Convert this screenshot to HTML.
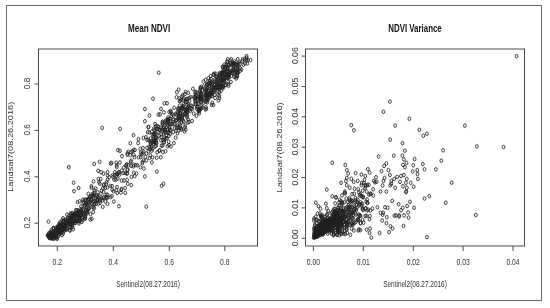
<!DOCTYPE html>
<html><head><meta charset="utf-8"><style>
html,body{margin:0;padding:0;background:#fff;}
svg{display:block;font-family:"Liberation Sans",sans-serif;will-change:transform;}
</style></head><body>
<svg width="550" height="308" viewBox="0 0 550 308">
<rect width="550" height="308" fill="#fff"/>
<rect x="6.5" y="5.5" width="535" height="295" fill="none" stroke="#6a6a6a" stroke-width="1"/>
<line x1="57.3" y1="246" x2="57.3" y2="251" stroke="#4a4a4a" stroke-width="1"/>
<text transform="translate(57.3,265.2) scale(0.69,1)" text-anchor="middle" style="font-size:9.8px;" fill="#333">0.2</text>
<line x1="113.3" y1="246" x2="113.3" y2="251" stroke="#4a4a4a" stroke-width="1"/>
<text transform="translate(113.3,265.2) scale(0.69,1)" text-anchor="middle" style="font-size:9.8px;" fill="#333">0.4</text>
<line x1="169.3" y1="246" x2="169.3" y2="251" stroke="#4a4a4a" stroke-width="1"/>
<text transform="translate(169.3,265.2) scale(0.69,1)" text-anchor="middle" style="font-size:9.8px;" fill="#333">0.6</text>
<line x1="224.8" y1="246" x2="224.8" y2="251" stroke="#4a4a4a" stroke-width="1"/>
<text transform="translate(224.8,265.2) scale(0.69,1)" text-anchor="middle" style="font-size:9.8px;" fill="#333">0.8</text>
<line x1="34.5" y1="223.2" x2="38.5" y2="223.2" stroke="#4a4a4a" stroke-width="1"/>
<text transform="translate(29.9,222.6) rotate(-90) scale(0.88,0.95)" text-anchor="middle" style="font-size:9.4px" fill="#333">0.2</text>
<line x1="34.5" y1="176.8" x2="38.5" y2="176.8" stroke="#4a4a4a" stroke-width="1"/>
<text transform="translate(29.9,176.20000000000002) rotate(-90) scale(0.88,0.95)" text-anchor="middle" style="font-size:9.4px" fill="#333">0.4</text>
<line x1="34.5" y1="130.4" x2="38.5" y2="130.4" stroke="#4a4a4a" stroke-width="1"/>
<text transform="translate(29.9,129.8) rotate(-90) scale(0.88,0.95)" text-anchor="middle" style="font-size:9.4px" fill="#333">0.6</text>
<line x1="34.5" y1="84" x2="38.5" y2="84" stroke="#4a4a4a" stroke-width="1"/>
<text transform="translate(29.9,83.4) rotate(-90) scale(0.88,0.95)" text-anchor="middle" style="font-size:9.4px" fill="#333">0.8</text>
<line x1="313.4" y1="246" x2="313.4" y2="251" stroke="#4a4a4a" stroke-width="1"/>
<text transform="translate(313.4,265.2) scale(0.69,1)" text-anchor="middle" style="font-size:9.8px;" fill="#333">0.00</text>
<line x1="363.3" y1="246" x2="363.3" y2="251" stroke="#4a4a4a" stroke-width="1"/>
<text transform="translate(363.3,265.2) scale(0.69,1)" text-anchor="middle" style="font-size:9.8px;" fill="#333">0.01</text>
<line x1="413.3" y1="246" x2="413.3" y2="251" stroke="#4a4a4a" stroke-width="1"/>
<text transform="translate(413.3,265.2) scale(0.69,1)" text-anchor="middle" style="font-size:9.8px;" fill="#333">0.02</text>
<line x1="463.1" y1="246" x2="463.1" y2="251" stroke="#4a4a4a" stroke-width="1"/>
<text transform="translate(463.1,265.2) scale(0.69,1)" text-anchor="middle" style="font-size:9.8px;" fill="#333">0.03</text>
<line x1="513.0" y1="246" x2="513.0" y2="251" stroke="#4a4a4a" stroke-width="1"/>
<text transform="translate(513.0,265.2) scale(0.69,1)" text-anchor="middle" style="font-size:9.8px;" fill="#333">0.04</text>
<line x1="301.5" y1="238.3" x2="305.5" y2="238.3" stroke="#4a4a4a" stroke-width="1"/>
<text transform="translate(297.6,237.9) rotate(-90) scale(0.92,0.95)" text-anchor="middle" style="font-size:9.4px" fill="#333">0.00</text>
<line x1="301.5" y1="207.9" x2="305.5" y2="207.9" stroke="#4a4a4a" stroke-width="1"/>
<text transform="translate(297.6,207.53) rotate(-90) scale(0.92,0.95)" text-anchor="middle" style="font-size:9.4px" fill="#333">0.01</text>
<line x1="301.5" y1="177.6" x2="305.5" y2="177.6" stroke="#4a4a4a" stroke-width="1"/>
<text transform="translate(297.6,177.16) rotate(-90) scale(0.92,0.95)" text-anchor="middle" style="font-size:9.4px" fill="#333">0.02</text>
<line x1="301.5" y1="147.2" x2="305.5" y2="147.2" stroke="#4a4a4a" stroke-width="1"/>
<text transform="translate(297.6,146.79) rotate(-90) scale(0.92,0.95)" text-anchor="middle" style="font-size:9.4px" fill="#333">0.03</text>
<line x1="301.5" y1="116.8" x2="305.5" y2="116.8" stroke="#4a4a4a" stroke-width="1"/>
<text transform="translate(297.6,116.42) rotate(-90) scale(0.92,0.95)" text-anchor="middle" style="font-size:9.4px" fill="#333">0.04</text>
<line x1="301.5" y1="86.5" x2="305.5" y2="86.5" stroke="#4a4a4a" stroke-width="1"/>
<text transform="translate(297.6,86.05000000000001) rotate(-90) scale(0.92,0.95)" text-anchor="middle" style="font-size:9.4px" fill="#333">0.05</text>
<line x1="301.5" y1="56.1" x2="305.5" y2="56.1" stroke="#4a4a4a" stroke-width="1"/>
<text transform="translate(297.6,55.680000000000014) rotate(-90) scale(0.92,0.95)" text-anchor="middle" style="font-size:9.4px" fill="#333">0.06</text>
<text transform="translate(148,286.6) scale(0.69,1)" text-anchor="middle" style="font-size:9.4px;" fill="#333">Sentinel2(08.27.2016)</text>
<text transform="translate(415,286.6) scale(0.69,1)" text-anchor="middle" style="font-size:9.4px;" fill="#333">Sentinel2(08.27.2016)</text>
<text transform="translate(13.4,146.8) rotate(-90) scale(0.98,0.85)" text-anchor="middle" style="font-size:9.4px" fill="#333">Landsat7(08.26.2016)</text>
<text transform="translate(281.5,147.4) rotate(-90) scale(0.98,0.85)" text-anchor="middle" style="font-size:9.4px" fill="#333">Landsat7(08.26.2016)</text>
<text transform="translate(149.1,32.4) scale(0.765,1)" text-anchor="middle" style="font-size:10.6px;font-weight:bold;" fill="#111">Mean NDVI</text>
<text transform="translate(415,32.4) scale(0.745,1)" text-anchor="middle" style="font-size:10.6px;font-weight:bold;" fill="#111">NDVI Variance</text>
<clipPath id="cl"><rect x="39" y="49" width="218" height="196.5"/></clipPath>
<clipPath id="cr"><rect x="306" y="49" width="218" height="196.5"/></clipPath>
<path clip-path="url(#cl)" d="M48.2,238.1a1.4,1.8 0 1,0 2.8,0a1.4,1.8 0 1,0 -2.8,0M47.6,237.5a1.4,1.8 0 1,0 2.8,0a1.4,1.8 0 1,0 -2.8,0M47.8,237.3a1.4,1.8 0 1,0 2.8,0a1.4,1.8 0 1,0 -2.8,0M46.1,235.2a1.4,1.8 0 1,0 2.8,0a1.4,1.8 0 1,0 -2.8,0M46.8,235.7a1.4,1.8 0 1,0 2.8,0a1.4,1.8 0 1,0 -2.8,0M47.2,236.0a1.4,1.8 0 1,0 2.8,0a1.4,1.8 0 1,0 -2.8,0M46.8,235.2a1.4,1.8 0 1,0 2.8,0a1.4,1.8 0 1,0 -2.8,0M50.0,238.4a1.4,1.8 0 1,0 2.8,0a1.4,1.8 0 1,0 -2.8,0M47.4,235.3a1.4,1.8 0 1,0 2.8,0a1.4,1.8 0 1,0 -2.8,0M48.4,236.4a1.4,1.8 0 1,0 2.8,0a1.4,1.8 0 1,0 -2.8,0M50.4,238.4a1.4,1.8 0 1,0 2.8,0a1.4,1.8 0 1,0 -2.8,0M49.4,236.9a1.4,1.8 0 1,0 2.8,0a1.4,1.8 0 1,0 -2.8,0M50.5,237.9a1.4,1.8 0 1,0 2.8,0a1.4,1.8 0 1,0 -2.8,0M48.4,235.2a1.4,1.8 0 1,0 2.8,0a1.4,1.8 0 1,0 -2.8,0M50.7,237.6a1.4,1.8 0 1,0 2.8,0a1.4,1.8 0 1,0 -2.8,0M49.8,236.5a1.4,1.8 0 1,0 2.8,0a1.4,1.8 0 1,0 -2.8,0M52.3,238.9a1.4,1.8 0 1,0 2.8,0a1.4,1.8 0 1,0 -2.8,0M49.8,236.0a1.4,1.8 0 1,0 2.8,0a1.4,1.8 0 1,0 -2.8,0M50.8,236.8a1.4,1.8 0 1,0 2.8,0a1.4,1.8 0 1,0 -2.8,0M47.6,232.9a1.4,1.8 0 1,0 2.8,0a1.4,1.8 0 1,0 -2.8,0M50.6,236.2a1.4,1.8 0 1,0 2.8,0a1.4,1.8 0 1,0 -2.8,0M48.9,233.9a1.4,1.8 0 1,0 2.8,0a1.4,1.8 0 1,0 -2.8,0M52.0,237.2a1.4,1.8 0 1,0 2.8,0a1.4,1.8 0 1,0 -2.8,0M52.9,238.1a1.4,1.8 0 1,0 2.8,0a1.4,1.8 0 1,0 -2.8,0M48.8,233.3a1.4,1.8 0 1,0 2.8,0a1.4,1.8 0 1,0 -2.8,0M50.5,234.9a1.4,1.8 0 1,0 2.8,0a1.4,1.8 0 1,0 -2.8,0M51.6,236.1a1.4,1.8 0 1,0 2.8,0a1.4,1.8 0 1,0 -2.8,0M49.7,233.6a1.4,1.8 0 1,0 2.8,0a1.4,1.8 0 1,0 -2.8,0M49.1,232.7a1.4,1.8 0 1,0 2.8,0a1.4,1.8 0 1,0 -2.8,0M51.8,235.5a1.4,1.8 0 1,0 2.8,0a1.4,1.8 0 1,0 -2.8,0M50.2,233.5a1.4,1.8 0 1,0 2.8,0a1.4,1.8 0 1,0 -2.8,0M51.5,234.9a1.4,1.8 0 1,0 2.8,0a1.4,1.8 0 1,0 -2.8,0M53.4,236.7a1.4,1.8 0 1,0 2.8,0a1.4,1.8 0 1,0 -2.8,0M54.8,238.2a1.4,1.8 0 1,0 2.8,0a1.4,1.8 0 1,0 -2.8,0M50.3,232.8a1.4,1.8 0 1,0 2.8,0a1.4,1.8 0 1,0 -2.8,0M55.8,238.8a1.4,1.8 0 1,0 2.8,0a1.4,1.8 0 1,0 -2.8,0M49.6,231.7a1.4,1.8 0 1,0 2.8,0a1.4,1.8 0 1,0 -2.8,0M51.9,234.0a1.4,1.8 0 1,0 2.8,0a1.4,1.8 0 1,0 -2.8,0M52.7,234.8a1.4,1.8 0 1,0 2.8,0a1.4,1.8 0 1,0 -2.8,0M54.3,236.2a1.4,1.8 0 1,0 2.8,0a1.4,1.8 0 1,0 -2.8,0M55.2,237.1a1.4,1.8 0 1,0 2.8,0a1.4,1.8 0 1,0 -2.8,0M54.0,235.5a1.4,1.8 0 1,0 2.8,0a1.4,1.8 0 1,0 -2.8,0M53.7,234.9a1.4,1.8 0 1,0 2.8,0a1.4,1.8 0 1,0 -2.8,0M55.3,236.7a1.4,1.8 0 1,0 2.8,0a1.4,1.8 0 1,0 -2.8,0M52.7,233.5a1.4,1.8 0 1,0 2.8,0a1.4,1.8 0 1,0 -2.8,0M54.2,234.9a1.4,1.8 0 1,0 2.8,0a1.4,1.8 0 1,0 -2.8,0M49.9,229.9a1.4,1.8 0 1,0 2.8,0a1.4,1.8 0 1,0 -2.8,0M52.8,232.9a1.4,1.8 0 1,0 2.8,0a1.4,1.8 0 1,0 -2.8,0M54.6,234.8a1.4,1.8 0 1,0 2.8,0a1.4,1.8 0 1,0 -2.8,0M52.3,231.9a1.4,1.8 0 1,0 2.8,0a1.4,1.8 0 1,0 -2.8,0M52.9,232.4a1.4,1.8 0 1,0 2.8,0a1.4,1.8 0 1,0 -2.8,0M54.5,233.9a1.4,1.8 0 1,0 2.8,0a1.4,1.8 0 1,0 -2.8,0M54.1,233.4a1.4,1.8 0 1,0 2.8,0a1.4,1.8 0 1,0 -2.8,0M53.8,232.7a1.4,1.8 0 1,0 2.8,0a1.4,1.8 0 1,0 -2.8,0M53.9,232.7a1.4,1.8 0 1,0 2.8,0a1.4,1.8 0 1,0 -2.8,0M57.1,236.2a1.4,1.8 0 1,0 2.8,0a1.4,1.8 0 1,0 -2.8,0M53.6,232.0a1.4,1.8 0 1,0 2.8,0a1.4,1.8 0 1,0 -2.8,0M52.8,230.9a1.4,1.8 0 1,0 2.8,0a1.4,1.8 0 1,0 -2.8,0M54.8,232.7a1.4,1.8 0 1,0 2.8,0a1.4,1.8 0 1,0 -2.8,0M54.9,232.8a1.4,1.8 0 1,0 2.8,0a1.4,1.8 0 1,0 -2.8,0M54.7,232.2a1.4,1.8 0 1,0 2.8,0a1.4,1.8 0 1,0 -2.8,0M54.0,231.3a1.4,1.8 0 1,0 2.8,0a1.4,1.8 0 1,0 -2.8,0M52.2,229.1a1.4,1.8 0 1,0 2.8,0a1.4,1.8 0 1,0 -2.8,0M56.0,233.0a1.4,1.8 0 1,0 2.8,0a1.4,1.8 0 1,0 -2.8,0M55.3,232.0a1.4,1.8 0 1,0 2.8,0a1.4,1.8 0 1,0 -2.8,0M52.0,228.1a1.4,1.8 0 1,0 2.8,0a1.4,1.8 0 1,0 -2.8,0M55.7,232.2a1.4,1.8 0 1,0 2.8,0a1.4,1.8 0 1,0 -2.8,0M57.9,234.4a1.4,1.8 0 1,0 2.8,0a1.4,1.8 0 1,0 -2.8,0M52.3,228.0a1.4,1.8 0 1,0 2.8,0a1.4,1.8 0 1,0 -2.8,0M56.8,232.8a1.4,1.8 0 1,0 2.8,0a1.4,1.8 0 1,0 -2.8,0M54.3,229.6a1.4,1.8 0 1,0 2.8,0a1.4,1.8 0 1,0 -2.8,0M57.1,232.8a1.4,1.8 0 1,0 2.8,0a1.4,1.8 0 1,0 -2.8,0M56.0,231.0a1.4,1.8 0 1,0 2.8,0a1.4,1.8 0 1,0 -2.8,0M58.4,233.7a1.4,1.8 0 1,0 2.8,0a1.4,1.8 0 1,0 -2.8,0M55.4,230.1a1.4,1.8 0 1,0 2.8,0a1.4,1.8 0 1,0 -2.8,0M56.0,230.6a1.4,1.8 0 1,0 2.8,0a1.4,1.8 0 1,0 -2.8,0M56.8,231.4a1.4,1.8 0 1,0 2.8,0a1.4,1.8 0 1,0 -2.8,0M57.2,231.5a1.4,1.8 0 1,0 2.8,0a1.4,1.8 0 1,0 -2.8,0M60.6,235.0a1.4,1.8 0 1,0 2.8,0a1.4,1.8 0 1,0 -2.8,0M56.5,230.1a1.4,1.8 0 1,0 2.8,0a1.4,1.8 0 1,0 -2.8,0M55.7,229.2a1.4,1.8 0 1,0 2.8,0a1.4,1.8 0 1,0 -2.8,0M57.5,230.9a1.4,1.8 0 1,0 2.8,0a1.4,1.8 0 1,0 -2.8,0M58.0,231.3a1.4,1.8 0 1,0 2.8,0a1.4,1.8 0 1,0 -2.8,0M54.8,227.5a1.4,1.8 0 1,0 2.8,0a1.4,1.8 0 1,0 -2.8,0M57.2,230.0a1.4,1.8 0 1,0 2.8,0a1.4,1.8 0 1,0 -2.8,0M57.4,230.1a1.4,1.8 0 1,0 2.8,0a1.4,1.8 0 1,0 -2.8,0M59.6,232.3a1.4,1.8 0 1,0 2.8,0a1.4,1.8 0 1,0 -2.8,0M59.4,231.9a1.4,1.8 0 1,0 2.8,0a1.4,1.8 0 1,0 -2.8,0M58.3,230.4a1.4,1.8 0 1,0 2.8,0a1.4,1.8 0 1,0 -2.8,0M59.0,231.0a1.4,1.8 0 1,0 2.8,0a1.4,1.8 0 1,0 -2.8,0M56.7,228.1a1.4,1.8 0 1,0 2.8,0a1.4,1.8 0 1,0 -2.8,0M58.5,229.9a1.4,1.8 0 1,0 2.8,0a1.4,1.8 0 1,0 -2.8,0M61.8,233.5a1.4,1.8 0 1,0 2.8,0a1.4,1.8 0 1,0 -2.8,0M56.1,226.7a1.4,1.8 0 1,0 2.8,0a1.4,1.8 0 1,0 -2.8,0M56.3,226.9a1.4,1.8 0 1,0 2.8,0a1.4,1.8 0 1,0 -2.8,0M58.4,229.1a1.4,1.8 0 1,0 2.8,0a1.4,1.8 0 1,0 -2.8,0M57.7,228.0a1.4,1.8 0 1,0 2.8,0a1.4,1.8 0 1,0 -2.8,0M58.6,228.9a1.4,1.8 0 1,0 2.8,0a1.4,1.8 0 1,0 -2.8,0M57.6,227.4a1.4,1.8 0 1,0 2.8,0a1.4,1.8 0 1,0 -2.8,0M60.6,230.5a1.4,1.8 0 1,0 2.8,0a1.4,1.8 0 1,0 -2.8,0M58.0,227.5a1.4,1.8 0 1,0 2.8,0a1.4,1.8 0 1,0 -2.8,0M61.8,231.5a1.4,1.8 0 1,0 2.8,0a1.4,1.8 0 1,0 -2.8,0M59.7,229.0a1.4,1.8 0 1,0 2.8,0a1.4,1.8 0 1,0 -2.8,0M60.8,230.1a1.4,1.8 0 1,0 2.8,0a1.4,1.8 0 1,0 -2.8,0M57.5,226.1a1.4,1.8 0 1,0 2.8,0a1.4,1.8 0 1,0 -2.8,0M58.1,226.5a1.4,1.8 0 1,0 2.8,0a1.4,1.8 0 1,0 -2.8,0M60.8,229.5a1.4,1.8 0 1,0 2.8,0a1.4,1.8 0 1,0 -2.8,0M61.2,229.6a1.4,1.8 0 1,0 2.8,0a1.4,1.8 0 1,0 -2.8,0M60.7,228.8a1.4,1.8 0 1,0 2.8,0a1.4,1.8 0 1,0 -2.8,0M62.7,230.8a1.4,1.8 0 1,0 2.8,0a1.4,1.8 0 1,0 -2.8,0M61.6,229.4a1.4,1.8 0 1,0 2.8,0a1.4,1.8 0 1,0 -2.8,0M59.0,226.2a1.4,1.8 0 1,0 2.8,0a1.4,1.8 0 1,0 -2.8,0M61.7,229.1a1.4,1.8 0 1,0 2.8,0a1.4,1.8 0 1,0 -2.8,0M61.2,228.4a1.4,1.8 0 1,0 2.8,0a1.4,1.8 0 1,0 -2.8,0M61.3,228.3a1.4,1.8 0 1,0 2.8,0a1.4,1.8 0 1,0 -2.8,0M58.2,224.5a1.4,1.8 0 1,0 2.8,0a1.4,1.8 0 1,0 -2.8,0M57.7,223.7a1.4,1.8 0 1,0 2.8,0a1.4,1.8 0 1,0 -2.8,0M59.5,225.6a1.4,1.8 0 1,0 2.8,0a1.4,1.8 0 1,0 -2.8,0M58.8,224.5a1.4,1.8 0 1,0 2.8,0a1.4,1.8 0 1,0 -2.8,0M60.2,225.9a1.4,1.8 0 1,0 2.8,0a1.4,1.8 0 1,0 -2.8,0M62.9,228.7a1.4,1.8 0 1,0 2.8,0a1.4,1.8 0 1,0 -2.8,0M59.6,224.9a1.4,1.8 0 1,0 2.8,0a1.4,1.8 0 1,0 -2.8,0M61.4,226.5a1.4,1.8 0 1,0 2.8,0a1.4,1.8 0 1,0 -2.8,0M64.7,230.0a1.4,1.8 0 1,0 2.8,0a1.4,1.8 0 1,0 -2.8,0M60.5,225.3a1.4,1.8 0 1,0 2.8,0a1.4,1.8 0 1,0 -2.8,0M60.7,225.2a1.4,1.8 0 1,0 2.8,0a1.4,1.8 0 1,0 -2.8,0M62.2,226.7a1.4,1.8 0 1,0 2.8,0a1.4,1.8 0 1,0 -2.8,0M64.1,228.6a1.4,1.8 0 1,0 2.8,0a1.4,1.8 0 1,0 -2.8,0M61.3,225.1a1.4,1.8 0 1,0 2.8,0a1.4,1.8 0 1,0 -2.8,0M58.8,222.3a1.4,1.8 0 1,0 2.8,0a1.4,1.8 0 1,0 -2.8,0M62.0,225.6a1.4,1.8 0 1,0 2.8,0a1.4,1.8 0 1,0 -2.8,0M62.9,226.5a1.4,1.8 0 1,0 2.8,0a1.4,1.8 0 1,0 -2.8,0M65.2,228.7a1.4,1.8 0 1,0 2.8,0a1.4,1.8 0 1,0 -2.8,0M62.7,225.8a1.4,1.8 0 1,0 2.8,0a1.4,1.8 0 1,0 -2.8,0M63.2,226.2a1.4,1.8 0 1,0 2.8,0a1.4,1.8 0 1,0 -2.8,0M65.6,228.5a1.4,1.8 0 1,0 2.8,0a1.4,1.8 0 1,0 -2.8,0M62.4,224.8a1.4,1.8 0 1,0 2.8,0a1.4,1.8 0 1,0 -2.8,0M63.2,225.5a1.4,1.8 0 1,0 2.8,0a1.4,1.8 0 1,0 -2.8,0M63.5,225.5a1.4,1.8 0 1,0 2.8,0a1.4,1.8 0 1,0 -2.8,0M62.8,224.6a1.4,1.8 0 1,0 2.8,0a1.4,1.8 0 1,0 -2.8,0M63.5,225.1a1.4,1.8 0 1,0 2.8,0a1.4,1.8 0 1,0 -2.8,0M68.6,230.6a1.4,1.8 0 1,0 2.8,0a1.4,1.8 0 1,0 -2.8,0M68.2,229.8a1.4,1.8 0 1,0 2.8,0a1.4,1.8 0 1,0 -2.8,0M63.0,223.7a1.4,1.8 0 1,0 2.8,0a1.4,1.8 0 1,0 -2.8,0M63.7,224.3a1.4,1.8 0 1,0 2.8,0a1.4,1.8 0 1,0 -2.8,0M60.5,220.5a1.4,1.8 0 1,0 2.8,0a1.4,1.8 0 1,0 -2.8,0M61.8,221.7a1.4,1.8 0 1,0 2.8,0a1.4,1.8 0 1,0 -2.8,0M62.4,222.0a1.4,1.8 0 1,0 2.8,0a1.4,1.8 0 1,0 -2.8,0M65.1,224.7a1.4,1.8 0 1,0 2.8,0a1.4,1.8 0 1,0 -2.8,0M64.3,223.5a1.4,1.8 0 1,0 2.8,0a1.4,1.8 0 1,0 -2.8,0M62.7,221.4a1.4,1.8 0 1,0 2.8,0a1.4,1.8 0 1,0 -2.8,0M65.1,224.0a1.4,1.8 0 1,0 2.8,0a1.4,1.8 0 1,0 -2.8,0M62.1,220.3a1.4,1.8 0 1,0 2.8,0a1.4,1.8 0 1,0 -2.8,0M66.1,224.4a1.4,1.8 0 1,0 2.8,0a1.4,1.8 0 1,0 -2.8,0M68.7,227.3a1.4,1.8 0 1,0 2.8,0a1.4,1.8 0 1,0 -2.8,0M69.0,227.2a1.4,1.8 0 1,0 2.8,0a1.4,1.8 0 1,0 -2.8,0M65.4,223.1a1.4,1.8 0 1,0 2.8,0a1.4,1.8 0 1,0 -2.8,0M65.0,222.2a1.4,1.8 0 1,0 2.8,0a1.4,1.8 0 1,0 -2.8,0M61.7,218.2a1.4,1.8 0 1,0 2.8,0a1.4,1.8 0 1,0 -2.8,0M71.8,229.3a1.4,1.8 0 1,0 2.8,0a1.4,1.8 0 1,0 -2.8,0M67.1,223.8a1.4,1.8 0 1,0 2.8,0a1.4,1.8 0 1,0 -2.8,0M70.5,227.4a1.4,1.8 0 1,0 2.8,0a1.4,1.8 0 1,0 -2.8,0M64.1,220.0a1.4,1.8 0 1,0 2.8,0a1.4,1.8 0 1,0 -2.8,0M67.1,222.9a1.4,1.8 0 1,0 2.8,0a1.4,1.8 0 1,0 -2.8,0M65.6,221.0a1.4,1.8 0 1,0 2.8,0a1.4,1.8 0 1,0 -2.8,0M68.7,224.2a1.4,1.8 0 1,0 2.8,0a1.4,1.8 0 1,0 -2.8,0M71.1,226.8a1.4,1.8 0 1,0 2.8,0a1.4,1.8 0 1,0 -2.8,0M65.9,220.6a1.4,1.8 0 1,0 2.8,0a1.4,1.8 0 1,0 -2.8,0M68.3,223.0a1.4,1.8 0 1,0 2.8,0a1.4,1.8 0 1,0 -2.8,0M69.4,224.0a1.4,1.8 0 1,0 2.8,0a1.4,1.8 0 1,0 -2.8,0M70.5,225.0a1.4,1.8 0 1,0 2.8,0a1.4,1.8 0 1,0 -2.8,0M68.2,221.9a1.4,1.8 0 1,0 2.8,0a1.4,1.8 0 1,0 -2.8,0M68.3,221.9a1.4,1.8 0 1,0 2.8,0a1.4,1.8 0 1,0 -2.8,0M65.8,218.8a1.4,1.8 0 1,0 2.8,0a1.4,1.8 0 1,0 -2.8,0M68.2,221.3a1.4,1.8 0 1,0 2.8,0a1.4,1.8 0 1,0 -2.8,0M71.2,224.5a1.4,1.8 0 1,0 2.8,0a1.4,1.8 0 1,0 -2.8,0M68.7,221.5a1.4,1.8 0 1,0 2.8,0a1.4,1.8 0 1,0 -2.8,0M67.6,219.7a1.4,1.8 0 1,0 2.8,0a1.4,1.8 0 1,0 -2.8,0M66.3,218.0a1.4,1.8 0 1,0 2.8,0a1.4,1.8 0 1,0 -2.8,0M71.1,223.2a1.4,1.8 0 1,0 2.8,0a1.4,1.8 0 1,0 -2.8,0M70.3,221.9a1.4,1.8 0 1,0 2.8,0a1.4,1.8 0 1,0 -2.8,0M70.5,222.0a1.4,1.8 0 1,0 2.8,0a1.4,1.8 0 1,0 -2.8,0M69.5,220.6a1.4,1.8 0 1,0 2.8,0a1.4,1.8 0 1,0 -2.8,0M70.1,220.9a1.4,1.8 0 1,0 2.8,0a1.4,1.8 0 1,0 -2.8,0M68.1,218.3a1.4,1.8 0 1,0 2.8,0a1.4,1.8 0 1,0 -2.8,0M72.1,222.7a1.4,1.8 0 1,0 2.8,0a1.4,1.8 0 1,0 -2.8,0M71.5,221.8a1.4,1.8 0 1,0 2.8,0a1.4,1.8 0 1,0 -2.8,0M68.9,218.6a1.4,1.8 0 1,0 2.8,0a1.4,1.8 0 1,0 -2.8,0M65.6,214.6a1.4,1.8 0 1,0 2.8,0a1.4,1.8 0 1,0 -2.8,0M69.3,218.6a1.4,1.8 0 1,0 2.8,0a1.4,1.8 0 1,0 -2.8,0M69.7,218.6a1.4,1.8 0 1,0 2.8,0a1.4,1.8 0 1,0 -2.8,0M74.0,223.1a1.4,1.8 0 1,0 2.8,0a1.4,1.8 0 1,0 -2.8,0M67.7,215.8a1.4,1.8 0 1,0 2.8,0a1.4,1.8 0 1,0 -2.8,0M73.8,222.6a1.4,1.8 0 1,0 2.8,0a1.4,1.8 0 1,0 -2.8,0M69.2,217.0a1.4,1.8 0 1,0 2.8,0a1.4,1.8 0 1,0 -2.8,0M73.3,221.2a1.4,1.8 0 1,0 2.8,0a1.4,1.8 0 1,0 -2.8,0M70.3,217.6a1.4,1.8 0 1,0 2.8,0a1.4,1.8 0 1,0 -2.8,0M70.3,217.5a1.4,1.8 0 1,0 2.8,0a1.4,1.8 0 1,0 -2.8,0M72.1,219.2a1.4,1.8 0 1,0 2.8,0a1.4,1.8 0 1,0 -2.8,0M73.9,220.8a1.4,1.8 0 1,0 2.8,0a1.4,1.8 0 1,0 -2.8,0M73.0,219.8a1.4,1.8 0 1,0 2.8,0a1.4,1.8 0 1,0 -2.8,0M70.3,216.4a1.4,1.8 0 1,0 2.8,0a1.4,1.8 0 1,0 -2.8,0M74.6,221.0a1.4,1.8 0 1,0 2.8,0a1.4,1.8 0 1,0 -2.8,0M73.7,219.8a1.4,1.8 0 1,0 2.8,0a1.4,1.8 0 1,0 -2.8,0M71.5,216.9a1.4,1.8 0 1,0 2.8,0a1.4,1.8 0 1,0 -2.8,0M77.6,223.4a1.4,1.8 0 1,0 2.8,0a1.4,1.8 0 1,0 -2.8,0M69.7,214.3a1.4,1.8 0 1,0 2.8,0a1.4,1.8 0 1,0 -2.8,0M69.1,213.5a1.4,1.8 0 1,0 2.8,0a1.4,1.8 0 1,0 -2.8,0M73.4,218.0a1.4,1.8 0 1,0 2.8,0a1.4,1.8 0 1,0 -2.8,0M74.9,219.4a1.4,1.8 0 1,0 2.8,0a1.4,1.8 0 1,0 -2.8,0M71.1,214.9a1.4,1.8 0 1,0 2.8,0a1.4,1.8 0 1,0 -2.8,0M76.9,221.1a1.4,1.8 0 1,0 2.8,0a1.4,1.8 0 1,0 -2.8,0M72.4,215.7a1.4,1.8 0 1,0 2.8,0a1.4,1.8 0 1,0 -2.8,0M72.4,215.4a1.4,1.8 0 1,0 2.8,0a1.4,1.8 0 1,0 -2.8,0M77.9,221.4a1.4,1.8 0 1,0 2.8,0a1.4,1.8 0 1,0 -2.8,0M70.7,213.1a1.4,1.8 0 1,0 2.8,0a1.4,1.8 0 1,0 -2.8,0M78.0,220.9a1.4,1.8 0 1,0 2.8,0a1.4,1.8 0 1,0 -2.8,0M73.4,215.5a1.4,1.8 0 1,0 2.8,0a1.4,1.8 0 1,0 -2.8,0M78.2,220.6a1.4,1.8 0 1,0 2.8,0a1.4,1.8 0 1,0 -2.8,0M73.4,214.9a1.4,1.8 0 1,0 2.8,0a1.4,1.8 0 1,0 -2.8,0M72.6,213.9a1.4,1.8 0 1,0 2.8,0a1.4,1.8 0 1,0 -2.8,0M72.8,213.8a1.4,1.8 0 1,0 2.8,0a1.4,1.8 0 1,0 -2.8,0M77.9,219.3a1.4,1.8 0 1,0 2.8,0a1.4,1.8 0 1,0 -2.8,0M80.5,221.9a1.4,1.8 0 1,0 2.8,0a1.4,1.8 0 1,0 -2.8,0M76.7,217.4a1.4,1.8 0 1,0 2.8,0a1.4,1.8 0 1,0 -2.8,0M74.9,214.9a1.4,1.8 0 1,0 2.8,0a1.4,1.8 0 1,0 -2.8,0M77.9,218.3a1.4,1.8 0 1,0 2.8,0a1.4,1.8 0 1,0 -2.8,0M76.3,216.2a1.4,1.8 0 1,0 2.8,0a1.4,1.8 0 1,0 -2.8,0M79.0,218.8a1.4,1.8 0 1,0 2.8,0a1.4,1.8 0 1,0 -2.8,0M73.7,212.7a1.4,1.8 0 1,0 2.8,0a1.4,1.8 0 1,0 -2.8,0M76.8,215.9a1.4,1.8 0 1,0 2.8,0a1.4,1.8 0 1,0 -2.8,0M80.8,220.2a1.4,1.8 0 1,0 2.8,0a1.4,1.8 0 1,0 -2.8,0M75.8,214.3a1.4,1.8 0 1,0 2.8,0a1.4,1.8 0 1,0 -2.8,0M75.8,214.0a1.4,1.8 0 1,0 2.8,0a1.4,1.8 0 1,0 -2.8,0M78.1,216.1a1.4,1.8 0 1,0 2.8,0a1.4,1.8 0 1,0 -2.8,0M77.8,215.7a1.4,1.8 0 1,0 2.8,0a1.4,1.8 0 1,0 -2.8,0M75.7,213.1a1.4,1.8 0 1,0 2.8,0a1.4,1.8 0 1,0 -2.8,0M78.2,215.6a1.4,1.8 0 1,0 2.8,0a1.4,1.8 0 1,0 -2.8,0M77.7,214.8a1.4,1.8 0 1,0 2.8,0a1.4,1.8 0 1,0 -2.8,0M80.8,218.0a1.4,1.8 0 1,0 2.8,0a1.4,1.8 0 1,0 -2.8,0M77.9,214.5a1.4,1.8 0 1,0 2.8,0a1.4,1.8 0 1,0 -2.8,0M77.1,213.4a1.4,1.8 0 1,0 2.8,0a1.4,1.8 0 1,0 -2.8,0M74.6,210.1a1.4,1.8 0 1,0 2.8,0a1.4,1.8 0 1,0 -2.8,0M79.9,216.0a1.4,1.8 0 1,0 2.8,0a1.4,1.8 0 1,0 -2.8,0M79.6,215.2a1.4,1.8 0 1,0 2.8,0a1.4,1.8 0 1,0 -2.8,0M76.9,211.9a1.4,1.8 0 1,0 2.8,0a1.4,1.8 0 1,0 -2.8,0M83.5,219.1a1.4,1.8 0 1,0 2.8,0a1.4,1.8 0 1,0 -2.8,0M75.7,210.1a1.4,1.8 0 1,0 2.8,0a1.4,1.8 0 1,0 -2.8,0M79.5,214.1a1.4,1.8 0 1,0 2.8,0a1.4,1.8 0 1,0 -2.8,0M76.7,210.6a1.4,1.8 0 1,0 2.8,0a1.4,1.8 0 1,0 -2.8,0M77.5,211.3a1.4,1.8 0 1,0 2.8,0a1.4,1.8 0 1,0 -2.8,0M83.8,218.0a1.4,1.8 0 1,0 2.8,0a1.4,1.8 0 1,0 -2.8,0M79.2,212.7a1.4,1.8 0 1,0 2.8,0a1.4,1.8 0 1,0 -2.8,0M79.0,212.2a1.4,1.8 0 1,0 2.8,0a1.4,1.8 0 1,0 -2.8,0M79.7,212.7a1.4,1.8 0 1,0 2.8,0a1.4,1.8 0 1,0 -2.8,0M83.7,216.7a1.4,1.8 0 1,0 2.8,0a1.4,1.8 0 1,0 -2.8,0M84.0,216.8a1.4,1.8 0 1,0 2.8,0a1.4,1.8 0 1,0 -2.8,0M82.0,214.2a1.4,1.8 0 1,0 2.8,0a1.4,1.8 0 1,0 -2.8,0M81.3,213.2a1.4,1.8 0 1,0 2.8,0a1.4,1.8 0 1,0 -2.8,0M82.1,214.0a1.4,1.8 0 1,0 2.8,0a1.4,1.8 0 1,0 -2.8,0M82.7,214.3a1.4,1.8 0 1,0 2.8,0a1.4,1.8 0 1,0 -2.8,0M80.1,210.9a1.4,1.8 0 1,0 2.8,0a1.4,1.8 0 1,0 -2.8,0M79.9,209.8a1.4,1.8 0 1,0 2.8,0a1.4,1.8 0 1,0 -2.8,0M88.9,219.5a1.4,1.8 0 1,0 2.8,0a1.4,1.8 0 1,0 -2.8,0M84.0,213.8a1.4,1.8 0 1,0 2.8,0a1.4,1.8 0 1,0 -2.8,0M80.0,208.7a1.4,1.8 0 1,0 2.8,0a1.4,1.8 0 1,0 -2.8,0M81.3,209.7a1.4,1.8 0 1,0 2.8,0a1.4,1.8 0 1,0 -2.8,0M84.7,213.3a1.4,1.8 0 1,0 2.8,0a1.4,1.8 0 1,0 -2.8,0M90.4,218.8a1.4,1.8 0 1,0 2.8,0a1.4,1.8 0 1,0 -2.8,0M79.6,206.4a1.4,1.8 0 1,0 2.8,0a1.4,1.8 0 1,0 -2.8,0M76.1,202.1a1.4,1.8 0 1,0 2.8,0a1.4,1.8 0 1,0 -2.8,0M84.4,210.8a1.4,1.8 0 1,0 2.8,0a1.4,1.8 0 1,0 -2.8,0M84.7,210.8a1.4,1.8 0 1,0 2.8,0a1.4,1.8 0 1,0 -2.8,0M86.0,211.7a1.4,1.8 0 1,0 2.8,0a1.4,1.8 0 1,0 -2.8,0M84.7,209.7a1.4,1.8 0 1,0 2.8,0a1.4,1.8 0 1,0 -2.8,0M89.1,214.1a1.4,1.8 0 1,0 2.8,0a1.4,1.8 0 1,0 -2.8,0M78.2,201.3a1.4,1.8 0 1,0 2.8,0a1.4,1.8 0 1,0 -2.8,0M86.4,210.2a1.4,1.8 0 1,0 2.8,0a1.4,1.8 0 1,0 -2.8,0M83.6,206.7a1.4,1.8 0 1,0 2.8,0a1.4,1.8 0 1,0 -2.8,0M83.3,205.6a1.4,1.8 0 1,0 2.8,0a1.4,1.8 0 1,0 -2.8,0M83.4,205.4a1.4,1.8 0 1,0 2.8,0a1.4,1.8 0 1,0 -2.8,0M81.9,203.3a1.4,1.8 0 1,0 2.8,0a1.4,1.8 0 1,0 -2.8,0M87.3,208.8a1.4,1.8 0 1,0 2.8,0a1.4,1.8 0 1,0 -2.8,0M87.7,208.6a1.4,1.8 0 1,0 2.8,0a1.4,1.8 0 1,0 -2.8,0M81.8,201.6a1.4,1.8 0 1,0 2.8,0a1.4,1.8 0 1,0 -2.8,0M87.3,207.5a1.4,1.8 0 1,0 2.8,0a1.4,1.8 0 1,0 -2.8,0M84.9,204.2a1.4,1.8 0 1,0 2.8,0a1.4,1.8 0 1,0 -2.8,0M81.4,199.7a1.4,1.8 0 1,0 2.8,0a1.4,1.8 0 1,0 -2.8,0M84.6,203.1a1.4,1.8 0 1,0 2.8,0a1.4,1.8 0 1,0 -2.8,0M86.4,204.5a1.4,1.8 0 1,0 2.8,0a1.4,1.8 0 1,0 -2.8,0M84.3,201.6a1.4,1.8 0 1,0 2.8,0a1.4,1.8 0 1,0 -2.8,0M83.7,200.3a1.4,1.8 0 1,0 2.8,0a1.4,1.8 0 1,0 -2.8,0M86.8,203.4a1.4,1.8 0 1,0 2.8,0a1.4,1.8 0 1,0 -2.8,0M88.4,204.6a1.4,1.8 0 1,0 2.8,0a1.4,1.8 0 1,0 -2.8,0M91.0,207.0a1.4,1.8 0 1,0 2.8,0a1.4,1.8 0 1,0 -2.8,0M84.2,199.3a1.4,1.8 0 1,0 2.8,0a1.4,1.8 0 1,0 -2.8,0M92.8,208.4a1.4,1.8 0 1,0 2.8,0a1.4,1.8 0 1,0 -2.8,0M92.3,207.2a1.4,1.8 0 1,0 2.8,0a1.4,1.8 0 1,0 -2.8,0M86.4,200.3a1.4,1.8 0 1,0 2.8,0a1.4,1.8 0 1,0 -2.8,0M86.6,199.7a1.4,1.8 0 1,0 2.8,0a1.4,1.8 0 1,0 -2.8,0M90.3,203.7a1.4,1.8 0 1,0 2.8,0a1.4,1.8 0 1,0 -2.8,0M89.1,201.6a1.4,1.8 0 1,0 2.8,0a1.4,1.8 0 1,0 -2.8,0M87.4,199.2a1.4,1.8 0 1,0 2.8,0a1.4,1.8 0 1,0 -2.8,0M87.2,198.6a1.4,1.8 0 1,0 2.8,0a1.4,1.8 0 1,0 -2.8,0M92.6,204.2a1.4,1.8 0 1,0 2.8,0a1.4,1.8 0 1,0 -2.8,0M89.8,200.6a1.4,1.8 0 1,0 2.8,0a1.4,1.8 0 1,0 -2.8,0M89.5,199.7a1.4,1.8 0 1,0 2.8,0a1.4,1.8 0 1,0 -2.8,0M93.4,203.8a1.4,1.8 0 1,0 2.8,0a1.4,1.8 0 1,0 -2.8,0M90.1,199.6a1.4,1.8 0 1,0 2.8,0a1.4,1.8 0 1,0 -2.8,0M88.3,196.9a1.4,1.8 0 1,0 2.8,0a1.4,1.8 0 1,0 -2.8,0M94.8,203.7a1.4,1.8 0 1,0 2.8,0a1.4,1.8 0 1,0 -2.8,0M92.9,201.4a1.4,1.8 0 1,0 2.8,0a1.4,1.8 0 1,0 -2.8,0M86.9,193.9a1.4,1.8 0 1,0 2.8,0a1.4,1.8 0 1,0 -2.8,0M89.4,196.3a1.4,1.8 0 1,0 2.8,0a1.4,1.8 0 1,0 -2.8,0M93.8,200.8a1.4,1.8 0 1,0 2.8,0a1.4,1.8 0 1,0 -2.8,0M94.5,201.3a1.4,1.8 0 1,0 2.8,0a1.4,1.8 0 1,0 -2.8,0M97.1,203.7a1.4,1.8 0 1,0 2.8,0a1.4,1.8 0 1,0 -2.8,0M90.7,195.9a1.4,1.8 0 1,0 2.8,0a1.4,1.8 0 1,0 -2.8,0M92.3,197.3a1.4,1.8 0 1,0 2.8,0a1.4,1.8 0 1,0 -2.8,0M95.7,200.4a1.4,1.8 0 1,0 2.8,0a1.4,1.8 0 1,0 -2.8,0M92.2,196.1a1.4,1.8 0 1,0 2.8,0a1.4,1.8 0 1,0 -2.8,0M98.6,202.8a1.4,1.8 0 1,0 2.8,0a1.4,1.8 0 1,0 -2.8,0M91.0,193.9a1.4,1.8 0 1,0 2.8,0a1.4,1.8 0 1,0 -2.8,0M96.4,199.6a1.4,1.8 0 1,0 2.8,0a1.4,1.8 0 1,0 -2.8,0M92.4,194.6a1.4,1.8 0 1,0 2.8,0a1.4,1.8 0 1,0 -2.8,0M96.4,198.3a1.4,1.8 0 1,0 2.8,0a1.4,1.8 0 1,0 -2.8,0M98.5,200.5a1.4,1.8 0 1,0 2.8,0a1.4,1.8 0 1,0 -2.8,0M95.2,196.3a1.4,1.8 0 1,0 2.8,0a1.4,1.8 0 1,0 -2.8,0M92.7,192.9a1.4,1.8 0 1,0 2.8,0a1.4,1.8 0 1,0 -2.8,0M96.6,196.8a1.4,1.8 0 1,0 2.8,0a1.4,1.8 0 1,0 -2.8,0M95.9,195.4a1.4,1.8 0 1,0 2.8,0a1.4,1.8 0 1,0 -2.8,0M99.5,199.3a1.4,1.8 0 1,0 2.8,0a1.4,1.8 0 1,0 -2.8,0M100.9,200.3a1.4,1.8 0 1,0 2.8,0a1.4,1.8 0 1,0 -2.8,0M90.1,187.8a1.4,1.8 0 1,0 2.8,0a1.4,1.8 0 1,0 -2.8,0M93.1,190.4a1.4,1.8 0 1,0 2.8,0a1.4,1.8 0 1,0 -2.8,0M100.1,197.9a1.4,1.8 0 1,0 2.8,0a1.4,1.8 0 1,0 -2.8,0M90.0,186.2a1.4,1.8 0 1,0 2.8,0a1.4,1.8 0 1,0 -2.8,0M106.1,203.8a1.4,1.8 0 1,0 2.8,0a1.4,1.8 0 1,0 -2.8,0M96.4,192.3a1.4,1.8 0 1,0 2.8,0a1.4,1.8 0 1,0 -2.8,0M102.0,197.9a1.4,1.8 0 1,0 2.8,0a1.4,1.8 0 1,0 -2.8,0M94.1,188.4a1.4,1.8 0 1,0 2.8,0a1.4,1.8 0 1,0 -2.8,0M99.5,193.8a1.4,1.8 0 1,0 2.8,0a1.4,1.8 0 1,0 -2.8,0M102.8,197.1a1.4,1.8 0 1,0 2.8,0a1.4,1.8 0 1,0 -2.8,0M104.5,197.6a1.4,1.8 0 1,0 2.8,0a1.4,1.8 0 1,0 -2.8,0M105.6,198.3a1.4,1.8 0 1,0 2.8,0a1.4,1.8 0 1,0 -2.8,0M105.6,197.4a1.4,1.8 0 1,0 2.8,0a1.4,1.8 0 1,0 -2.8,0M100.2,190.5a1.4,1.8 0 1,0 2.8,0a1.4,1.8 0 1,0 -2.8,0M102.2,192.0a1.4,1.8 0 1,0 2.8,0a1.4,1.8 0 1,0 -2.8,0M105.3,194.6a1.4,1.8 0 1,0 2.8,0a1.4,1.8 0 1,0 -2.8,0M112.5,201.6a1.4,1.8 0 1,0 2.8,0a1.4,1.8 0 1,0 -2.8,0M109.2,197.2a1.4,1.8 0 1,0 2.8,0a1.4,1.8 0 1,0 -2.8,0M101.5,188.2a1.4,1.8 0 1,0 2.8,0a1.4,1.8 0 1,0 -2.8,0M98.5,183.7a1.4,1.8 0 1,0 2.8,0a1.4,1.8 0 1,0 -2.8,0M97.6,182.2a1.4,1.8 0 1,0 2.8,0a1.4,1.8 0 1,0 -2.8,0M103.9,187.9a1.4,1.8 0 1,0 2.8,0a1.4,1.8 0 1,0 -2.8,0M102.3,185.5a1.4,1.8 0 1,0 2.8,0a1.4,1.8 0 1,0 -2.8,0M97.0,179.0a1.4,1.8 0 1,0 2.8,0a1.4,1.8 0 1,0 -2.8,0M102.5,184.5a1.4,1.8 0 1,0 2.8,0a1.4,1.8 0 1,0 -2.8,0M105.9,187.4a1.4,1.8 0 1,0 2.8,0a1.4,1.8 0 1,0 -2.8,0M99.3,179.0a1.4,1.8 0 1,0 2.8,0a1.4,1.8 0 1,0 -2.8,0M104.9,184.2a1.4,1.8 0 1,0 2.8,0a1.4,1.8 0 1,0 -2.8,0M112.1,191.3a1.4,1.8 0 1,0 2.8,0a1.4,1.8 0 1,0 -2.8,0M110.9,189.8a1.4,1.8 0 1,0 2.8,0a1.4,1.8 0 1,0 -2.8,0M105.2,182.1a1.4,1.8 0 1,0 2.8,0a1.4,1.8 0 1,0 -2.8,0M109.0,185.8a1.4,1.8 0 1,0 2.8,0a1.4,1.8 0 1,0 -2.8,0M96.7,170.8a1.4,1.8 0 1,0 2.8,0a1.4,1.8 0 1,0 -2.8,0M110.7,186.1a1.4,1.8 0 1,0 2.8,0a1.4,1.8 0 1,0 -2.8,0M115.1,190.2a1.4,1.8 0 1,0 2.8,0a1.4,1.8 0 1,0 -2.8,0M106.2,179.6a1.4,1.8 0 1,0 2.8,0a1.4,1.8 0 1,0 -2.8,0M102.1,173.6a1.4,1.8 0 1,0 2.8,0a1.4,1.8 0 1,0 -2.8,0M119.5,192.5a1.4,1.8 0 1,0 2.8,0a1.4,1.8 0 1,0 -2.8,0M115.6,187.0a1.4,1.8 0 1,0 2.8,0a1.4,1.8 0 1,0 -2.8,0M107.7,177.2a1.4,1.8 0 1,0 2.8,0a1.4,1.8 0 1,0 -2.8,0M106.2,175.5a1.4,1.8 0 1,0 2.8,0a1.4,1.8 0 1,0 -2.8,0M119.7,189.8a1.4,1.8 0 1,0 2.8,0a1.4,1.8 0 1,0 -2.8,0M120.2,189.0a1.4,1.8 0 1,0 2.8,0a1.4,1.8 0 1,0 -2.8,0M112.7,179.6a1.4,1.8 0 1,0 2.8,0a1.4,1.8 0 1,0 -2.8,0M106.2,172.2a1.4,1.8 0 1,0 2.8,0a1.4,1.8 0 1,0 -2.8,0M111.7,177.1a1.4,1.8 0 1,0 2.8,0a1.4,1.8 0 1,0 -2.8,0M114.5,179.5a1.4,1.8 0 1,0 2.8,0a1.4,1.8 0 1,0 -2.8,0M111.1,175.2a1.4,1.8 0 1,0 2.8,0a1.4,1.8 0 1,0 -2.8,0M123.7,188.1a1.4,1.8 0 1,0 2.8,0a1.4,1.8 0 1,0 -2.8,0M113.1,175.2a1.4,1.8 0 1,0 2.8,0a1.4,1.8 0 1,0 -2.8,0M116.4,178.5a1.4,1.8 0 1,0 2.8,0a1.4,1.8 0 1,0 -2.8,0M114.8,175.8a1.4,1.8 0 1,0 2.8,0a1.4,1.8 0 1,0 -2.8,0M120.2,180.6a1.4,1.8 0 1,0 2.8,0a1.4,1.8 0 1,0 -2.8,0M113.5,172.2a1.4,1.8 0 1,0 2.8,0a1.4,1.8 0 1,0 -2.8,0M115.2,173.9a1.4,1.8 0 1,0 2.8,0a1.4,1.8 0 1,0 -2.8,0M116.1,174.0a1.4,1.8 0 1,0 2.8,0a1.4,1.8 0 1,0 -2.8,0M122.6,180.5a1.4,1.8 0 1,0 2.8,0a1.4,1.8 0 1,0 -2.8,0M118.2,174.5a1.4,1.8 0 1,0 2.8,0a1.4,1.8 0 1,0 -2.8,0M117.4,172.9a1.4,1.8 0 1,0 2.8,0a1.4,1.8 0 1,0 -2.8,0M117.5,172.0a1.4,1.8 0 1,0 2.8,0a1.4,1.8 0 1,0 -2.8,0M110.1,162.9a1.4,1.8 0 1,0 2.8,0a1.4,1.8 0 1,0 -2.8,0M125.7,179.9a1.4,1.8 0 1,0 2.8,0a1.4,1.8 0 1,0 -2.8,0M115.3,167.1a1.4,1.8 0 1,0 2.8,0a1.4,1.8 0 1,0 -2.8,0M121.7,173.0a1.4,1.8 0 1,0 2.8,0a1.4,1.8 0 1,0 -2.8,0M115.4,165.4a1.4,1.8 0 1,0 2.8,0a1.4,1.8 0 1,0 -2.8,0M120.5,170.5a1.4,1.8 0 1,0 2.8,0a1.4,1.8 0 1,0 -2.8,0M123.8,173.0a1.4,1.8 0 1,0 2.8,0a1.4,1.8 0 1,0 -2.8,0M114.9,162.7a1.4,1.8 0 1,0 2.8,0a1.4,1.8 0 1,0 -2.8,0M125.5,173.5a1.4,1.8 0 1,0 2.8,0a1.4,1.8 0 1,0 -2.8,0M125.8,173.4a1.4,1.8 0 1,0 2.8,0a1.4,1.8 0 1,0 -2.8,0M130.1,176.9a1.4,1.8 0 1,0 2.8,0a1.4,1.8 0 1,0 -2.8,0M122.4,167.5a1.4,1.8 0 1,0 2.8,0a1.4,1.8 0 1,0 -2.8,0M118.5,162.5a1.4,1.8 0 1,0 2.8,0a1.4,1.8 0 1,0 -2.8,0M126.1,170.2a1.4,1.8 0 1,0 2.8,0a1.4,1.8 0 1,0 -2.8,0M126.1,169.4a1.4,1.8 0 1,0 2.8,0a1.4,1.8 0 1,0 -2.8,0M133.3,176.1a1.4,1.8 0 1,0 2.8,0a1.4,1.8 0 1,0 -2.8,0M124.6,165.6a1.4,1.8 0 1,0 2.8,0a1.4,1.8 0 1,0 -2.8,0M124.8,165.5a1.4,1.8 0 1,0 2.8,0a1.4,1.8 0 1,0 -2.8,0M132.4,172.7a1.4,1.8 0 1,0 2.8,0a1.4,1.8 0 1,0 -2.8,0M125.4,164.3a1.4,1.8 0 1,0 2.8,0a1.4,1.8 0 1,0 -2.8,0M127.1,165.2a1.4,1.8 0 1,0 2.8,0a1.4,1.8 0 1,0 -2.8,0M135.1,173.6a1.4,1.8 0 1,0 2.8,0a1.4,1.8 0 1,0 -2.8,0M120.6,156.2a1.4,1.8 0 1,0 2.8,0a1.4,1.8 0 1,0 -2.8,0M129.8,165.9a1.4,1.8 0 1,0 2.8,0a1.4,1.8 0 1,0 -2.8,0M116.5,150.1a1.4,1.8 0 1,0 2.8,0a1.4,1.8 0 1,0 -2.8,0M131.9,166.4a1.4,1.8 0 1,0 2.8,0a1.4,1.8 0 1,0 -2.8,0M118.5,150.8a1.4,1.8 0 1,0 2.8,0a1.4,1.8 0 1,0 -2.8,0M129.3,161.8a1.4,1.8 0 1,0 2.8,0a1.4,1.8 0 1,0 -2.8,0M132.4,164.6a1.4,1.8 0 1,0 2.8,0a1.4,1.8 0 1,0 -2.8,0M129.7,160.8a1.4,1.8 0 1,0 2.8,0a1.4,1.8 0 1,0 -2.8,0M134.4,165.1a1.4,1.8 0 1,0 2.8,0a1.4,1.8 0 1,0 -2.8,0M125.9,154.6a1.4,1.8 0 1,0 2.8,0a1.4,1.8 0 1,0 -2.8,0M136.0,165.2a1.4,1.8 0 1,0 2.8,0a1.4,1.8 0 1,0 -2.8,0M126.1,153.4a1.4,1.8 0 1,0 2.8,0a1.4,1.8 0 1,0 -2.8,0M139.0,167.2a1.4,1.8 0 1,0 2.8,0a1.4,1.8 0 1,0 -2.8,0M128.8,155.2a1.4,1.8 0 1,0 2.8,0a1.4,1.8 0 1,0 -2.8,0M126.8,151.8a1.4,1.8 0 1,0 2.8,0a1.4,1.8 0 1,0 -2.8,0M142.4,168.5a1.4,1.8 0 1,0 2.8,0a1.4,1.8 0 1,0 -2.8,0M133.1,157.2a1.4,1.8 0 1,0 2.8,0a1.4,1.8 0 1,0 -2.8,0M129.7,152.2a1.4,1.8 0 1,0 2.8,0a1.4,1.8 0 1,0 -2.8,0M132.4,154.7a1.4,1.8 0 1,0 2.8,0a1.4,1.8 0 1,0 -2.8,0M141.0,163.3a1.4,1.8 0 1,0 2.8,0a1.4,1.8 0 1,0 -2.8,0M130.9,151.2a1.4,1.8 0 1,0 2.8,0a1.4,1.8 0 1,0 -2.8,0M141.0,162.0a1.4,1.8 0 1,0 2.8,0a1.4,1.8 0 1,0 -2.8,0M137.3,157.3a1.4,1.8 0 1,0 2.8,0a1.4,1.8 0 1,0 -2.8,0M132.2,150.1a1.4,1.8 0 1,0 2.8,0a1.4,1.8 0 1,0 -2.8,0M142.1,160.5a1.4,1.8 0 1,0 2.8,0a1.4,1.8 0 1,0 -2.8,0M139.3,157.0a1.4,1.8 0 1,0 2.8,0a1.4,1.8 0 1,0 -2.8,0M133.6,149.9a1.4,1.8 0 1,0 2.8,0a1.4,1.8 0 1,0 -2.8,0M128.9,143.3a1.4,1.8 0 1,0 2.8,0a1.4,1.8 0 1,0 -2.8,0M144.8,160.5a1.4,1.8 0 1,0 2.8,0a1.4,1.8 0 1,0 -2.8,0M139.9,154.3a1.4,1.8 0 1,0 2.8,0a1.4,1.8 0 1,0 -2.8,0M139.3,152.6a1.4,1.8 0 1,0 2.8,0a1.4,1.8 0 1,0 -2.8,0M143.9,156.8a1.4,1.8 0 1,0 2.8,0a1.4,1.8 0 1,0 -2.8,0M141.3,153.3a1.4,1.8 0 1,0 2.8,0a1.4,1.8 0 1,0 -2.8,0M150.5,162.4a1.4,1.8 0 1,0 2.8,0a1.4,1.8 0 1,0 -2.8,0M138.9,148.8a1.4,1.8 0 1,0 2.8,0a1.4,1.8 0 1,0 -2.8,0M142.3,151.9a1.4,1.8 0 1,0 2.8,0a1.4,1.8 0 1,0 -2.8,0M148.1,158.0a1.4,1.8 0 1,0 2.8,0a1.4,1.8 0 1,0 -2.8,0M144.9,153.5a1.4,1.8 0 1,0 2.8,0a1.4,1.8 0 1,0 -2.8,0M136.7,143.1a1.4,1.8 0 1,0 2.8,0a1.4,1.8 0 1,0 -2.8,0M141.5,148.0a1.4,1.8 0 1,0 2.8,0a1.4,1.8 0 1,0 -2.8,0M148.8,155.3a1.4,1.8 0 1,0 2.8,0a1.4,1.8 0 1,0 -2.8,0M151.2,157.4a1.4,1.8 0 1,0 2.8,0a1.4,1.8 0 1,0 -2.8,0M132.1,135.1a1.4,1.8 0 1,0 2.8,0a1.4,1.8 0 1,0 -2.8,0M147.1,151.2a1.4,1.8 0 1,0 2.8,0a1.4,1.8 0 1,0 -2.8,0M137.1,139.1a1.4,1.8 0 1,0 2.8,0a1.4,1.8 0 1,0 -2.8,0M145.7,147.8a1.4,1.8 0 1,0 2.8,0a1.4,1.8 0 1,0 -2.8,0M155.3,157.7a1.4,1.8 0 1,0 2.8,0a1.4,1.8 0 1,0 -2.8,0M148.4,149.3a1.4,1.8 0 1,0 2.8,0a1.4,1.8 0 1,0 -2.8,0M150.4,150.7a1.4,1.8 0 1,0 2.8,0a1.4,1.8 0 1,0 -2.8,0M147.8,147.1a1.4,1.8 0 1,0 2.8,0a1.4,1.8 0 1,0 -2.8,0M149.9,148.4a1.4,1.8 0 1,0 2.8,0a1.4,1.8 0 1,0 -2.8,0M151.3,148.9a1.4,1.8 0 1,0 2.8,0a1.4,1.8 0 1,0 -2.8,0M142.0,137.9a1.4,1.8 0 1,0 2.8,0a1.4,1.8 0 1,0 -2.8,0M149.8,146.4a1.4,1.8 0 1,0 2.8,0a1.4,1.8 0 1,0 -2.8,0M155.7,152.3a1.4,1.8 0 1,0 2.8,0a1.4,1.8 0 1,0 -2.8,0M149.2,144.1a1.4,1.8 0 1,0 2.8,0a1.4,1.8 0 1,0 -2.8,0M145.7,139.8a1.4,1.8 0 1,0 2.8,0a1.4,1.8 0 1,0 -2.8,0M149.4,143.5a1.4,1.8 0 1,0 2.8,0a1.4,1.8 0 1,0 -2.8,0M148.8,142.1a1.4,1.8 0 1,0 2.8,0a1.4,1.8 0 1,0 -2.8,0M144.5,137.2a1.4,1.8 0 1,0 2.8,0a1.4,1.8 0 1,0 -2.8,0M147.2,139.9a1.4,1.8 0 1,0 2.8,0a1.4,1.8 0 1,0 -2.8,0M153.8,146.6a1.4,1.8 0 1,0 2.8,0a1.4,1.8 0 1,0 -2.8,0M157.8,150.8a1.4,1.8 0 1,0 2.8,0a1.4,1.8 0 1,0 -2.8,0M151.9,143.8a1.4,1.8 0 1,0 2.8,0a1.4,1.8 0 1,0 -2.8,0M149.9,141.3a1.4,1.8 0 1,0 2.8,0a1.4,1.8 0 1,0 -2.8,0M158.4,150.3a1.4,1.8 0 1,0 2.8,0a1.4,1.8 0 1,0 -2.8,0M154.7,145.8a1.4,1.8 0 1,0 2.8,0a1.4,1.8 0 1,0 -2.8,0M150.8,140.9a1.4,1.8 0 1,0 2.8,0a1.4,1.8 0 1,0 -2.8,0M152.4,142.2a1.4,1.8 0 1,0 2.8,0a1.4,1.8 0 1,0 -2.8,0M149.2,138.5a1.4,1.8 0 1,0 2.8,0a1.4,1.8 0 1,0 -2.8,0M152.8,142.0a1.4,1.8 0 1,0 2.8,0a1.4,1.8 0 1,0 -2.8,0M152.2,141.0a1.4,1.8 0 1,0 2.8,0a1.4,1.8 0 1,0 -2.8,0M153.2,141.8a1.4,1.8 0 1,0 2.8,0a1.4,1.8 0 1,0 -2.8,0M154.2,142.3a1.4,1.8 0 1,0 2.8,0a1.4,1.8 0 1,0 -2.8,0M155.2,143.1a1.4,1.8 0 1,0 2.8,0a1.4,1.8 0 1,0 -2.8,0M154.9,142.3a1.4,1.8 0 1,0 2.8,0a1.4,1.8 0 1,0 -2.8,0M146.3,132.2a1.4,1.8 0 1,0 2.8,0a1.4,1.8 0 1,0 -2.8,0M153.9,140.6a1.4,1.8 0 1,0 2.8,0a1.4,1.8 0 1,0 -2.8,0M152.5,138.7a1.4,1.8 0 1,0 2.8,0a1.4,1.8 0 1,0 -2.8,0M154.1,140.1a1.4,1.8 0 1,0 2.8,0a1.4,1.8 0 1,0 -2.8,0M148.0,132.5a1.4,1.8 0 1,0 2.8,0a1.4,1.8 0 1,0 -2.8,0M160.1,145.7a1.4,1.8 0 1,0 2.8,0a1.4,1.8 0 1,0 -2.8,0M151.9,136.3a1.4,1.8 0 1,0 2.8,0a1.4,1.8 0 1,0 -2.8,0M153.8,137.8a1.4,1.8 0 1,0 2.8,0a1.4,1.8 0 1,0 -2.8,0M151.1,134.6a1.4,1.8 0 1,0 2.8,0a1.4,1.8 0 1,0 -2.8,0M161.2,145.6a1.4,1.8 0 1,0 2.8,0a1.4,1.8 0 1,0 -2.8,0M155.4,138.5a1.4,1.8 0 1,0 2.8,0a1.4,1.8 0 1,0 -2.8,0M155.0,137.6a1.4,1.8 0 1,0 2.8,0a1.4,1.8 0 1,0 -2.8,0M152.5,134.4a1.4,1.8 0 1,0 2.8,0a1.4,1.8 0 1,0 -2.8,0M152.9,134.4a1.4,1.8 0 1,0 2.8,0a1.4,1.8 0 1,0 -2.8,0M150.5,131.5a1.4,1.8 0 1,0 2.8,0a1.4,1.8 0 1,0 -2.8,0M146.9,127.2a1.4,1.8 0 1,0 2.8,0a1.4,1.8 0 1,0 -2.8,0M147.1,127.0a1.4,1.8 0 1,0 2.8,0a1.4,1.8 0 1,0 -2.8,0M159.6,140.4a1.4,1.8 0 1,0 2.8,0a1.4,1.8 0 1,0 -2.8,0M153.6,133.2a1.4,1.8 0 1,0 2.8,0a1.4,1.8 0 1,0 -2.8,0M154.4,134.0a1.4,1.8 0 1,0 2.8,0a1.4,1.8 0 1,0 -2.8,0M162.5,142.5a1.4,1.8 0 1,0 2.8,0a1.4,1.8 0 1,0 -2.8,0M166.1,146.2a1.4,1.8 0 1,0 2.8,0a1.4,1.8 0 1,0 -2.8,0M162.8,142.1a1.4,1.8 0 1,0 2.8,0a1.4,1.8 0 1,0 -2.8,0M157.8,135.9a1.4,1.8 0 1,0 2.8,0a1.4,1.8 0 1,0 -2.8,0M161.6,140.1a1.4,1.8 0 1,0 2.8,0a1.4,1.8 0 1,0 -2.8,0M152.9,130.0a1.4,1.8 0 1,0 2.8,0a1.4,1.8 0 1,0 -2.8,0M159.7,136.9a1.4,1.8 0 1,0 2.8,0a1.4,1.8 0 1,0 -2.8,0M152.5,128.4a1.4,1.8 0 1,0 2.8,0a1.4,1.8 0 1,0 -2.8,0M167.6,145.0a1.4,1.8 0 1,0 2.8,0a1.4,1.8 0 1,0 -2.8,0M163.0,139.7a1.4,1.8 0 1,0 2.8,0a1.4,1.8 0 1,0 -2.8,0M169.5,146.4a1.4,1.8 0 1,0 2.8,0a1.4,1.8 0 1,0 -2.8,0M156.7,131.9a1.4,1.8 0 1,0 2.8,0a1.4,1.8 0 1,0 -2.8,0M154.6,128.9a1.4,1.8 0 1,0 2.8,0a1.4,1.8 0 1,0 -2.8,0M159.8,134.2a1.4,1.8 0 1,0 2.8,0a1.4,1.8 0 1,0 -2.8,0M163.0,137.5a1.4,1.8 0 1,0 2.8,0a1.4,1.8 0 1,0 -2.8,0M167.3,141.8a1.4,1.8 0 1,0 2.8,0a1.4,1.8 0 1,0 -2.8,0M164.4,138.2a1.4,1.8 0 1,0 2.8,0a1.4,1.8 0 1,0 -2.8,0M156.3,128.9a1.4,1.8 0 1,0 2.8,0a1.4,1.8 0 1,0 -2.8,0M154.4,126.2a1.4,1.8 0 1,0 2.8,0a1.4,1.8 0 1,0 -2.8,0M158.0,130.0a1.4,1.8 0 1,0 2.8,0a1.4,1.8 0 1,0 -2.8,0M165.6,138.2a1.4,1.8 0 1,0 2.8,0a1.4,1.8 0 1,0 -2.8,0M158.7,130.0a1.4,1.8 0 1,0 2.8,0a1.4,1.8 0 1,0 -2.8,0M162.0,133.4a1.4,1.8 0 1,0 2.8,0a1.4,1.8 0 1,0 -2.8,0M156.1,126.3a1.4,1.8 0 1,0 2.8,0a1.4,1.8 0 1,0 -2.8,0M165.1,135.8a1.4,1.8 0 1,0 2.8,0a1.4,1.8 0 1,0 -2.8,0M157.3,126.8a1.4,1.8 0 1,0 2.8,0a1.4,1.8 0 1,0 -2.8,0M160.1,129.6a1.4,1.8 0 1,0 2.8,0a1.4,1.8 0 1,0 -2.8,0M172.5,143.1a1.4,1.8 0 1,0 2.8,0a1.4,1.8 0 1,0 -2.8,0M159.3,127.6a1.4,1.8 0 1,0 2.8,0a1.4,1.8 0 1,0 -2.8,0M163.4,132.2a1.4,1.8 0 1,0 2.8,0a1.4,1.8 0 1,0 -2.8,0M164.1,132.5a1.4,1.8 0 1,0 2.8,0a1.4,1.8 0 1,0 -2.8,0M167.5,135.9a1.4,1.8 0 1,0 2.8,0a1.4,1.8 0 1,0 -2.8,0M163.0,130.3a1.4,1.8 0 1,0 2.8,0a1.4,1.8 0 1,0 -2.8,0M163.1,129.9a1.4,1.8 0 1,0 2.8,0a1.4,1.8 0 1,0 -2.8,0M163.4,130.0a1.4,1.8 0 1,0 2.8,0a1.4,1.8 0 1,0 -2.8,0M162.2,128.3a1.4,1.8 0 1,0 2.8,0a1.4,1.8 0 1,0 -2.8,0M166.0,132.3a1.4,1.8 0 1,0 2.8,0a1.4,1.8 0 1,0 -2.8,0M163.5,129.0a1.4,1.8 0 1,0 2.8,0a1.4,1.8 0 1,0 -2.8,0M167.4,132.9a1.4,1.8 0 1,0 2.8,0a1.4,1.8 0 1,0 -2.8,0M162.3,126.7a1.4,1.8 0 1,0 2.8,0a1.4,1.8 0 1,0 -2.8,0M168.9,133.8a1.4,1.8 0 1,0 2.8,0a1.4,1.8 0 1,0 -2.8,0M166.0,130.0a1.4,1.8 0 1,0 2.8,0a1.4,1.8 0 1,0 -2.8,0M166.0,129.8a1.4,1.8 0 1,0 2.8,0a1.4,1.8 0 1,0 -2.8,0M161.1,123.8a1.4,1.8 0 1,0 2.8,0a1.4,1.8 0 1,0 -2.8,0M161.3,123.6a1.4,1.8 0 1,0 2.8,0a1.4,1.8 0 1,0 -2.8,0M163.2,125.6a1.4,1.8 0 1,0 2.8,0a1.4,1.8 0 1,0 -2.8,0M174.3,137.7a1.4,1.8 0 1,0 2.8,0a1.4,1.8 0 1,0 -2.8,0M161.2,122.4a1.4,1.8 0 1,0 2.8,0a1.4,1.8 0 1,0 -2.8,0M168.7,130.6a1.4,1.8 0 1,0 2.8,0a1.4,1.8 0 1,0 -2.8,0M161.2,121.6a1.4,1.8 0 1,0 2.8,0a1.4,1.8 0 1,0 -2.8,0M168.1,128.8a1.4,1.8 0 1,0 2.8,0a1.4,1.8 0 1,0 -2.8,0M169.3,129.7a1.4,1.8 0 1,0 2.8,0a1.4,1.8 0 1,0 -2.8,0M171.7,132.1a1.4,1.8 0 1,0 2.8,0a1.4,1.8 0 1,0 -2.8,0M166.3,125.6a1.4,1.8 0 1,0 2.8,0a1.4,1.8 0 1,0 -2.8,0M157.0,114.6a1.4,1.8 0 1,0 2.8,0a1.4,1.8 0 1,0 -2.8,0M166.6,125.4a1.4,1.8 0 1,0 2.8,0a1.4,1.8 0 1,0 -2.8,0M168.3,126.9a1.4,1.8 0 1,0 2.8,0a1.4,1.8 0 1,0 -2.8,0M165.1,122.8a1.4,1.8 0 1,0 2.8,0a1.4,1.8 0 1,0 -2.8,0M166.3,123.6a1.4,1.8 0 1,0 2.8,0a1.4,1.8 0 1,0 -2.8,0M164.9,121.7a1.4,1.8 0 1,0 2.8,0a1.4,1.8 0 1,0 -2.8,0M158.6,114.4a1.4,1.8 0 1,0 2.8,0a1.4,1.8 0 1,0 -2.8,0M164.4,120.4a1.4,1.8 0 1,0 2.8,0a1.4,1.8 0 1,0 -2.8,0M176.2,133.3a1.4,1.8 0 1,0 2.8,0a1.4,1.8 0 1,0 -2.8,0M168.6,124.2a1.4,1.8 0 1,0 2.8,0a1.4,1.8 0 1,0 -2.8,0M174.7,130.7a1.4,1.8 0 1,0 2.8,0a1.4,1.8 0 1,0 -2.8,0M166.7,121.3a1.4,1.8 0 1,0 2.8,0a1.4,1.8 0 1,0 -2.8,0M169.2,123.8a1.4,1.8 0 1,0 2.8,0a1.4,1.8 0 1,0 -2.8,0M173.3,128.2a1.4,1.8 0 1,0 2.8,0a1.4,1.8 0 1,0 -2.8,0M166.0,119.7a1.4,1.8 0 1,0 2.8,0a1.4,1.8 0 1,0 -2.8,0M166.6,119.7a1.4,1.8 0 1,0 2.8,0a1.4,1.8 0 1,0 -2.8,0M170.6,124.1a1.4,1.8 0 1,0 2.8,0a1.4,1.8 0 1,0 -2.8,0M167.1,119.7a1.4,1.8 0 1,0 2.8,0a1.4,1.8 0 1,0 -2.8,0M177.0,130.5a1.4,1.8 0 1,0 2.8,0a1.4,1.8 0 1,0 -2.8,0M168.8,120.8a1.4,1.8 0 1,0 2.8,0a1.4,1.8 0 1,0 -2.8,0M175.1,127.7a1.4,1.8 0 1,0 2.8,0a1.4,1.8 0 1,0 -2.8,0M172.4,124.0a1.4,1.8 0 1,0 2.8,0a1.4,1.8 0 1,0 -2.8,0M166.7,117.4a1.4,1.8 0 1,0 2.8,0a1.4,1.8 0 1,0 -2.8,0M162.5,112.4a1.4,1.8 0 1,0 2.8,0a1.4,1.8 0 1,0 -2.8,0M168.6,118.7a1.4,1.8 0 1,0 2.8,0a1.4,1.8 0 1,0 -2.8,0M173.4,123.8a1.4,1.8 0 1,0 2.8,0a1.4,1.8 0 1,0 -2.8,0M176.9,127.2a1.4,1.8 0 1,0 2.8,0a1.4,1.8 0 1,0 -2.8,0M177.6,127.8a1.4,1.8 0 1,0 2.8,0a1.4,1.8 0 1,0 -2.8,0M176.3,125.8a1.4,1.8 0 1,0 2.8,0a1.4,1.8 0 1,0 -2.8,0M180.0,129.7a1.4,1.8 0 1,0 2.8,0a1.4,1.8 0 1,0 -2.8,0M179.0,128.0a1.4,1.8 0 1,0 2.8,0a1.4,1.8 0 1,0 -2.8,0M171.6,119.6a1.4,1.8 0 1,0 2.8,0a1.4,1.8 0 1,0 -2.8,0M180.0,128.6a1.4,1.8 0 1,0 2.8,0a1.4,1.8 0 1,0 -2.8,0M172.3,119.4a1.4,1.8 0 1,0 2.8,0a1.4,1.8 0 1,0 -2.8,0M183.2,131.4a1.4,1.8 0 1,0 2.8,0a1.4,1.8 0 1,0 -2.8,0M169.9,116.0a1.4,1.8 0 1,0 2.8,0a1.4,1.8 0 1,0 -2.8,0M174.4,120.7a1.4,1.8 0 1,0 2.8,0a1.4,1.8 0 1,0 -2.8,0M174.4,120.5a1.4,1.8 0 1,0 2.8,0a1.4,1.8 0 1,0 -2.8,0M179.0,125.1a1.4,1.8 0 1,0 2.8,0a1.4,1.8 0 1,0 -2.8,0M167.8,112.1a1.4,1.8 0 1,0 2.8,0a1.4,1.8 0 1,0 -2.8,0M178.2,123.7a1.4,1.8 0 1,0 2.8,0a1.4,1.8 0 1,0 -2.8,0M175.4,120.2a1.4,1.8 0 1,0 2.8,0a1.4,1.8 0 1,0 -2.8,0M184.3,129.6a1.4,1.8 0 1,0 2.8,0a1.4,1.8 0 1,0 -2.8,0M170.8,114.2a1.4,1.8 0 1,0 2.8,0a1.4,1.8 0 1,0 -2.8,0M172.1,115.1a1.4,1.8 0 1,0 2.8,0a1.4,1.8 0 1,0 -2.8,0M169.4,111.9a1.4,1.8 0 1,0 2.8,0a1.4,1.8 0 1,0 -2.8,0M183.6,127.4a1.4,1.8 0 1,0 2.8,0a1.4,1.8 0 1,0 -2.8,0M169.3,110.8a1.4,1.8 0 1,0 2.8,0a1.4,1.8 0 1,0 -2.8,0M180.0,122.5a1.4,1.8 0 1,0 2.8,0a1.4,1.8 0 1,0 -2.8,0M177.1,119.1a1.4,1.8 0 1,0 2.8,0a1.4,1.8 0 1,0 -2.8,0M178.0,119.7a1.4,1.8 0 1,0 2.8,0a1.4,1.8 0 1,0 -2.8,0M183.8,125.6a1.4,1.8 0 1,0 2.8,0a1.4,1.8 0 1,0 -2.8,0M177.0,117.9a1.4,1.8 0 1,0 2.8,0a1.4,1.8 0 1,0 -2.8,0M177.2,117.3a1.4,1.8 0 1,0 2.8,0a1.4,1.8 0 1,0 -2.8,0M175.0,114.7a1.4,1.8 0 1,0 2.8,0a1.4,1.8 0 1,0 -2.8,0M174.5,113.7a1.4,1.8 0 1,0 2.8,0a1.4,1.8 0 1,0 -2.8,0M178.5,117.8a1.4,1.8 0 1,0 2.8,0a1.4,1.8 0 1,0 -2.8,0M180.4,119.6a1.4,1.8 0 1,0 2.8,0a1.4,1.8 0 1,0 -2.8,0M182.5,121.7a1.4,1.8 0 1,0 2.8,0a1.4,1.8 0 1,0 -2.8,0M181.7,120.5a1.4,1.8 0 1,0 2.8,0a1.4,1.8 0 1,0 -2.8,0M178.0,116.0a1.4,1.8 0 1,0 2.8,0a1.4,1.8 0 1,0 -2.8,0M180.7,118.4a1.4,1.8 0 1,0 2.8,0a1.4,1.8 0 1,0 -2.8,0M176.6,113.5a1.4,1.8 0 1,0 2.8,0a1.4,1.8 0 1,0 -2.8,0M175.9,112.2a1.4,1.8 0 1,0 2.8,0a1.4,1.8 0 1,0 -2.8,0M180.8,117.3a1.4,1.8 0 1,0 2.8,0a1.4,1.8 0 1,0 -2.8,0M179.4,115.7a1.4,1.8 0 1,0 2.8,0a1.4,1.8 0 1,0 -2.8,0M172.7,107.8a1.4,1.8 0 1,0 2.8,0a1.4,1.8 0 1,0 -2.8,0M181.0,116.5a1.4,1.8 0 1,0 2.8,0a1.4,1.8 0 1,0 -2.8,0M186.5,122.5a1.4,1.8 0 1,0 2.8,0a1.4,1.8 0 1,0 -2.8,0M178.8,113.2a1.4,1.8 0 1,0 2.8,0a1.4,1.8 0 1,0 -2.8,0M179.1,113.3a1.4,1.8 0 1,0 2.8,0a1.4,1.8 0 1,0 -2.8,0M178.9,112.7a1.4,1.8 0 1,0 2.8,0a1.4,1.8 0 1,0 -2.8,0M181.6,115.3a1.4,1.8 0 1,0 2.8,0a1.4,1.8 0 1,0 -2.8,0M187.6,121.9a1.4,1.8 0 1,0 2.8,0a1.4,1.8 0 1,0 -2.8,0M176.9,109.4a1.4,1.8 0 1,0 2.8,0a1.4,1.8 0 1,0 -2.8,0M177.9,110.3a1.4,1.8 0 1,0 2.8,0a1.4,1.8 0 1,0 -2.8,0M176.6,108.4a1.4,1.8 0 1,0 2.8,0a1.4,1.8 0 1,0 -2.8,0M186.7,119.3a1.4,1.8 0 1,0 2.8,0a1.4,1.8 0 1,0 -2.8,0M179.8,111.2a1.4,1.8 0 1,0 2.8,0a1.4,1.8 0 1,0 -2.8,0M185.6,117.4a1.4,1.8 0 1,0 2.8,0a1.4,1.8 0 1,0 -2.8,0M178.2,108.6a1.4,1.8 0 1,0 2.8,0a1.4,1.8 0 1,0 -2.8,0M183.2,114.1a1.4,1.8 0 1,0 2.8,0a1.4,1.8 0 1,0 -2.8,0M185.1,115.4a1.4,1.8 0 1,0 2.8,0a1.4,1.8 0 1,0 -2.8,0M183.6,113.6a1.4,1.8 0 1,0 2.8,0a1.4,1.8 0 1,0 -2.8,0M190.6,121.0a1.4,1.8 0 1,0 2.8,0a1.4,1.8 0 1,0 -2.8,0M180.1,109.0a1.4,1.8 0 1,0 2.8,0a1.4,1.8 0 1,0 -2.8,0M185.9,114.8a1.4,1.8 0 1,0 2.8,0a1.4,1.8 0 1,0 -2.8,0M184.1,112.8a1.4,1.8 0 1,0 2.8,0a1.4,1.8 0 1,0 -2.8,0M178.3,105.7a1.4,1.8 0 1,0 2.8,0a1.4,1.8 0 1,0 -2.8,0M180.4,107.6a1.4,1.8 0 1,0 2.8,0a1.4,1.8 0 1,0 -2.8,0M184.2,111.5a1.4,1.8 0 1,0 2.8,0a1.4,1.8 0 1,0 -2.8,0M181.6,108.2a1.4,1.8 0 1,0 2.8,0a1.4,1.8 0 1,0 -2.8,0M185.7,112.4a1.4,1.8 0 1,0 2.8,0a1.4,1.8 0 1,0 -2.8,0M183.2,109.2a1.4,1.8 0 1,0 2.8,0a1.4,1.8 0 1,0 -2.8,0M181.4,106.9a1.4,1.8 0 1,0 2.8,0a1.4,1.8 0 1,0 -2.8,0M184.4,109.9a1.4,1.8 0 1,0 2.8,0a1.4,1.8 0 1,0 -2.8,0M186.0,111.3a1.4,1.8 0 1,0 2.8,0a1.4,1.8 0 1,0 -2.8,0M181.6,106.0a1.4,1.8 0 1,0 2.8,0a1.4,1.8 0 1,0 -2.8,0M185.2,109.9a1.4,1.8 0 1,0 2.8,0a1.4,1.8 0 1,0 -2.8,0M184.8,109.2a1.4,1.8 0 1,0 2.8,0a1.4,1.8 0 1,0 -2.8,0M178.2,101.3a1.4,1.8 0 1,0 2.8,0a1.4,1.8 0 1,0 -2.8,0M175.1,97.3a1.4,1.8 0 1,0 2.8,0a1.4,1.8 0 1,0 -2.8,0M178.7,100.9a1.4,1.8 0 1,0 2.8,0a1.4,1.8 0 1,0 -2.8,0M182.1,104.3a1.4,1.8 0 1,0 2.8,0a1.4,1.8 0 1,0 -2.8,0M186.1,108.4a1.4,1.8 0 1,0 2.8,0a1.4,1.8 0 1,0 -2.8,0M188.8,111.1a1.4,1.8 0 1,0 2.8,0a1.4,1.8 0 1,0 -2.8,0M187.8,109.8a1.4,1.8 0 1,0 2.8,0a1.4,1.8 0 1,0 -2.8,0M177.9,98.3a1.4,1.8 0 1,0 2.8,0a1.4,1.8 0 1,0 -2.8,0M179.5,99.7a1.4,1.8 0 1,0 2.8,0a1.4,1.8 0 1,0 -2.8,0M192.3,113.5a1.4,1.8 0 1,0 2.8,0a1.4,1.8 0 1,0 -2.8,0M187.2,107.4a1.4,1.8 0 1,0 2.8,0a1.4,1.8 0 1,0 -2.8,0M195.0,115.8a1.4,1.8 0 1,0 2.8,0a1.4,1.8 0 1,0 -2.8,0M185.6,105.0a1.4,1.8 0 1,0 2.8,0a1.4,1.8 0 1,0 -2.8,0M187.0,106.0a1.4,1.8 0 1,0 2.8,0a1.4,1.8 0 1,0 -2.8,0M181.9,100.1a1.4,1.8 0 1,0 2.8,0a1.4,1.8 0 1,0 -2.8,0M189.6,108.5a1.4,1.8 0 1,0 2.8,0a1.4,1.8 0 1,0 -2.8,0M184.4,102.1a1.4,1.8 0 1,0 2.8,0a1.4,1.8 0 1,0 -2.8,0M190.8,108.9a1.4,1.8 0 1,0 2.8,0a1.4,1.8 0 1,0 -2.8,0M187.2,104.5a1.4,1.8 0 1,0 2.8,0a1.4,1.8 0 1,0 -2.8,0M180.5,96.5a1.4,1.8 0 1,0 2.8,0a1.4,1.8 0 1,0 -2.8,0M184.1,100.4a1.4,1.8 0 1,0 2.8,0a1.4,1.8 0 1,0 -2.8,0M182.6,98.5a1.4,1.8 0 1,0 2.8,0a1.4,1.8 0 1,0 -2.8,0M185.7,101.3a1.4,1.8 0 1,0 2.8,0a1.4,1.8 0 1,0 -2.8,0M189.7,105.6a1.4,1.8 0 1,0 2.8,0a1.4,1.8 0 1,0 -2.8,0M190.8,106.4a1.4,1.8 0 1,0 2.8,0a1.4,1.8 0 1,0 -2.8,0M181.2,95.0a1.4,1.8 0 1,0 2.8,0a1.4,1.8 0 1,0 -2.8,0M197.8,113.4a1.4,1.8 0 1,0 2.8,0a1.4,1.8 0 1,0 -2.8,0M185.2,99.1a1.4,1.8 0 1,0 2.8,0a1.4,1.8 0 1,0 -2.8,0M197.1,111.8a1.4,1.8 0 1,0 2.8,0a1.4,1.8 0 1,0 -2.8,0M185.9,99.0a1.4,1.8 0 1,0 2.8,0a1.4,1.8 0 1,0 -2.8,0M188.1,101.0a1.4,1.8 0 1,0 2.8,0a1.4,1.8 0 1,0 -2.8,0M195.5,108.9a1.4,1.8 0 1,0 2.8,0a1.4,1.8 0 1,0 -2.8,0M196.9,110.1a1.4,1.8 0 1,0 2.8,0a1.4,1.8 0 1,0 -2.8,0M197.6,110.8a1.4,1.8 0 1,0 2.8,0a1.4,1.8 0 1,0 -2.8,0M197.5,110.2a1.4,1.8 0 1,0 2.8,0a1.4,1.8 0 1,0 -2.8,0M183.5,94.1a1.4,1.8 0 1,0 2.8,0a1.4,1.8 0 1,0 -2.8,0M195.5,107.0a1.4,1.8 0 1,0 2.8,0a1.4,1.8 0 1,0 -2.8,0M198.4,110.1a1.4,1.8 0 1,0 2.8,0a1.4,1.8 0 1,0 -2.8,0M187.9,98.0a1.4,1.8 0 1,0 2.8,0a1.4,1.8 0 1,0 -2.8,0M196.2,106.7a1.4,1.8 0 1,0 2.8,0a1.4,1.8 0 1,0 -2.8,0M193.7,103.8a1.4,1.8 0 1,0 2.8,0a1.4,1.8 0 1,0 -2.8,0M194.4,104.2a1.4,1.8 0 1,0 2.8,0a1.4,1.8 0 1,0 -2.8,0M199.0,109.0a1.4,1.8 0 1,0 2.8,0a1.4,1.8 0 1,0 -2.8,0M184.2,91.9a1.4,1.8 0 1,0 2.8,0a1.4,1.8 0 1,0 -2.8,0M189.2,97.0a1.4,1.8 0 1,0 2.8,0a1.4,1.8 0 1,0 -2.8,0M194.1,102.1a1.4,1.8 0 1,0 2.8,0a1.4,1.8 0 1,0 -2.8,0M199.9,108.2a1.4,1.8 0 1,0 2.8,0a1.4,1.8 0 1,0 -2.8,0M196.4,104.1a1.4,1.8 0 1,0 2.8,0a1.4,1.8 0 1,0 -2.8,0M186.8,92.8a1.4,1.8 0 1,0 2.8,0a1.4,1.8 0 1,0 -2.8,0M193.9,100.6a1.4,1.8 0 1,0 2.8,0a1.4,1.8 0 1,0 -2.8,0M197.2,103.9a1.4,1.8 0 1,0 2.8,0a1.4,1.8 0 1,0 -2.8,0M193.4,99.3a1.4,1.8 0 1,0 2.8,0a1.4,1.8 0 1,0 -2.8,0M199.9,106.1a1.4,1.8 0 1,0 2.8,0a1.4,1.8 0 1,0 -2.8,0M201.1,107.2a1.4,1.8 0 1,0 2.8,0a1.4,1.8 0 1,0 -2.8,0M192.3,96.9a1.4,1.8 0 1,0 2.8,0a1.4,1.8 0 1,0 -2.8,0M204.0,109.6a1.4,1.8 0 1,0 2.8,0a1.4,1.8 0 1,0 -2.8,0M193.6,97.6a1.4,1.8 0 1,0 2.8,0a1.4,1.8 0 1,0 -2.8,0M193.8,97.2a1.4,1.8 0 1,0 2.8,0a1.4,1.8 0 1,0 -2.8,0M196.1,99.6a1.4,1.8 0 1,0 2.8,0a1.4,1.8 0 1,0 -2.8,0M196.2,99.5a1.4,1.8 0 1,0 2.8,0a1.4,1.8 0 1,0 -2.8,0M204.9,108.8a1.4,1.8 0 1,0 2.8,0a1.4,1.8 0 1,0 -2.8,0M195.8,98.3a1.4,1.8 0 1,0 2.8,0a1.4,1.8 0 1,0 -2.8,0M199.7,102.0a1.4,1.8 0 1,0 2.8,0a1.4,1.8 0 1,0 -2.8,0M204.5,107.3a1.4,1.8 0 1,0 2.8,0a1.4,1.8 0 1,0 -2.8,0M199.2,101.0a1.4,1.8 0 1,0 2.8,0a1.4,1.8 0 1,0 -2.8,0M194.3,95.0a1.4,1.8 0 1,0 2.8,0a1.4,1.8 0 1,0 -2.8,0M195.5,96.0a1.4,1.8 0 1,0 2.8,0a1.4,1.8 0 1,0 -2.8,0M196.7,97.2a1.4,1.8 0 1,0 2.8,0a1.4,1.8 0 1,0 -2.8,0M199.2,99.6a1.4,1.8 0 1,0 2.8,0a1.4,1.8 0 1,0 -2.8,0M202.3,102.7a1.4,1.8 0 1,0 2.8,0a1.4,1.8 0 1,0 -2.8,0M198.3,98.1a1.4,1.8 0 1,0 2.8,0a1.4,1.8 0 1,0 -2.8,0M193.8,92.7a1.4,1.8 0 1,0 2.8,0a1.4,1.8 0 1,0 -2.8,0M199.6,98.8a1.4,1.8 0 1,0 2.8,0a1.4,1.8 0 1,0 -2.8,0M200.2,99.1a1.4,1.8 0 1,0 2.8,0a1.4,1.8 0 1,0 -2.8,0M199.4,98.0a1.4,1.8 0 1,0 2.8,0a1.4,1.8 0 1,0 -2.8,0M191.5,88.9a1.4,1.8 0 1,0 2.8,0a1.4,1.8 0 1,0 -2.8,0M194.3,91.8a1.4,1.8 0 1,0 2.8,0a1.4,1.8 0 1,0 -2.8,0M195.3,92.6a1.4,1.8 0 1,0 2.8,0a1.4,1.8 0 1,0 -2.8,0M203.5,101.4a1.4,1.8 0 1,0 2.8,0a1.4,1.8 0 1,0 -2.8,0M199.9,97.2a1.4,1.8 0 1,0 2.8,0a1.4,1.8 0 1,0 -2.8,0M199.2,96.1a1.4,1.8 0 1,0 2.8,0a1.4,1.8 0 1,0 -2.8,0M198.9,95.3a1.4,1.8 0 1,0 2.8,0a1.4,1.8 0 1,0 -2.8,0M203.9,100.9a1.4,1.8 0 1,0 2.8,0a1.4,1.8 0 1,0 -2.8,0M199.2,95.0a1.4,1.8 0 1,0 2.8,0a1.4,1.8 0 1,0 -2.8,0M205.9,102.4a1.4,1.8 0 1,0 2.8,0a1.4,1.8 0 1,0 -2.8,0M205.3,101.5a1.4,1.8 0 1,0 2.8,0a1.4,1.8 0 1,0 -2.8,0M203.1,98.5a1.4,1.8 0 1,0 2.8,0a1.4,1.8 0 1,0 -2.8,0M199.2,94.0a1.4,1.8 0 1,0 2.8,0a1.4,1.8 0 1,0 -2.8,0M202.5,97.3a1.4,1.8 0 1,0 2.8,0a1.4,1.8 0 1,0 -2.8,0M199.2,93.4a1.4,1.8 0 1,0 2.8,0a1.4,1.8 0 1,0 -2.8,0M198.2,91.9a1.4,1.8 0 1,0 2.8,0a1.4,1.8 0 1,0 -2.8,0M199.9,93.6a1.4,1.8 0 1,0 2.8,0a1.4,1.8 0 1,0 -2.8,0M210.2,104.9a1.4,1.8 0 1,0 2.8,0a1.4,1.8 0 1,0 -2.8,0M205.8,99.6a1.4,1.8 0 1,0 2.8,0a1.4,1.8 0 1,0 -2.8,0M205.3,98.7a1.4,1.8 0 1,0 2.8,0a1.4,1.8 0 1,0 -2.8,0M206.6,99.8a1.4,1.8 0 1,0 2.8,0a1.4,1.8 0 1,0 -2.8,0M205.1,98.0a1.4,1.8 0 1,0 2.8,0a1.4,1.8 0 1,0 -2.8,0M202.5,94.6a1.4,1.8 0 1,0 2.8,0a1.4,1.8 0 1,0 -2.8,0M212.1,105.1a1.4,1.8 0 1,0 2.8,0a1.4,1.8 0 1,0 -2.8,0M198.8,90.1a1.4,1.8 0 1,0 2.8,0a1.4,1.8 0 1,0 -2.8,0M203.9,95.3a1.4,1.8 0 1,0 2.8,0a1.4,1.8 0 1,0 -2.8,0M206.2,97.5a1.4,1.8 0 1,0 2.8,0a1.4,1.8 0 1,0 -2.8,0M210.9,102.8a1.4,1.8 0 1,0 2.8,0a1.4,1.8 0 1,0 -2.8,0M204.2,94.7a1.4,1.8 0 1,0 2.8,0a1.4,1.8 0 1,0 -2.8,0M205.3,95.7a1.4,1.8 0 1,0 2.8,0a1.4,1.8 0 1,0 -2.8,0M200.9,90.4a1.4,1.8 0 1,0 2.8,0a1.4,1.8 0 1,0 -2.8,0M199.1,88.2a1.4,1.8 0 1,0 2.8,0a1.4,1.8 0 1,0 -2.8,0M201.2,90.3a1.4,1.8 0 1,0 2.8,0a1.4,1.8 0 1,0 -2.8,0M198.9,87.5a1.4,1.8 0 1,0 2.8,0a1.4,1.8 0 1,0 -2.8,0M204.7,93.6a1.4,1.8 0 1,0 2.8,0a1.4,1.8 0 1,0 -2.8,0M208.3,97.3a1.4,1.8 0 1,0 2.8,0a1.4,1.8 0 1,0 -2.8,0M207.8,96.6a1.4,1.8 0 1,0 2.8,0a1.4,1.8 0 1,0 -2.8,0M205.9,94.0a1.4,1.8 0 1,0 2.8,0a1.4,1.8 0 1,0 -2.8,0M206.0,93.8a1.4,1.8 0 1,0 2.8,0a1.4,1.8 0 1,0 -2.8,0M200.0,86.7a1.4,1.8 0 1,0 2.8,0a1.4,1.8 0 1,0 -2.8,0M207.8,95.2a1.4,1.8 0 1,0 2.8,0a1.4,1.8 0 1,0 -2.8,0M206.4,93.4a1.4,1.8 0 1,0 2.8,0a1.4,1.8 0 1,0 -2.8,0M205.1,91.8a1.4,1.8 0 1,0 2.8,0a1.4,1.8 0 1,0 -2.8,0M209.4,96.0a1.4,1.8 0 1,0 2.8,0a1.4,1.8 0 1,0 -2.8,0M204.8,90.6a1.4,1.8 0 1,0 2.8,0a1.4,1.8 0 1,0 -2.8,0M203.1,88.6a1.4,1.8 0 1,0 2.8,0a1.4,1.8 0 1,0 -2.8,0M204.7,90.2a1.4,1.8 0 1,0 2.8,0a1.4,1.8 0 1,0 -2.8,0M207.6,93.0a1.4,1.8 0 1,0 2.8,0a1.4,1.8 0 1,0 -2.8,0M202.3,86.6a1.4,1.8 0 1,0 2.8,0a1.4,1.8 0 1,0 -2.8,0M210.9,96.0a1.4,1.8 0 1,0 2.8,0a1.4,1.8 0 1,0 -2.8,0M205.0,89.0a1.4,1.8 0 1,0 2.8,0a1.4,1.8 0 1,0 -2.8,0M208.9,93.2a1.4,1.8 0 1,0 2.8,0a1.4,1.8 0 1,0 -2.8,0M206.9,90.7a1.4,1.8 0 1,0 2.8,0a1.4,1.8 0 1,0 -2.8,0M213.7,98.0a1.4,1.8 0 1,0 2.8,0a1.4,1.8 0 1,0 -2.8,0M205.9,88.9a1.4,1.8 0 1,0 2.8,0a1.4,1.8 0 1,0 -2.8,0M210.3,93.7a1.4,1.8 0 1,0 2.8,0a1.4,1.8 0 1,0 -2.8,0M210.0,93.1a1.4,1.8 0 1,0 2.8,0a1.4,1.8 0 1,0 -2.8,0M217.0,100.5a1.4,1.8 0 1,0 2.8,0a1.4,1.8 0 1,0 -2.8,0M210.6,93.2a1.4,1.8 0 1,0 2.8,0a1.4,1.8 0 1,0 -2.8,0M210.2,92.2a1.4,1.8 0 1,0 2.8,0a1.4,1.8 0 1,0 -2.8,0M209.8,91.7a1.4,1.8 0 1,0 2.8,0a1.4,1.8 0 1,0 -2.8,0M206.4,87.6a1.4,1.8 0 1,0 2.8,0a1.4,1.8 0 1,0 -2.8,0M213.3,94.8a1.4,1.8 0 1,0 2.8,0a1.4,1.8 0 1,0 -2.8,0M211.4,92.5a1.4,1.8 0 1,0 2.8,0a1.4,1.8 0 1,0 -2.8,0M209.8,90.4a1.4,1.8 0 1,0 2.8,0a1.4,1.8 0 1,0 -2.8,0M202.0,81.5a1.4,1.8 0 1,0 2.8,0a1.4,1.8 0 1,0 -2.8,0M205.4,84.9a1.4,1.8 0 1,0 2.8,0a1.4,1.8 0 1,0 -2.8,0M210.3,90.1a1.4,1.8 0 1,0 2.8,0a1.4,1.8 0 1,0 -2.8,0M205.2,84.0a1.4,1.8 0 1,0 2.8,0a1.4,1.8 0 1,0 -2.8,0M218.0,98.1a1.4,1.8 0 1,0 2.8,0a1.4,1.8 0 1,0 -2.8,0M206.1,84.6a1.4,1.8 0 1,0 2.8,0a1.4,1.8 0 1,0 -2.8,0M212.7,91.7a1.4,1.8 0 1,0 2.8,0a1.4,1.8 0 1,0 -2.8,0M206.9,84.6a1.4,1.8 0 1,0 2.8,0a1.4,1.8 0 1,0 -2.8,0M208.1,85.9a1.4,1.8 0 1,0 2.8,0a1.4,1.8 0 1,0 -2.8,0M210.0,87.8a1.4,1.8 0 1,0 2.8,0a1.4,1.8 0 1,0 -2.8,0M216.6,94.7a1.4,1.8 0 1,0 2.8,0a1.4,1.8 0 1,0 -2.8,0M217.8,95.8a1.4,1.8 0 1,0 2.8,0a1.4,1.8 0 1,0 -2.8,0M212.8,89.8a1.4,1.8 0 1,0 2.8,0a1.4,1.8 0 1,0 -2.8,0M204.1,79.8a1.4,1.8 0 1,0 2.8,0a1.4,1.8 0 1,0 -2.8,0M210.7,86.8a1.4,1.8 0 1,0 2.8,0a1.4,1.8 0 1,0 -2.8,0M207.5,83.0a1.4,1.8 0 1,0 2.8,0a1.4,1.8 0 1,0 -2.8,0M214.0,90.0a1.4,1.8 0 1,0 2.8,0a1.4,1.8 0 1,0 -2.8,0M212.7,88.2a1.4,1.8 0 1,0 2.8,0a1.4,1.8 0 1,0 -2.8,0M209.0,83.8a1.4,1.8 0 1,0 2.8,0a1.4,1.8 0 1,0 -2.8,0M211.8,86.8a1.4,1.8 0 1,0 2.8,0a1.4,1.8 0 1,0 -2.8,0M212.3,86.9a1.4,1.8 0 1,0 2.8,0a1.4,1.8 0 1,0 -2.8,0M216.5,91.3a1.4,1.8 0 1,0 2.8,0a1.4,1.8 0 1,0 -2.8,0M210.5,84.3a1.4,1.8 0 1,0 2.8,0a1.4,1.8 0 1,0 -2.8,0M217.8,92.4a1.4,1.8 0 1,0 2.8,0a1.4,1.8 0 1,0 -2.8,0M213.5,87.2a1.4,1.8 0 1,0 2.8,0a1.4,1.8 0 1,0 -2.8,0M208.0,80.7a1.4,1.8 0 1,0 2.8,0a1.4,1.8 0 1,0 -2.8,0M209.7,82.2a1.4,1.8 0 1,0 2.8,0a1.4,1.8 0 1,0 -2.8,0M208.8,81.0a1.4,1.8 0 1,0 2.8,0a1.4,1.8 0 1,0 -2.8,0M211.1,83.1a1.4,1.8 0 1,0 2.8,0a1.4,1.8 0 1,0 -2.8,0M207.0,78.3a1.4,1.8 0 1,0 2.8,0a1.4,1.8 0 1,0 -2.8,0M215.5,87.7a1.4,1.8 0 1,0 2.8,0a1.4,1.8 0 1,0 -2.8,0M215.4,87.1a1.4,1.8 0 1,0 2.8,0a1.4,1.8 0 1,0 -2.8,0M216.5,88.0a1.4,1.8 0 1,0 2.8,0a1.4,1.8 0 1,0 -2.8,0M213.6,84.6a1.4,1.8 0 1,0 2.8,0a1.4,1.8 0 1,0 -2.8,0M215.8,86.9a1.4,1.8 0 1,0 2.8,0a1.4,1.8 0 1,0 -2.8,0M219.6,90.8a1.4,1.8 0 1,0 2.8,0a1.4,1.8 0 1,0 -2.8,0M218.2,89.0a1.4,1.8 0 1,0 2.8,0a1.4,1.8 0 1,0 -2.8,0M209.7,79.1a1.4,1.8 0 1,0 2.8,0a1.4,1.8 0 1,0 -2.8,0M218.1,88.0a1.4,1.8 0 1,0 2.8,0a1.4,1.8 0 1,0 -2.8,0M215.8,85.2a1.4,1.8 0 1,0 2.8,0a1.4,1.8 0 1,0 -2.8,0M217.5,86.9a1.4,1.8 0 1,0 2.8,0a1.4,1.8 0 1,0 -2.8,0M215.2,84.0a1.4,1.8 0 1,0 2.8,0a1.4,1.8 0 1,0 -2.8,0M213.1,81.3a1.4,1.8 0 1,0 2.8,0a1.4,1.8 0 1,0 -2.8,0M215.4,83.7a1.4,1.8 0 1,0 2.8,0a1.4,1.8 0 1,0 -2.8,0M218.5,86.7a1.4,1.8 0 1,0 2.8,0a1.4,1.8 0 1,0 -2.8,0M209.2,76.0a1.4,1.8 0 1,0 2.8,0a1.4,1.8 0 1,0 -2.8,0M214.3,81.6a1.4,1.8 0 1,0 2.8,0a1.4,1.8 0 1,0 -2.8,0M215.1,82.1a1.4,1.8 0 1,0 2.8,0a1.4,1.8 0 1,0 -2.8,0M219.2,86.3a1.4,1.8 0 1,0 2.8,0a1.4,1.8 0 1,0 -2.8,0M213.3,79.5a1.4,1.8 0 1,0 2.8,0a1.4,1.8 0 1,0 -2.8,0M219.1,85.8a1.4,1.8 0 1,0 2.8,0a1.4,1.8 0 1,0 -2.8,0M221.6,88.3a1.4,1.8 0 1,0 2.8,0a1.4,1.8 0 1,0 -2.8,0M217.4,83.1a1.4,1.8 0 1,0 2.8,0a1.4,1.8 0 1,0 -2.8,0M220.8,86.6a1.4,1.8 0 1,0 2.8,0a1.4,1.8 0 1,0 -2.8,0M216.7,81.7a1.4,1.8 0 1,0 2.8,0a1.4,1.8 0 1,0 -2.8,0M220.4,85.8a1.4,1.8 0 1,0 2.8,0a1.4,1.8 0 1,0 -2.8,0M221.7,86.7a1.4,1.8 0 1,0 2.8,0a1.4,1.8 0 1,0 -2.8,0M221.8,86.6a1.4,1.8 0 1,0 2.8,0a1.4,1.8 0 1,0 -2.8,0M219.0,83.2a1.4,1.8 0 1,0 2.8,0a1.4,1.8 0 1,0 -2.8,0M218.7,82.6a1.4,1.8 0 1,0 2.8,0a1.4,1.8 0 1,0 -2.8,0M212.0,74.8a1.4,1.8 0 1,0 2.8,0a1.4,1.8 0 1,0 -2.8,0M216.3,79.3a1.4,1.8 0 1,0 2.8,0a1.4,1.8 0 1,0 -2.8,0M212.3,74.4a1.4,1.8 0 1,0 2.8,0a1.4,1.8 0 1,0 -2.8,0M218.7,81.2a1.4,1.8 0 1,0 2.8,0a1.4,1.8 0 1,0 -2.8,0M215.2,77.0a1.4,1.8 0 1,0 2.8,0a1.4,1.8 0 1,0 -2.8,0M214.9,76.5a1.4,1.8 0 1,0 2.8,0a1.4,1.8 0 1,0 -2.8,0M216.3,77.8a1.4,1.8 0 1,0 2.8,0a1.4,1.8 0 1,0 -2.8,0M212.9,73.6a1.4,1.8 0 1,0 2.8,0a1.4,1.8 0 1,0 -2.8,0M221.3,82.8a1.4,1.8 0 1,0 2.8,0a1.4,1.8 0 1,0 -2.8,0M223.8,85.3a1.4,1.8 0 1,0 2.8,0a1.4,1.8 0 1,0 -2.8,0M217.4,77.9a1.4,1.8 0 1,0 2.8,0a1.4,1.8 0 1,0 -2.8,0M220.7,81.1a1.4,1.8 0 1,0 2.8,0a1.4,1.8 0 1,0 -2.8,0M222.7,83.3a1.4,1.8 0 1,0 2.8,0a1.4,1.8 0 1,0 -2.8,0M214.5,73.7a1.4,1.8 0 1,0 2.8,0a1.4,1.8 0 1,0 -2.8,0M224.5,84.8a1.4,1.8 0 1,0 2.8,0a1.4,1.8 0 1,0 -2.8,0M220.7,80.1a1.4,1.8 0 1,0 2.8,0a1.4,1.8 0 1,0 -2.8,0M219.9,78.9a1.4,1.8 0 1,0 2.8,0a1.4,1.8 0 1,0 -2.8,0M221.3,80.2a1.4,1.8 0 1,0 2.8,0a1.4,1.8 0 1,0 -2.8,0M217.8,76.0a1.4,1.8 0 1,0 2.8,0a1.4,1.8 0 1,0 -2.8,0M222.7,81.2a1.4,1.8 0 1,0 2.8,0a1.4,1.8 0 1,0 -2.8,0M227.1,85.8a1.4,1.8 0 1,0 2.8,0a1.4,1.8 0 1,0 -2.8,0M221.5,79.3a1.4,1.8 0 1,0 2.8,0a1.4,1.8 0 1,0 -2.8,0M222.8,80.2a1.4,1.8 0 1,0 2.8,0a1.4,1.8 0 1,0 -2.8,0M218.4,75.0a1.4,1.8 0 1,0 2.8,0a1.4,1.8 0 1,0 -2.8,0M221.1,78.0a1.4,1.8 0 1,0 2.8,0a1.4,1.8 0 1,0 -2.8,0M222.3,78.8a1.4,1.8 0 1,0 2.8,0a1.4,1.8 0 1,0 -2.8,0M227.1,83.9a1.4,1.8 0 1,0 2.8,0a1.4,1.8 0 1,0 -2.8,0M220.7,76.6a1.4,1.8 0 1,0 2.8,0a1.4,1.8 0 1,0 -2.8,0M218.7,73.9a1.4,1.8 0 1,0 2.8,0a1.4,1.8 0 1,0 -2.8,0M221.2,76.5a1.4,1.8 0 1,0 2.8,0a1.4,1.8 0 1,0 -2.8,0M218.3,73.0a1.4,1.8 0 1,0 2.8,0a1.4,1.8 0 1,0 -2.8,0M223.2,78.0a1.4,1.8 0 1,0 2.8,0a1.4,1.8 0 1,0 -2.8,0M226.7,81.7a1.4,1.8 0 1,0 2.8,0a1.4,1.8 0 1,0 -2.8,0M223.3,77.6a1.4,1.8 0 1,0 2.8,0a1.4,1.8 0 1,0 -2.8,0M221.4,75.2a1.4,1.8 0 1,0 2.8,0a1.4,1.8 0 1,0 -2.8,0M220.7,74.1a1.4,1.8 0 1,0 2.8,0a1.4,1.8 0 1,0 -2.8,0M224.2,77.7a1.4,1.8 0 1,0 2.8,0a1.4,1.8 0 1,0 -2.8,0M221.0,73.7a1.4,1.8 0 1,0 2.8,0a1.4,1.8 0 1,0 -2.8,0M220.1,72.7a1.4,1.8 0 1,0 2.8,0a1.4,1.8 0 1,0 -2.8,0M224.8,77.6a1.4,1.8 0 1,0 2.8,0a1.4,1.8 0 1,0 -2.8,0M221.0,72.9a1.4,1.8 0 1,0 2.8,0a1.4,1.8 0 1,0 -2.8,0M222.4,74.3a1.4,1.8 0 1,0 2.8,0a1.4,1.8 0 1,0 -2.8,0M229.5,81.9a1.4,1.8 0 1,0 2.8,0a1.4,1.8 0 1,0 -2.8,0M226.5,78.1a1.4,1.8 0 1,0 2.8,0a1.4,1.8 0 1,0 -2.8,0M222.0,73.0a1.4,1.8 0 1,0 2.8,0a1.4,1.8 0 1,0 -2.8,0M226.5,77.8a1.4,1.8 0 1,0 2.8,0a1.4,1.8 0 1,0 -2.8,0M221.3,71.7a1.4,1.8 0 1,0 2.8,0a1.4,1.8 0 1,0 -2.8,0M225.7,76.3a1.4,1.8 0 1,0 2.8,0a1.4,1.8 0 1,0 -2.8,0M222.9,72.6a1.4,1.8 0 1,0 2.8,0a1.4,1.8 0 1,0 -2.8,0M223.1,72.6a1.4,1.8 0 1,0 2.8,0a1.4,1.8 0 1,0 -2.8,0M223.2,72.4a1.4,1.8 0 1,0 2.8,0a1.4,1.8 0 1,0 -2.8,0M225.6,74.9a1.4,1.8 0 1,0 2.8,0a1.4,1.8 0 1,0 -2.8,0M227.9,77.3a1.4,1.8 0 1,0 2.8,0a1.4,1.8 0 1,0 -2.8,0M226.6,75.4a1.4,1.8 0 1,0 2.8,0a1.4,1.8 0 1,0 -2.8,0M226.3,74.7a1.4,1.8 0 1,0 2.8,0a1.4,1.8 0 1,0 -2.8,0M226.9,75.2a1.4,1.8 0 1,0 2.8,0a1.4,1.8 0 1,0 -2.8,0M227.4,75.4a1.4,1.8 0 1,0 2.8,0a1.4,1.8 0 1,0 -2.8,0M222.4,69.6a1.4,1.8 0 1,0 2.8,0a1.4,1.8 0 1,0 -2.8,0M227.0,74.4a1.4,1.8 0 1,0 2.8,0a1.4,1.8 0 1,0 -2.8,0M221.5,67.7a1.4,1.8 0 1,0 2.8,0a1.4,1.8 0 1,0 -2.8,0M223.9,70.3a1.4,1.8 0 1,0 2.8,0a1.4,1.8 0 1,0 -2.8,0M225.1,71.2a1.4,1.8 0 1,0 2.8,0a1.4,1.8 0 1,0 -2.8,0M221.2,66.7a1.4,1.8 0 1,0 2.8,0a1.4,1.8 0 1,0 -2.8,0M226.2,71.8a1.4,1.8 0 1,0 2.8,0a1.4,1.8 0 1,0 -2.8,0M228.2,73.8a1.4,1.8 0 1,0 2.8,0a1.4,1.8 0 1,0 -2.8,0M230.0,75.6a1.4,1.8 0 1,0 2.8,0a1.4,1.8 0 1,0 -2.8,0M226.4,71.4a1.4,1.8 0 1,0 2.8,0a1.4,1.8 0 1,0 -2.8,0M222.7,66.8a1.4,1.8 0 1,0 2.8,0a1.4,1.8 0 1,0 -2.8,0M226.6,70.9a1.4,1.8 0 1,0 2.8,0a1.4,1.8 0 1,0 -2.8,0M228.8,73.1a1.4,1.8 0 1,0 2.8,0a1.4,1.8 0 1,0 -2.8,0M224.0,67.4a1.4,1.8 0 1,0 2.8,0a1.4,1.8 0 1,0 -2.8,0M225.9,69.2a1.4,1.8 0 1,0 2.8,0a1.4,1.8 0 1,0 -2.8,0M232.8,76.7a1.4,1.8 0 1,0 2.8,0a1.4,1.8 0 1,0 -2.8,0M228.5,71.6a1.4,1.8 0 1,0 2.8,0a1.4,1.8 0 1,0 -2.8,0M234.8,78.5a1.4,1.8 0 1,0 2.8,0a1.4,1.8 0 1,0 -2.8,0M223.0,64.7a1.4,1.8 0 1,0 2.8,0a1.4,1.8 0 1,0 -2.8,0M234.0,76.9a1.4,1.8 0 1,0 2.8,0a1.4,1.8 0 1,0 -2.8,0M231.1,73.3a1.4,1.8 0 1,0 2.8,0a1.4,1.8 0 1,0 -2.8,0M226.2,67.3a1.4,1.8 0 1,0 2.8,0a1.4,1.8 0 1,0 -2.8,0M226.6,67.7a1.4,1.8 0 1,0 2.8,0a1.4,1.8 0 1,0 -2.8,0M230.2,71.4a1.4,1.8 0 1,0 2.8,0a1.4,1.8 0 1,0 -2.8,0M231.1,72.2a1.4,1.8 0 1,0 2.8,0a1.4,1.8 0 1,0 -2.8,0M224.9,64.7a1.4,1.8 0 1,0 2.8,0a1.4,1.8 0 1,0 -2.8,0M232.9,73.5a1.4,1.8 0 1,0 2.8,0a1.4,1.8 0 1,0 -2.8,0M235.9,76.5a1.4,1.8 0 1,0 2.8,0a1.4,1.8 0 1,0 -2.8,0M230.5,70.2a1.4,1.8 0 1,0 2.8,0a1.4,1.8 0 1,0 -2.8,0M235.7,75.7a1.4,1.8 0 1,0 2.8,0a1.4,1.8 0 1,0 -2.8,0M226.7,65.3a1.4,1.8 0 1,0 2.8,0a1.4,1.8 0 1,0 -2.8,0M226.7,65.1a1.4,1.8 0 1,0 2.8,0a1.4,1.8 0 1,0 -2.8,0M235.6,74.8a1.4,1.8 0 1,0 2.8,0a1.4,1.8 0 1,0 -2.8,0M231.8,70.3a1.4,1.8 0 1,0 2.8,0a1.4,1.8 0 1,0 -2.8,0M233.7,72.2a1.4,1.8 0 1,0 2.8,0a1.4,1.8 0 1,0 -2.8,0M227.5,64.7a1.4,1.8 0 1,0 2.8,0a1.4,1.8 0 1,0 -2.8,0M232.6,70.1a1.4,1.8 0 1,0 2.8,0a1.4,1.8 0 1,0 -2.8,0M225.8,62.2a1.4,1.8 0 1,0 2.8,0a1.4,1.8 0 1,0 -2.8,0M233.0,70.1a1.4,1.8 0 1,0 2.8,0a1.4,1.8 0 1,0 -2.8,0M225.7,61.6a1.4,1.8 0 1,0 2.8,0a1.4,1.8 0 1,0 -2.8,0M235.4,72.1a1.4,1.8 0 1,0 2.8,0a1.4,1.8 0 1,0 -2.8,0M236.6,73.1a1.4,1.8 0 1,0 2.8,0a1.4,1.8 0 1,0 -2.8,0M236.3,72.6a1.4,1.8 0 1,0 2.8,0a1.4,1.8 0 1,0 -2.8,0M230.2,65.4a1.4,1.8 0 1,0 2.8,0a1.4,1.8 0 1,0 -2.8,0M235.9,71.6a1.4,1.8 0 1,0 2.8,0a1.4,1.8 0 1,0 -2.8,0M234.3,69.4a1.4,1.8 0 1,0 2.8,0a1.4,1.8 0 1,0 -2.8,0M229.2,63.3a1.4,1.8 0 1,0 2.8,0a1.4,1.8 0 1,0 -2.8,0M231.7,66.0a1.4,1.8 0 1,0 2.8,0a1.4,1.8 0 1,0 -2.8,0M232.0,66.0a1.4,1.8 0 1,0 2.8,0a1.4,1.8 0 1,0 -2.8,0M226.3,59.3a1.4,1.8 0 1,0 2.8,0a1.4,1.8 0 1,0 -2.8,0M232.4,65.7a1.4,1.8 0 1,0 2.8,0a1.4,1.8 0 1,0 -2.8,0M236.5,70.3a1.4,1.8 0 1,0 2.8,0a1.4,1.8 0 1,0 -2.8,0M230.8,63.4a1.4,1.8 0 1,0 2.8,0a1.4,1.8 0 1,0 -2.8,0M231.6,64.0a1.4,1.8 0 1,0 2.8,0a1.4,1.8 0 1,0 -2.8,0M229.0,60.7a1.4,1.8 0 1,0 2.8,0a1.4,1.8 0 1,0 -2.8,0M236.5,68.9a1.4,1.8 0 1,0 2.8,0a1.4,1.8 0 1,0 -2.8,0M232.9,64.5a1.4,1.8 0 1,0 2.8,0a1.4,1.8 0 1,0 -2.8,0M238.7,70.8a1.4,1.8 0 1,0 2.8,0a1.4,1.8 0 1,0 -2.8,0M236.1,67.7a1.4,1.8 0 1,0 2.8,0a1.4,1.8 0 1,0 -2.8,0M232.0,62.8a1.4,1.8 0 1,0 2.8,0a1.4,1.8 0 1,0 -2.8,0M232.5,62.9a1.4,1.8 0 1,0 2.8,0a1.4,1.8 0 1,0 -2.8,0M234.4,64.8a1.4,1.8 0 1,0 2.8,0a1.4,1.8 0 1,0 -2.8,0M229.8,59.2a1.4,1.8 0 1,0 2.8,0a1.4,1.8 0 1,0 -2.8,0M235.8,65.8a1.4,1.8 0 1,0 2.8,0a1.4,1.8 0 1,0 -2.8,0M235.6,65.2a1.4,1.8 0 1,0 2.8,0a1.4,1.8 0 1,0 -2.8,0M238.6,68.2a1.4,1.8 0 1,0 2.8,0a1.4,1.8 0 1,0 -2.8,0M235.1,64.0a1.4,1.8 0 1,0 2.8,0a1.4,1.8 0 1,0 -2.8,0M240.2,69.6a1.4,1.8 0 1,0 2.8,0a1.4,1.8 0 1,0 -2.8,0M233.1,61.3a1.4,1.8 0 1,0 2.8,0a1.4,1.8 0 1,0 -2.8,0M236.9,63.3a1.4,1.8 0 1,0 2.8,0a1.4,1.8 0 1,0 -2.8,0M238.5,63.9a1.4,1.8 0 1,0 2.8,0a1.4,1.8 0 1,0 -2.8,0M238.0,61.9a1.4,1.8 0 1,0 2.8,0a1.4,1.8 0 1,0 -2.8,0M236.3,59.2a1.4,1.8 0 1,0 2.8,0a1.4,1.8 0 1,0 -2.8,0M242.1,64.8a1.4,1.8 0 1,0 2.8,0a1.4,1.8 0 1,0 -2.8,0M240.9,61.2a1.4,1.8 0 1,0 2.8,0a1.4,1.8 0 1,0 -2.8,0M243.7,63.4a1.4,1.8 0 1,0 2.8,0a1.4,1.8 0 1,0 -2.8,0M241.3,59.4a1.4,1.8 0 1,0 2.8,0a1.4,1.8 0 1,0 -2.8,0M245.9,63.4a1.4,1.8 0 1,0 2.8,0a1.4,1.8 0 1,0 -2.8,0M243.3,58.9a1.4,1.8 0 1,0 2.8,0a1.4,1.8 0 1,0 -2.8,0M244.8,59.9a1.4,1.8 0 1,0 2.8,0a1.4,1.8 0 1,0 -2.8,0M246.2,60.3a1.4,1.8 0 1,0 2.8,0a1.4,1.8 0 1,0 -2.8,0M245.2,57.8a1.4,1.8 0 1,0 2.8,0a1.4,1.8 0 1,0 -2.8,0M245.2,56.0a1.4,1.8 0 1,0 2.8,0a1.4,1.8 0 1,0 -2.8,0M249.2,60.1a1.4,1.8 0 1,0 2.8,0a1.4,1.8 0 1,0 -2.8,0M67.4,167.1a1.4,1.8 0 1,0 2.8,0a1.4,1.8 0 1,0 -2.8,0M92.8,163.9a1.4,1.8 0 1,0 2.8,0a1.4,1.8 0 1,0 -2.8,0M72.2,182.7a1.4,1.8 0 1,0 2.8,0a1.4,1.8 0 1,0 -2.8,0M77.2,187.9a1.4,1.8 0 1,0 2.8,0a1.4,1.8 0 1,0 -2.8,0M72.6,191.2a1.4,1.8 0 1,0 2.8,0a1.4,1.8 0 1,0 -2.8,0M92.1,181.4a1.4,1.8 0 1,0 2.8,0a1.4,1.8 0 1,0 -2.8,0M144.9,206.7a1.4,1.8 0 1,0 2.8,0a1.4,1.8 0 1,0 -2.8,0M47.1,221.6a1.4,1.8 0 1,0 2.8,0a1.4,1.8 0 1,0 -2.8,0M98.2,161.8a1.4,1.8 0 1,0 2.8,0a1.4,1.8 0 1,0 -2.8,0M109.3,163.6a1.4,1.8 0 1,0 2.8,0a1.4,1.8 0 1,0 -2.8,0M99.7,172.2a1.4,1.8 0 1,0 2.8,0a1.4,1.8 0 1,0 -2.8,0M151.6,98.6a1.4,1.8 0 1,0 2.8,0a1.4,1.8 0 1,0 -2.8,0M163.0,103.3a1.4,1.8 0 1,0 2.8,0a1.4,1.8 0 1,0 -2.8,0M165.6,103.3a1.4,1.8 0 1,0 2.8,0a1.4,1.8 0 1,0 -2.8,0M175.5,92.2a1.4,1.8 0 1,0 2.8,0a1.4,1.8 0 1,0 -2.8,0M177.3,89.6a1.4,1.8 0 1,0 2.8,0a1.4,1.8 0 1,0 -2.8,0M143.5,109.0a1.4,1.8 0 1,0 2.8,0a1.4,1.8 0 1,0 -2.8,0M148.0,115.5a1.4,1.8 0 1,0 2.8,0a1.4,1.8 0 1,0 -2.8,0M159.6,109.0a1.4,1.8 0 1,0 2.8,0a1.4,1.8 0 1,0 -2.8,0M143.5,121.2a1.4,1.8 0 1,0 2.8,0a1.4,1.8 0 1,0 -2.8,0M153.7,124.1a1.4,1.8 0 1,0 2.8,0a1.4,1.8 0 1,0 -2.8,0M159.4,157.3a1.4,1.8 0 1,0 2.8,0a1.4,1.8 0 1,0 -2.8,0M161.5,152.1a1.4,1.8 0 1,0 2.8,0a1.4,1.8 0 1,0 -2.8,0M164.1,151.3a1.4,1.8 0 1,0 2.8,0a1.4,1.8 0 1,0 -2.8,0M155.5,171.6a1.4,1.8 0 1,0 2.8,0a1.4,1.8 0 1,0 -2.8,0M143.5,176.5a1.4,1.8 0 1,0 2.8,0a1.4,1.8 0 1,0 -2.8,0M162.2,183.8a1.4,1.8 0 1,0 2.8,0a1.4,1.8 0 1,0 -2.8,0M129.8,185.1a1.4,1.8 0 1,0 2.8,0a1.4,1.8 0 1,0 -2.8,0M126.4,183.8a1.4,1.8 0 1,0 2.8,0a1.4,1.8 0 1,0 -2.8,0M123.8,192.9a1.4,1.8 0 1,0 2.8,0a1.4,1.8 0 1,0 -2.8,0M117.5,206.2a1.4,1.8 0 1,0 2.8,0a1.4,1.8 0 1,0 -2.8,0M101.4,206.8a1.4,1.8 0 1,0 2.8,0a1.4,1.8 0 1,0 -2.8,0M115.8,192.9a1.4,1.8 0 1,0 2.8,0a1.4,1.8 0 1,0 -2.8,0M110.4,196.1a1.4,1.8 0 1,0 2.8,0a1.4,1.8 0 1,0 -2.8,0M106.2,195.0a1.4,1.8 0 1,0 2.8,0a1.4,1.8 0 1,0 -2.8,0M104.0,201.5a1.4,1.8 0 1,0 2.8,0a1.4,1.8 0 1,0 -2.8,0M91.8,212.2a1.4,1.8 0 1,0 2.8,0a1.4,1.8 0 1,0 -2.8,0M85.8,213.3a1.4,1.8 0 1,0 2.8,0a1.4,1.8 0 1,0 -2.8,0M118.7,128.9a1.4,1.8 0 1,0 2.8,0a1.4,1.8 0 1,0 -2.8,0M157.3,72.7a1.4,1.8 0 1,0 2.8,0a1.4,1.8 0 1,0 -2.8,0M100.8,127.8a1.4,1.8 0 1,0 2.8,0a1.4,1.8 0 1,0 -2.8,0M160.2,185.8a1.4,1.8 0 1,0 2.8,0a1.4,1.8 0 1,0 -2.8,0" fill="none" stroke="#222" stroke-width="0.85"/>
<path clip-path="url(#cr)" d="M317.5,231.1a1.4,1.8 0 1,0 2.8,0a1.4,1.8 0 1,0 -2.8,0M330.7,225.0a1.4,1.8 0 1,0 2.8,0a1.4,1.8 0 1,0 -2.8,0M318.0,229.1a1.4,1.8 0 1,0 2.8,0a1.4,1.8 0 1,0 -2.8,0M331.5,214.3a1.4,1.8 0 1,0 2.8,0a1.4,1.8 0 1,0 -2.8,0M325.7,226.4a1.4,1.8 0 1,0 2.8,0a1.4,1.8 0 1,0 -2.8,0M341.7,221.9a1.4,1.8 0 1,0 2.8,0a1.4,1.8 0 1,0 -2.8,0M337.6,205.7a1.4,1.8 0 1,0 2.8,0a1.4,1.8 0 1,0 -2.8,0M321.4,221.0a1.4,1.8 0 1,0 2.8,0a1.4,1.8 0 1,0 -2.8,0M315.4,232.3a1.4,1.8 0 1,0 2.8,0a1.4,1.8 0 1,0 -2.8,0M330.7,223.0a1.4,1.8 0 1,0 2.8,0a1.4,1.8 0 1,0 -2.8,0M320.2,222.5a1.4,1.8 0 1,0 2.8,0a1.4,1.8 0 1,0 -2.8,0M334.4,197.2a1.4,1.8 0 1,0 2.8,0a1.4,1.8 0 1,0 -2.8,0M333.7,203.4a1.4,1.8 0 1,0 2.8,0a1.4,1.8 0 1,0 -2.8,0M337.1,210.6a1.4,1.8 0 1,0 2.8,0a1.4,1.8 0 1,0 -2.8,0M318.5,213.4a1.4,1.8 0 1,0 2.8,0a1.4,1.8 0 1,0 -2.8,0M314.4,236.0a1.4,1.8 0 1,0 2.8,0a1.4,1.8 0 1,0 -2.8,0M318.8,231.3a1.4,1.8 0 1,0 2.8,0a1.4,1.8 0 1,0 -2.8,0M330.0,220.8a1.4,1.8 0 1,0 2.8,0a1.4,1.8 0 1,0 -2.8,0M368.2,172.5a1.4,1.8 0 1,0 2.8,0a1.4,1.8 0 1,0 -2.8,0M319.1,232.5a1.4,1.8 0 1,0 2.8,0a1.4,1.8 0 1,0 -2.8,0M316.6,233.8a1.4,1.8 0 1,0 2.8,0a1.4,1.8 0 1,0 -2.8,0M313.4,224.6a1.4,1.8 0 1,0 2.8,0a1.4,1.8 0 1,0 -2.8,0M323.4,225.3a1.4,1.8 0 1,0 2.8,0a1.4,1.8 0 1,0 -2.8,0M327.2,219.3a1.4,1.8 0 1,0 2.8,0a1.4,1.8 0 1,0 -2.8,0M322.4,231.5a1.4,1.8 0 1,0 2.8,0a1.4,1.8 0 1,0 -2.8,0M326.8,225.3a1.4,1.8 0 1,0 2.8,0a1.4,1.8 0 1,0 -2.8,0M312.9,237.2a1.4,1.8 0 1,0 2.8,0a1.4,1.8 0 1,0 -2.8,0M330.8,220.6a1.4,1.8 0 1,0 2.8,0a1.4,1.8 0 1,0 -2.8,0M336.5,230.0a1.4,1.8 0 1,0 2.8,0a1.4,1.8 0 1,0 -2.8,0M334.0,224.6a1.4,1.8 0 1,0 2.8,0a1.4,1.8 0 1,0 -2.8,0M328.9,226.6a1.4,1.8 0 1,0 2.8,0a1.4,1.8 0 1,0 -2.8,0M320.7,231.5a1.4,1.8 0 1,0 2.8,0a1.4,1.8 0 1,0 -2.8,0M327.7,228.5a1.4,1.8 0 1,0 2.8,0a1.4,1.8 0 1,0 -2.8,0M316.4,233.9a1.4,1.8 0 1,0 2.8,0a1.4,1.8 0 1,0 -2.8,0M319.4,228.7a1.4,1.8 0 1,0 2.8,0a1.4,1.8 0 1,0 -2.8,0M319.8,227.9a1.4,1.8 0 1,0 2.8,0a1.4,1.8 0 1,0 -2.8,0M317.2,233.5a1.4,1.8 0 1,0 2.8,0a1.4,1.8 0 1,0 -2.8,0M348.8,220.4a1.4,1.8 0 1,0 2.8,0a1.4,1.8 0 1,0 -2.8,0M348.8,201.7a1.4,1.8 0 1,0 2.8,0a1.4,1.8 0 1,0 -2.8,0M315.2,233.9a1.4,1.8 0 1,0 2.8,0a1.4,1.8 0 1,0 -2.8,0M320.0,230.9a1.4,1.8 0 1,0 2.8,0a1.4,1.8 0 1,0 -2.8,0M312.4,220.4a1.4,1.8 0 1,0 2.8,0a1.4,1.8 0 1,0 -2.8,0M322.5,226.2a1.4,1.8 0 1,0 2.8,0a1.4,1.8 0 1,0 -2.8,0M340.3,211.8a1.4,1.8 0 1,0 2.8,0a1.4,1.8 0 1,0 -2.8,0M318.6,234.6a1.4,1.8 0 1,0 2.8,0a1.4,1.8 0 1,0 -2.8,0M328.7,222.2a1.4,1.8 0 1,0 2.8,0a1.4,1.8 0 1,0 -2.8,0M312.7,236.4a1.4,1.8 0 1,0 2.8,0a1.4,1.8 0 1,0 -2.8,0M333.1,213.6a1.4,1.8 0 1,0 2.8,0a1.4,1.8 0 1,0 -2.8,0M329.9,221.2a1.4,1.8 0 1,0 2.8,0a1.4,1.8 0 1,0 -2.8,0M324.0,230.3a1.4,1.8 0 1,0 2.8,0a1.4,1.8 0 1,0 -2.8,0M326.2,225.6a1.4,1.8 0 1,0 2.8,0a1.4,1.8 0 1,0 -2.8,0M330.9,230.4a1.4,1.8 0 1,0 2.8,0a1.4,1.8 0 1,0 -2.8,0M318.2,231.6a1.4,1.8 0 1,0 2.8,0a1.4,1.8 0 1,0 -2.8,0M314.4,235.3a1.4,1.8 0 1,0 2.8,0a1.4,1.8 0 1,0 -2.8,0M320.2,230.1a1.4,1.8 0 1,0 2.8,0a1.4,1.8 0 1,0 -2.8,0M316.5,233.0a1.4,1.8 0 1,0 2.8,0a1.4,1.8 0 1,0 -2.8,0M337.3,228.1a1.4,1.8 0 1,0 2.8,0a1.4,1.8 0 1,0 -2.8,0M320.8,228.2a1.4,1.8 0 1,0 2.8,0a1.4,1.8 0 1,0 -2.8,0M347.8,213.2a1.4,1.8 0 1,0 2.8,0a1.4,1.8 0 1,0 -2.8,0M324.7,225.3a1.4,1.8 0 1,0 2.8,0a1.4,1.8 0 1,0 -2.8,0M323.4,225.1a1.4,1.8 0 1,0 2.8,0a1.4,1.8 0 1,0 -2.8,0M314.1,228.3a1.4,1.8 0 1,0 2.8,0a1.4,1.8 0 1,0 -2.8,0M318.0,229.0a1.4,1.8 0 1,0 2.8,0a1.4,1.8 0 1,0 -2.8,0M333.0,214.2a1.4,1.8 0 1,0 2.8,0a1.4,1.8 0 1,0 -2.8,0M339.0,224.2a1.4,1.8 0 1,0 2.8,0a1.4,1.8 0 1,0 -2.8,0M313.0,230.3a1.4,1.8 0 1,0 2.8,0a1.4,1.8 0 1,0 -2.8,0M333.8,211.6a1.4,1.8 0 1,0 2.8,0a1.4,1.8 0 1,0 -2.8,0M342.9,210.8a1.4,1.8 0 1,0 2.8,0a1.4,1.8 0 1,0 -2.8,0M340.7,226.5a1.4,1.8 0 1,0 2.8,0a1.4,1.8 0 1,0 -2.8,0M327.5,229.7a1.4,1.8 0 1,0 2.8,0a1.4,1.8 0 1,0 -2.8,0M317.8,231.0a1.4,1.8 0 1,0 2.8,0a1.4,1.8 0 1,0 -2.8,0M320.6,231.0a1.4,1.8 0 1,0 2.8,0a1.4,1.8 0 1,0 -2.8,0M314.3,233.6a1.4,1.8 0 1,0 2.8,0a1.4,1.8 0 1,0 -2.8,0M335.1,215.8a1.4,1.8 0 1,0 2.8,0a1.4,1.8 0 1,0 -2.8,0M324.2,225.1a1.4,1.8 0 1,0 2.8,0a1.4,1.8 0 1,0 -2.8,0M314.6,232.6a1.4,1.8 0 1,0 2.8,0a1.4,1.8 0 1,0 -2.8,0M322.8,232.0a1.4,1.8 0 1,0 2.8,0a1.4,1.8 0 1,0 -2.8,0M316.7,234.5a1.4,1.8 0 1,0 2.8,0a1.4,1.8 0 1,0 -2.8,0M335.2,220.8a1.4,1.8 0 1,0 2.8,0a1.4,1.8 0 1,0 -2.8,0M321.9,229.3a1.4,1.8 0 1,0 2.8,0a1.4,1.8 0 1,0 -2.8,0M324.1,231.0a1.4,1.8 0 1,0 2.8,0a1.4,1.8 0 1,0 -2.8,0M319.4,216.1a1.4,1.8 0 1,0 2.8,0a1.4,1.8 0 1,0 -2.8,0M324.1,222.8a1.4,1.8 0 1,0 2.8,0a1.4,1.8 0 1,0 -2.8,0M324.1,224.2a1.4,1.8 0 1,0 2.8,0a1.4,1.8 0 1,0 -2.8,0M339.0,218.9a1.4,1.8 0 1,0 2.8,0a1.4,1.8 0 1,0 -2.8,0M317.4,220.9a1.4,1.8 0 1,0 2.8,0a1.4,1.8 0 1,0 -2.8,0M316.5,231.2a1.4,1.8 0 1,0 2.8,0a1.4,1.8 0 1,0 -2.8,0M360.5,205.6a1.4,1.8 0 1,0 2.8,0a1.4,1.8 0 1,0 -2.8,0M319.2,231.4a1.4,1.8 0 1,0 2.8,0a1.4,1.8 0 1,0 -2.8,0M314.5,235.0a1.4,1.8 0 1,0 2.8,0a1.4,1.8 0 1,0 -2.8,0M328.2,231.5a1.4,1.8 0 1,0 2.8,0a1.4,1.8 0 1,0 -2.8,0M322.6,229.6a1.4,1.8 0 1,0 2.8,0a1.4,1.8 0 1,0 -2.8,0M326.6,226.1a1.4,1.8 0 1,0 2.8,0a1.4,1.8 0 1,0 -2.8,0M314.9,234.8a1.4,1.8 0 1,0 2.8,0a1.4,1.8 0 1,0 -2.8,0M343.5,216.7a1.4,1.8 0 1,0 2.8,0a1.4,1.8 0 1,0 -2.8,0M332.5,222.0a1.4,1.8 0 1,0 2.8,0a1.4,1.8 0 1,0 -2.8,0M326.2,226.5a1.4,1.8 0 1,0 2.8,0a1.4,1.8 0 1,0 -2.8,0M337.5,218.1a1.4,1.8 0 1,0 2.8,0a1.4,1.8 0 1,0 -2.8,0M331.9,220.4a1.4,1.8 0 1,0 2.8,0a1.4,1.8 0 1,0 -2.8,0M332.5,216.1a1.4,1.8 0 1,0 2.8,0a1.4,1.8 0 1,0 -2.8,0M319.7,229.0a1.4,1.8 0 1,0 2.8,0a1.4,1.8 0 1,0 -2.8,0M332.0,226.3a1.4,1.8 0 1,0 2.8,0a1.4,1.8 0 1,0 -2.8,0M314.0,233.2a1.4,1.8 0 1,0 2.8,0a1.4,1.8 0 1,0 -2.8,0M339.6,222.0a1.4,1.8 0 1,0 2.8,0a1.4,1.8 0 1,0 -2.8,0M325.0,224.6a1.4,1.8 0 1,0 2.8,0a1.4,1.8 0 1,0 -2.8,0M319.7,226.6a1.4,1.8 0 1,0 2.8,0a1.4,1.8 0 1,0 -2.8,0M320.2,233.6a1.4,1.8 0 1,0 2.8,0a1.4,1.8 0 1,0 -2.8,0M344.4,222.7a1.4,1.8 0 1,0 2.8,0a1.4,1.8 0 1,0 -2.8,0M322.0,223.1a1.4,1.8 0 1,0 2.8,0a1.4,1.8 0 1,0 -2.8,0M328.8,226.9a1.4,1.8 0 1,0 2.8,0a1.4,1.8 0 1,0 -2.8,0M325.9,230.5a1.4,1.8 0 1,0 2.8,0a1.4,1.8 0 1,0 -2.8,0M348.1,198.0a1.4,1.8 0 1,0 2.8,0a1.4,1.8 0 1,0 -2.8,0M326.9,211.0a1.4,1.8 0 1,0 2.8,0a1.4,1.8 0 1,0 -2.8,0M334.8,213.0a1.4,1.8 0 1,0 2.8,0a1.4,1.8 0 1,0 -2.8,0M329.3,226.9a1.4,1.8 0 1,0 2.8,0a1.4,1.8 0 1,0 -2.8,0M333.0,220.6a1.4,1.8 0 1,0 2.8,0a1.4,1.8 0 1,0 -2.8,0M316.5,233.8a1.4,1.8 0 1,0 2.8,0a1.4,1.8 0 1,0 -2.8,0M331.9,210.4a1.4,1.8 0 1,0 2.8,0a1.4,1.8 0 1,0 -2.8,0M346.4,224.6a1.4,1.8 0 1,0 2.8,0a1.4,1.8 0 1,0 -2.8,0M326.4,221.9a1.4,1.8 0 1,0 2.8,0a1.4,1.8 0 1,0 -2.8,0M339.6,201.3a1.4,1.8 0 1,0 2.8,0a1.4,1.8 0 1,0 -2.8,0M341.6,226.4a1.4,1.8 0 1,0 2.8,0a1.4,1.8 0 1,0 -2.8,0M314.2,234.4a1.4,1.8 0 1,0 2.8,0a1.4,1.8 0 1,0 -2.8,0M335.8,218.7a1.4,1.8 0 1,0 2.8,0a1.4,1.8 0 1,0 -2.8,0M319.0,229.8a1.4,1.8 0 1,0 2.8,0a1.4,1.8 0 1,0 -2.8,0M316.3,232.6a1.4,1.8 0 1,0 2.8,0a1.4,1.8 0 1,0 -2.8,0M320.7,230.4a1.4,1.8 0 1,0 2.8,0a1.4,1.8 0 1,0 -2.8,0M323.4,232.0a1.4,1.8 0 1,0 2.8,0a1.4,1.8 0 1,0 -2.8,0M321.6,234.5a1.4,1.8 0 1,0 2.8,0a1.4,1.8 0 1,0 -2.8,0M316.0,236.6a1.4,1.8 0 1,0 2.8,0a1.4,1.8 0 1,0 -2.8,0M323.0,228.5a1.4,1.8 0 1,0 2.8,0a1.4,1.8 0 1,0 -2.8,0M321.6,221.5a1.4,1.8 0 1,0 2.8,0a1.4,1.8 0 1,0 -2.8,0M317.1,234.0a1.4,1.8 0 1,0 2.8,0a1.4,1.8 0 1,0 -2.8,0M330.5,230.5a1.4,1.8 0 1,0 2.8,0a1.4,1.8 0 1,0 -2.8,0M338.4,211.1a1.4,1.8 0 1,0 2.8,0a1.4,1.8 0 1,0 -2.8,0M317.8,228.7a1.4,1.8 0 1,0 2.8,0a1.4,1.8 0 1,0 -2.8,0M320.0,217.5a1.4,1.8 0 1,0 2.8,0a1.4,1.8 0 1,0 -2.8,0M313.7,235.6a1.4,1.8 0 1,0 2.8,0a1.4,1.8 0 1,0 -2.8,0M348.2,200.0a1.4,1.8 0 1,0 2.8,0a1.4,1.8 0 1,0 -2.8,0M319.0,230.4a1.4,1.8 0 1,0 2.8,0a1.4,1.8 0 1,0 -2.8,0M318.7,233.5a1.4,1.8 0 1,0 2.8,0a1.4,1.8 0 1,0 -2.8,0M319.7,229.4a1.4,1.8 0 1,0 2.8,0a1.4,1.8 0 1,0 -2.8,0M339.7,208.2a1.4,1.8 0 1,0 2.8,0a1.4,1.8 0 1,0 -2.8,0M321.9,226.4a1.4,1.8 0 1,0 2.8,0a1.4,1.8 0 1,0 -2.8,0M318.2,229.0a1.4,1.8 0 1,0 2.8,0a1.4,1.8 0 1,0 -2.8,0M336.8,220.4a1.4,1.8 0 1,0 2.8,0a1.4,1.8 0 1,0 -2.8,0M323.6,228.0a1.4,1.8 0 1,0 2.8,0a1.4,1.8 0 1,0 -2.8,0M317.5,225.3a1.4,1.8 0 1,0 2.8,0a1.4,1.8 0 1,0 -2.8,0M319.7,233.3a1.4,1.8 0 1,0 2.8,0a1.4,1.8 0 1,0 -2.8,0M327.7,228.2a1.4,1.8 0 1,0 2.8,0a1.4,1.8 0 1,0 -2.8,0M315.7,235.3a1.4,1.8 0 1,0 2.8,0a1.4,1.8 0 1,0 -2.8,0M317.3,232.3a1.4,1.8 0 1,0 2.8,0a1.4,1.8 0 1,0 -2.8,0M322.1,224.0a1.4,1.8 0 1,0 2.8,0a1.4,1.8 0 1,0 -2.8,0M326.2,231.5a1.4,1.8 0 1,0 2.8,0a1.4,1.8 0 1,0 -2.8,0M313.0,228.7a1.4,1.8 0 1,0 2.8,0a1.4,1.8 0 1,0 -2.8,0M314.4,229.9a1.4,1.8 0 1,0 2.8,0a1.4,1.8 0 1,0 -2.8,0M330.1,213.5a1.4,1.8 0 1,0 2.8,0a1.4,1.8 0 1,0 -2.8,0M320.0,232.4a1.4,1.8 0 1,0 2.8,0a1.4,1.8 0 1,0 -2.8,0M326.4,225.2a1.4,1.8 0 1,0 2.8,0a1.4,1.8 0 1,0 -2.8,0M320.0,232.0a1.4,1.8 0 1,0 2.8,0a1.4,1.8 0 1,0 -2.8,0M339.2,212.2a1.4,1.8 0 1,0 2.8,0a1.4,1.8 0 1,0 -2.8,0M317.0,231.1a1.4,1.8 0 1,0 2.8,0a1.4,1.8 0 1,0 -2.8,0M322.4,232.4a1.4,1.8 0 1,0 2.8,0a1.4,1.8 0 1,0 -2.8,0M365.8,184.9a1.4,1.8 0 1,0 2.8,0a1.4,1.8 0 1,0 -2.8,0M326.2,213.8a1.4,1.8 0 1,0 2.8,0a1.4,1.8 0 1,0 -2.8,0M343.7,193.3a1.4,1.8 0 1,0 2.8,0a1.4,1.8 0 1,0 -2.8,0M318.7,234.7a1.4,1.8 0 1,0 2.8,0a1.4,1.8 0 1,0 -2.8,0M337.9,215.5a1.4,1.8 0 1,0 2.8,0a1.4,1.8 0 1,0 -2.8,0M313.4,235.1a1.4,1.8 0 1,0 2.8,0a1.4,1.8 0 1,0 -2.8,0M320.0,229.6a1.4,1.8 0 1,0 2.8,0a1.4,1.8 0 1,0 -2.8,0M314.7,236.1a1.4,1.8 0 1,0 2.8,0a1.4,1.8 0 1,0 -2.8,0M315.7,220.0a1.4,1.8 0 1,0 2.8,0a1.4,1.8 0 1,0 -2.8,0M320.7,230.8a1.4,1.8 0 1,0 2.8,0a1.4,1.8 0 1,0 -2.8,0M325.8,222.3a1.4,1.8 0 1,0 2.8,0a1.4,1.8 0 1,0 -2.8,0M318.6,225.0a1.4,1.8 0 1,0 2.8,0a1.4,1.8 0 1,0 -2.8,0M318.8,231.7a1.4,1.8 0 1,0 2.8,0a1.4,1.8 0 1,0 -2.8,0M315.3,235.0a1.4,1.8 0 1,0 2.8,0a1.4,1.8 0 1,0 -2.8,0M313.6,234.2a1.4,1.8 0 1,0 2.8,0a1.4,1.8 0 1,0 -2.8,0M322.5,231.3a1.4,1.8 0 1,0 2.8,0a1.4,1.8 0 1,0 -2.8,0M314.5,230.4a1.4,1.8 0 1,0 2.8,0a1.4,1.8 0 1,0 -2.8,0M322.1,232.5a1.4,1.8 0 1,0 2.8,0a1.4,1.8 0 1,0 -2.8,0M330.8,212.2a1.4,1.8 0 1,0 2.8,0a1.4,1.8 0 1,0 -2.8,0M317.7,226.8a1.4,1.8 0 1,0 2.8,0a1.4,1.8 0 1,0 -2.8,0M325.1,227.1a1.4,1.8 0 1,0 2.8,0a1.4,1.8 0 1,0 -2.8,0M331.7,215.5a1.4,1.8 0 1,0 2.8,0a1.4,1.8 0 1,0 -2.8,0M333.2,214.3a1.4,1.8 0 1,0 2.8,0a1.4,1.8 0 1,0 -2.8,0M321.9,232.9a1.4,1.8 0 1,0 2.8,0a1.4,1.8 0 1,0 -2.8,0M334.6,219.4a1.4,1.8 0 1,0 2.8,0a1.4,1.8 0 1,0 -2.8,0M320.2,228.1a1.4,1.8 0 1,0 2.8,0a1.4,1.8 0 1,0 -2.8,0M319.3,225.9a1.4,1.8 0 1,0 2.8,0a1.4,1.8 0 1,0 -2.8,0M352.8,205.8a1.4,1.8 0 1,0 2.8,0a1.4,1.8 0 1,0 -2.8,0M328.0,225.8a1.4,1.8 0 1,0 2.8,0a1.4,1.8 0 1,0 -2.8,0M336.7,224.2a1.4,1.8 0 1,0 2.8,0a1.4,1.8 0 1,0 -2.8,0M320.7,216.4a1.4,1.8 0 1,0 2.8,0a1.4,1.8 0 1,0 -2.8,0M331.8,216.9a1.4,1.8 0 1,0 2.8,0a1.4,1.8 0 1,0 -2.8,0M321.0,231.8a1.4,1.8 0 1,0 2.8,0a1.4,1.8 0 1,0 -2.8,0M319.3,233.7a1.4,1.8 0 1,0 2.8,0a1.4,1.8 0 1,0 -2.8,0M317.8,234.9a1.4,1.8 0 1,0 2.8,0a1.4,1.8 0 1,0 -2.8,0M325.8,220.8a1.4,1.8 0 1,0 2.8,0a1.4,1.8 0 1,0 -2.8,0M318.5,234.5a1.4,1.8 0 1,0 2.8,0a1.4,1.8 0 1,0 -2.8,0M324.2,229.0a1.4,1.8 0 1,0 2.8,0a1.4,1.8 0 1,0 -2.8,0M317.4,226.4a1.4,1.8 0 1,0 2.8,0a1.4,1.8 0 1,0 -2.8,0M316.2,230.5a1.4,1.8 0 1,0 2.8,0a1.4,1.8 0 1,0 -2.8,0M316.5,233.5a1.4,1.8 0 1,0 2.8,0a1.4,1.8 0 1,0 -2.8,0M321.0,215.1a1.4,1.8 0 1,0 2.8,0a1.4,1.8 0 1,0 -2.8,0M318.4,234.9a1.4,1.8 0 1,0 2.8,0a1.4,1.8 0 1,0 -2.8,0M320.2,234.3a1.4,1.8 0 1,0 2.8,0a1.4,1.8 0 1,0 -2.8,0M320.3,227.6a1.4,1.8 0 1,0 2.8,0a1.4,1.8 0 1,0 -2.8,0M320.0,227.4a1.4,1.8 0 1,0 2.8,0a1.4,1.8 0 1,0 -2.8,0M323.5,227.5a1.4,1.8 0 1,0 2.8,0a1.4,1.8 0 1,0 -2.8,0M328.9,220.8a1.4,1.8 0 1,0 2.8,0a1.4,1.8 0 1,0 -2.8,0M316.0,236.0a1.4,1.8 0 1,0 2.8,0a1.4,1.8 0 1,0 -2.8,0M312.7,218.4a1.4,1.8 0 1,0 2.8,0a1.4,1.8 0 1,0 -2.8,0M334.7,217.1a1.4,1.8 0 1,0 2.8,0a1.4,1.8 0 1,0 -2.8,0M326.4,228.4a1.4,1.8 0 1,0 2.8,0a1.4,1.8 0 1,0 -2.8,0M319.5,232.1a1.4,1.8 0 1,0 2.8,0a1.4,1.8 0 1,0 -2.8,0M320.4,218.1a1.4,1.8 0 1,0 2.8,0a1.4,1.8 0 1,0 -2.8,0M361.6,196.8a1.4,1.8 0 1,0 2.8,0a1.4,1.8 0 1,0 -2.8,0M318.2,228.5a1.4,1.8 0 1,0 2.8,0a1.4,1.8 0 1,0 -2.8,0M319.9,220.3a1.4,1.8 0 1,0 2.8,0a1.4,1.8 0 1,0 -2.8,0M323.1,221.7a1.4,1.8 0 1,0 2.8,0a1.4,1.8 0 1,0 -2.8,0M322.8,232.0a1.4,1.8 0 1,0 2.8,0a1.4,1.8 0 1,0 -2.8,0M357.4,214.6a1.4,1.8 0 1,0 2.8,0a1.4,1.8 0 1,0 -2.8,0M321.1,231.8a1.4,1.8 0 1,0 2.8,0a1.4,1.8 0 1,0 -2.8,0M326.8,220.5a1.4,1.8 0 1,0 2.8,0a1.4,1.8 0 1,0 -2.8,0M336.9,221.8a1.4,1.8 0 1,0 2.8,0a1.4,1.8 0 1,0 -2.8,0M321.5,222.1a1.4,1.8 0 1,0 2.8,0a1.4,1.8 0 1,0 -2.8,0M328.4,228.4a1.4,1.8 0 1,0 2.8,0a1.4,1.8 0 1,0 -2.8,0M330.0,229.9a1.4,1.8 0 1,0 2.8,0a1.4,1.8 0 1,0 -2.8,0M326.3,222.4a1.4,1.8 0 1,0 2.8,0a1.4,1.8 0 1,0 -2.8,0M352.9,193.7a1.4,1.8 0 1,0 2.8,0a1.4,1.8 0 1,0 -2.8,0M323.9,231.0a1.4,1.8 0 1,0 2.8,0a1.4,1.8 0 1,0 -2.8,0M351.9,223.3a1.4,1.8 0 1,0 2.8,0a1.4,1.8 0 1,0 -2.8,0M318.3,231.4a1.4,1.8 0 1,0 2.8,0a1.4,1.8 0 1,0 -2.8,0M330.9,225.5a1.4,1.8 0 1,0 2.8,0a1.4,1.8 0 1,0 -2.8,0M314.3,216.9a1.4,1.8 0 1,0 2.8,0a1.4,1.8 0 1,0 -2.8,0M324.1,218.9a1.4,1.8 0 1,0 2.8,0a1.4,1.8 0 1,0 -2.8,0M319.7,223.7a1.4,1.8 0 1,0 2.8,0a1.4,1.8 0 1,0 -2.8,0M316.7,232.2a1.4,1.8 0 1,0 2.8,0a1.4,1.8 0 1,0 -2.8,0M313.1,234.0a1.4,1.8 0 1,0 2.8,0a1.4,1.8 0 1,0 -2.8,0M314.3,228.8a1.4,1.8 0 1,0 2.8,0a1.4,1.8 0 1,0 -2.8,0M326.4,218.3a1.4,1.8 0 1,0 2.8,0a1.4,1.8 0 1,0 -2.8,0M325.9,221.4a1.4,1.8 0 1,0 2.8,0a1.4,1.8 0 1,0 -2.8,0M315.3,233.8a1.4,1.8 0 1,0 2.8,0a1.4,1.8 0 1,0 -2.8,0M343.0,202.2a1.4,1.8 0 1,0 2.8,0a1.4,1.8 0 1,0 -2.8,0M322.5,225.1a1.4,1.8 0 1,0 2.8,0a1.4,1.8 0 1,0 -2.8,0M317.0,232.4a1.4,1.8 0 1,0 2.8,0a1.4,1.8 0 1,0 -2.8,0M316.9,233.7a1.4,1.8 0 1,0 2.8,0a1.4,1.8 0 1,0 -2.8,0M321.1,229.2a1.4,1.8 0 1,0 2.8,0a1.4,1.8 0 1,0 -2.8,0M321.6,232.7a1.4,1.8 0 1,0 2.8,0a1.4,1.8 0 1,0 -2.8,0M318.1,234.2a1.4,1.8 0 1,0 2.8,0a1.4,1.8 0 1,0 -2.8,0M317.1,233.2a1.4,1.8 0 1,0 2.8,0a1.4,1.8 0 1,0 -2.8,0M335.9,214.4a1.4,1.8 0 1,0 2.8,0a1.4,1.8 0 1,0 -2.8,0M316.2,232.4a1.4,1.8 0 1,0 2.8,0a1.4,1.8 0 1,0 -2.8,0M329.1,226.7a1.4,1.8 0 1,0 2.8,0a1.4,1.8 0 1,0 -2.8,0M345.5,211.5a1.4,1.8 0 1,0 2.8,0a1.4,1.8 0 1,0 -2.8,0M318.2,231.9a1.4,1.8 0 1,0 2.8,0a1.4,1.8 0 1,0 -2.8,0M350.7,194.1a1.4,1.8 0 1,0 2.8,0a1.4,1.8 0 1,0 -2.8,0M324.2,225.9a1.4,1.8 0 1,0 2.8,0a1.4,1.8 0 1,0 -2.8,0M338.9,224.7a1.4,1.8 0 1,0 2.8,0a1.4,1.8 0 1,0 -2.8,0M326.4,226.0a1.4,1.8 0 1,0 2.8,0a1.4,1.8 0 1,0 -2.8,0M328.4,230.1a1.4,1.8 0 1,0 2.8,0a1.4,1.8 0 1,0 -2.8,0M342.1,212.9a1.4,1.8 0 1,0 2.8,0a1.4,1.8 0 1,0 -2.8,0M340.6,224.7a1.4,1.8 0 1,0 2.8,0a1.4,1.8 0 1,0 -2.8,0M339.2,216.2a1.4,1.8 0 1,0 2.8,0a1.4,1.8 0 1,0 -2.8,0M317.8,231.9a1.4,1.8 0 1,0 2.8,0a1.4,1.8 0 1,0 -2.8,0M314.8,231.4a1.4,1.8 0 1,0 2.8,0a1.4,1.8 0 1,0 -2.8,0M316.1,234.1a1.4,1.8 0 1,0 2.8,0a1.4,1.8 0 1,0 -2.8,0M328.1,229.9a1.4,1.8 0 1,0 2.8,0a1.4,1.8 0 1,0 -2.8,0M316.7,235.6a1.4,1.8 0 1,0 2.8,0a1.4,1.8 0 1,0 -2.8,0M326.3,221.1a1.4,1.8 0 1,0 2.8,0a1.4,1.8 0 1,0 -2.8,0M321.4,231.7a1.4,1.8 0 1,0 2.8,0a1.4,1.8 0 1,0 -2.8,0M322.5,226.1a1.4,1.8 0 1,0 2.8,0a1.4,1.8 0 1,0 -2.8,0M327.8,229.8a1.4,1.8 0 1,0 2.8,0a1.4,1.8 0 1,0 -2.8,0M339.0,223.0a1.4,1.8 0 1,0 2.8,0a1.4,1.8 0 1,0 -2.8,0M323.3,226.0a1.4,1.8 0 1,0 2.8,0a1.4,1.8 0 1,0 -2.8,0M316.0,233.2a1.4,1.8 0 1,0 2.8,0a1.4,1.8 0 1,0 -2.8,0M320.7,227.5a1.4,1.8 0 1,0 2.8,0a1.4,1.8 0 1,0 -2.8,0M334.9,215.4a1.4,1.8 0 1,0 2.8,0a1.4,1.8 0 1,0 -2.8,0M326.6,229.0a1.4,1.8 0 1,0 2.8,0a1.4,1.8 0 1,0 -2.8,0M316.1,230.5a1.4,1.8 0 1,0 2.8,0a1.4,1.8 0 1,0 -2.8,0M325.0,220.3a1.4,1.8 0 1,0 2.8,0a1.4,1.8 0 1,0 -2.8,0M320.7,226.2a1.4,1.8 0 1,0 2.8,0a1.4,1.8 0 1,0 -2.8,0M315.8,232.1a1.4,1.8 0 1,0 2.8,0a1.4,1.8 0 1,0 -2.8,0M326.6,226.0a1.4,1.8 0 1,0 2.8,0a1.4,1.8 0 1,0 -2.8,0M315.4,234.2a1.4,1.8 0 1,0 2.8,0a1.4,1.8 0 1,0 -2.8,0M323.2,228.1a1.4,1.8 0 1,0 2.8,0a1.4,1.8 0 1,0 -2.8,0M318.5,235.1a1.4,1.8 0 1,0 2.8,0a1.4,1.8 0 1,0 -2.8,0M325.5,223.2a1.4,1.8 0 1,0 2.8,0a1.4,1.8 0 1,0 -2.8,0M333.4,225.4a1.4,1.8 0 1,0 2.8,0a1.4,1.8 0 1,0 -2.8,0M317.3,234.6a1.4,1.8 0 1,0 2.8,0a1.4,1.8 0 1,0 -2.8,0M327.9,224.4a1.4,1.8 0 1,0 2.8,0a1.4,1.8 0 1,0 -2.8,0M319.9,231.0a1.4,1.8 0 1,0 2.8,0a1.4,1.8 0 1,0 -2.8,0M342.2,207.8a1.4,1.8 0 1,0 2.8,0a1.4,1.8 0 1,0 -2.8,0M325.6,230.4a1.4,1.8 0 1,0 2.8,0a1.4,1.8 0 1,0 -2.8,0M346.7,214.4a1.4,1.8 0 1,0 2.8,0a1.4,1.8 0 1,0 -2.8,0M328.3,227.0a1.4,1.8 0 1,0 2.8,0a1.4,1.8 0 1,0 -2.8,0M320.6,231.9a1.4,1.8 0 1,0 2.8,0a1.4,1.8 0 1,0 -2.8,0M324.1,223.5a1.4,1.8 0 1,0 2.8,0a1.4,1.8 0 1,0 -2.8,0M312.7,232.9a1.4,1.8 0 1,0 2.8,0a1.4,1.8 0 1,0 -2.8,0M363.8,216.0a1.4,1.8 0 1,0 2.8,0a1.4,1.8 0 1,0 -2.8,0M319.0,232.9a1.4,1.8 0 1,0 2.8,0a1.4,1.8 0 1,0 -2.8,0M315.3,223.5a1.4,1.8 0 1,0 2.8,0a1.4,1.8 0 1,0 -2.8,0M313.5,237.1a1.4,1.8 0 1,0 2.8,0a1.4,1.8 0 1,0 -2.8,0M340.2,209.5a1.4,1.8 0 1,0 2.8,0a1.4,1.8 0 1,0 -2.8,0M331.0,219.4a1.4,1.8 0 1,0 2.8,0a1.4,1.8 0 1,0 -2.8,0M314.0,233.9a1.4,1.8 0 1,0 2.8,0a1.4,1.8 0 1,0 -2.8,0M336.8,220.4a1.4,1.8 0 1,0 2.8,0a1.4,1.8 0 1,0 -2.8,0M319.0,232.0a1.4,1.8 0 1,0 2.8,0a1.4,1.8 0 1,0 -2.8,0M317.9,227.9a1.4,1.8 0 1,0 2.8,0a1.4,1.8 0 1,0 -2.8,0M316.7,235.3a1.4,1.8 0 1,0 2.8,0a1.4,1.8 0 1,0 -2.8,0M328.5,229.2a1.4,1.8 0 1,0 2.8,0a1.4,1.8 0 1,0 -2.8,0M314.6,235.1a1.4,1.8 0 1,0 2.8,0a1.4,1.8 0 1,0 -2.8,0M319.9,230.2a1.4,1.8 0 1,0 2.8,0a1.4,1.8 0 1,0 -2.8,0M340.9,211.5a1.4,1.8 0 1,0 2.8,0a1.4,1.8 0 1,0 -2.8,0M317.1,232.0a1.4,1.8 0 1,0 2.8,0a1.4,1.8 0 1,0 -2.8,0M331.7,224.7a1.4,1.8 0 1,0 2.8,0a1.4,1.8 0 1,0 -2.8,0M324.0,227.4a1.4,1.8 0 1,0 2.8,0a1.4,1.8 0 1,0 -2.8,0M316.7,229.3a1.4,1.8 0 1,0 2.8,0a1.4,1.8 0 1,0 -2.8,0M337.0,221.8a1.4,1.8 0 1,0 2.8,0a1.4,1.8 0 1,0 -2.8,0M329.0,221.3a1.4,1.8 0 1,0 2.8,0a1.4,1.8 0 1,0 -2.8,0M315.6,232.6a1.4,1.8 0 1,0 2.8,0a1.4,1.8 0 1,0 -2.8,0M319.3,229.4a1.4,1.8 0 1,0 2.8,0a1.4,1.8 0 1,0 -2.8,0M312.8,235.7a1.4,1.8 0 1,0 2.8,0a1.4,1.8 0 1,0 -2.8,0M314.4,235.9a1.4,1.8 0 1,0 2.8,0a1.4,1.8 0 1,0 -2.8,0M319.0,229.7a1.4,1.8 0 1,0 2.8,0a1.4,1.8 0 1,0 -2.8,0M321.5,225.7a1.4,1.8 0 1,0 2.8,0a1.4,1.8 0 1,0 -2.8,0M317.8,221.8a1.4,1.8 0 1,0 2.8,0a1.4,1.8 0 1,0 -2.8,0M327.2,228.2a1.4,1.8 0 1,0 2.8,0a1.4,1.8 0 1,0 -2.8,0M318.6,224.8a1.4,1.8 0 1,0 2.8,0a1.4,1.8 0 1,0 -2.8,0M319.2,226.2a1.4,1.8 0 1,0 2.8,0a1.4,1.8 0 1,0 -2.8,0M321.5,226.8a1.4,1.8 0 1,0 2.8,0a1.4,1.8 0 1,0 -2.8,0M317.8,233.7a1.4,1.8 0 1,0 2.8,0a1.4,1.8 0 1,0 -2.8,0M316.1,235.0a1.4,1.8 0 1,0 2.8,0a1.4,1.8 0 1,0 -2.8,0M326.5,228.5a1.4,1.8 0 1,0 2.8,0a1.4,1.8 0 1,0 -2.8,0M324.3,224.3a1.4,1.8 0 1,0 2.8,0a1.4,1.8 0 1,0 -2.8,0M324.2,225.3a1.4,1.8 0 1,0 2.8,0a1.4,1.8 0 1,0 -2.8,0M324.0,222.1a1.4,1.8 0 1,0 2.8,0a1.4,1.8 0 1,0 -2.8,0M320.8,232.8a1.4,1.8 0 1,0 2.8,0a1.4,1.8 0 1,0 -2.8,0M326.6,225.6a1.4,1.8 0 1,0 2.8,0a1.4,1.8 0 1,0 -2.8,0M323.8,216.9a1.4,1.8 0 1,0 2.8,0a1.4,1.8 0 1,0 -2.8,0M314.9,230.4a1.4,1.8 0 1,0 2.8,0a1.4,1.8 0 1,0 -2.8,0M318.0,226.5a1.4,1.8 0 1,0 2.8,0a1.4,1.8 0 1,0 -2.8,0M356.9,189.3a1.4,1.8 0 1,0 2.8,0a1.4,1.8 0 1,0 -2.8,0M320.9,227.7a1.4,1.8 0 1,0 2.8,0a1.4,1.8 0 1,0 -2.8,0M340.1,202.8a1.4,1.8 0 1,0 2.8,0a1.4,1.8 0 1,0 -2.8,0M314.3,236.9a1.4,1.8 0 1,0 2.8,0a1.4,1.8 0 1,0 -2.8,0M316.9,233.6a1.4,1.8 0 1,0 2.8,0a1.4,1.8 0 1,0 -2.8,0M336.3,213.0a1.4,1.8 0 1,0 2.8,0a1.4,1.8 0 1,0 -2.8,0M316.5,232.4a1.4,1.8 0 1,0 2.8,0a1.4,1.8 0 1,0 -2.8,0M328.6,219.6a1.4,1.8 0 1,0 2.8,0a1.4,1.8 0 1,0 -2.8,0M325.7,227.3a1.4,1.8 0 1,0 2.8,0a1.4,1.8 0 1,0 -2.8,0M347.6,218.3a1.4,1.8 0 1,0 2.8,0a1.4,1.8 0 1,0 -2.8,0M316.0,233.6a1.4,1.8 0 1,0 2.8,0a1.4,1.8 0 1,0 -2.8,0M325.6,228.9a1.4,1.8 0 1,0 2.8,0a1.4,1.8 0 1,0 -2.8,0M342.7,221.3a1.4,1.8 0 1,0 2.8,0a1.4,1.8 0 1,0 -2.8,0M328.9,217.9a1.4,1.8 0 1,0 2.8,0a1.4,1.8 0 1,0 -2.8,0M317.0,231.5a1.4,1.8 0 1,0 2.8,0a1.4,1.8 0 1,0 -2.8,0M320.5,228.7a1.4,1.8 0 1,0 2.8,0a1.4,1.8 0 1,0 -2.8,0M332.9,218.8a1.4,1.8 0 1,0 2.8,0a1.4,1.8 0 1,0 -2.8,0M325.7,224.1a1.4,1.8 0 1,0 2.8,0a1.4,1.8 0 1,0 -2.8,0M324.2,226.6a1.4,1.8 0 1,0 2.8,0a1.4,1.8 0 1,0 -2.8,0M318.0,230.2a1.4,1.8 0 1,0 2.8,0a1.4,1.8 0 1,0 -2.8,0M316.7,231.7a1.4,1.8 0 1,0 2.8,0a1.4,1.8 0 1,0 -2.8,0M318.7,227.4a1.4,1.8 0 1,0 2.8,0a1.4,1.8 0 1,0 -2.8,0M312.3,237.8a1.4,1.8 0 1,0 2.8,0a1.4,1.8 0 1,0 -2.8,0M318.7,230.2a1.4,1.8 0 1,0 2.8,0a1.4,1.8 0 1,0 -2.8,0M320.0,230.4a1.4,1.8 0 1,0 2.8,0a1.4,1.8 0 1,0 -2.8,0M326.3,233.6a1.4,1.8 0 1,0 2.8,0a1.4,1.8 0 1,0 -2.8,0M317.5,233.5a1.4,1.8 0 1,0 2.8,0a1.4,1.8 0 1,0 -2.8,0M318.6,224.9a1.4,1.8 0 1,0 2.8,0a1.4,1.8 0 1,0 -2.8,0M328.2,222.9a1.4,1.8 0 1,0 2.8,0a1.4,1.8 0 1,0 -2.8,0M313.8,225.7a1.4,1.8 0 1,0 2.8,0a1.4,1.8 0 1,0 -2.8,0M335.8,211.3a1.4,1.8 0 1,0 2.8,0a1.4,1.8 0 1,0 -2.8,0M319.0,228.6a1.4,1.8 0 1,0 2.8,0a1.4,1.8 0 1,0 -2.8,0M314.6,228.1a1.4,1.8 0 1,0 2.8,0a1.4,1.8 0 1,0 -2.8,0M341.9,208.8a1.4,1.8 0 1,0 2.8,0a1.4,1.8 0 1,0 -2.8,0M318.1,229.8a1.4,1.8 0 1,0 2.8,0a1.4,1.8 0 1,0 -2.8,0M320.3,224.0a1.4,1.8 0 1,0 2.8,0a1.4,1.8 0 1,0 -2.8,0M320.7,230.3a1.4,1.8 0 1,0 2.8,0a1.4,1.8 0 1,0 -2.8,0M332.1,225.5a1.4,1.8 0 1,0 2.8,0a1.4,1.8 0 1,0 -2.8,0M323.9,222.7a1.4,1.8 0 1,0 2.8,0a1.4,1.8 0 1,0 -2.8,0M364.6,208.3a1.4,1.8 0 1,0 2.8,0a1.4,1.8 0 1,0 -2.8,0M354.0,198.0a1.4,1.8 0 1,0 2.8,0a1.4,1.8 0 1,0 -2.8,0M316.8,230.2a1.4,1.8 0 1,0 2.8,0a1.4,1.8 0 1,0 -2.8,0M328.0,227.3a1.4,1.8 0 1,0 2.8,0a1.4,1.8 0 1,0 -2.8,0M320.9,228.2a1.4,1.8 0 1,0 2.8,0a1.4,1.8 0 1,0 -2.8,0M325.4,215.0a1.4,1.8 0 1,0 2.8,0a1.4,1.8 0 1,0 -2.8,0M316.6,229.6a1.4,1.8 0 1,0 2.8,0a1.4,1.8 0 1,0 -2.8,0M317.0,232.7a1.4,1.8 0 1,0 2.8,0a1.4,1.8 0 1,0 -2.8,0M328.7,218.9a1.4,1.8 0 1,0 2.8,0a1.4,1.8 0 1,0 -2.8,0M327.8,221.7a1.4,1.8 0 1,0 2.8,0a1.4,1.8 0 1,0 -2.8,0M346.4,210.2a1.4,1.8 0 1,0 2.8,0a1.4,1.8 0 1,0 -2.8,0M330.3,223.8a1.4,1.8 0 1,0 2.8,0a1.4,1.8 0 1,0 -2.8,0M323.8,228.0a1.4,1.8 0 1,0 2.8,0a1.4,1.8 0 1,0 -2.8,0M315.9,228.9a1.4,1.8 0 1,0 2.8,0a1.4,1.8 0 1,0 -2.8,0M314.3,234.0a1.4,1.8 0 1,0 2.8,0a1.4,1.8 0 1,0 -2.8,0M324.4,221.5a1.4,1.8 0 1,0 2.8,0a1.4,1.8 0 1,0 -2.8,0M330.6,218.7a1.4,1.8 0 1,0 2.8,0a1.4,1.8 0 1,0 -2.8,0M314.2,236.1a1.4,1.8 0 1,0 2.8,0a1.4,1.8 0 1,0 -2.8,0M326.6,225.2a1.4,1.8 0 1,0 2.8,0a1.4,1.8 0 1,0 -2.8,0M341.7,211.5a1.4,1.8 0 1,0 2.8,0a1.4,1.8 0 1,0 -2.8,0M319.4,215.8a1.4,1.8 0 1,0 2.8,0a1.4,1.8 0 1,0 -2.8,0M317.2,234.9a1.4,1.8 0 1,0 2.8,0a1.4,1.8 0 1,0 -2.8,0M316.8,234.1a1.4,1.8 0 1,0 2.8,0a1.4,1.8 0 1,0 -2.8,0M313.5,235.6a1.4,1.8 0 1,0 2.8,0a1.4,1.8 0 1,0 -2.8,0M322.9,223.2a1.4,1.8 0 1,0 2.8,0a1.4,1.8 0 1,0 -2.8,0M324.8,227.7a1.4,1.8 0 1,0 2.8,0a1.4,1.8 0 1,0 -2.8,0M318.4,227.7a1.4,1.8 0 1,0 2.8,0a1.4,1.8 0 1,0 -2.8,0M330.5,227.1a1.4,1.8 0 1,0 2.8,0a1.4,1.8 0 1,0 -2.8,0M316.1,236.3a1.4,1.8 0 1,0 2.8,0a1.4,1.8 0 1,0 -2.8,0M344.9,198.5a1.4,1.8 0 1,0 2.8,0a1.4,1.8 0 1,0 -2.8,0M327.1,222.0a1.4,1.8 0 1,0 2.8,0a1.4,1.8 0 1,0 -2.8,0M322.3,233.1a1.4,1.8 0 1,0 2.8,0a1.4,1.8 0 1,0 -2.8,0M323.4,222.5a1.4,1.8 0 1,0 2.8,0a1.4,1.8 0 1,0 -2.8,0M339.7,216.1a1.4,1.8 0 1,0 2.8,0a1.4,1.8 0 1,0 -2.8,0M315.2,228.6a1.4,1.8 0 1,0 2.8,0a1.4,1.8 0 1,0 -2.8,0M321.8,233.2a1.4,1.8 0 1,0 2.8,0a1.4,1.8 0 1,0 -2.8,0M322.1,223.8a1.4,1.8 0 1,0 2.8,0a1.4,1.8 0 1,0 -2.8,0M313.1,230.7a1.4,1.8 0 1,0 2.8,0a1.4,1.8 0 1,0 -2.8,0M350.8,207.1a1.4,1.8 0 1,0 2.8,0a1.4,1.8 0 1,0 -2.8,0M318.7,226.9a1.4,1.8 0 1,0 2.8,0a1.4,1.8 0 1,0 -2.8,0M328.8,219.0a1.4,1.8 0 1,0 2.8,0a1.4,1.8 0 1,0 -2.8,0M314.0,236.1a1.4,1.8 0 1,0 2.8,0a1.4,1.8 0 1,0 -2.8,0M336.8,210.5a1.4,1.8 0 1,0 2.8,0a1.4,1.8 0 1,0 -2.8,0M351.7,212.9a1.4,1.8 0 1,0 2.8,0a1.4,1.8 0 1,0 -2.8,0M315.8,231.0a1.4,1.8 0 1,0 2.8,0a1.4,1.8 0 1,0 -2.8,0M319.4,228.7a1.4,1.8 0 1,0 2.8,0a1.4,1.8 0 1,0 -2.8,0M315.8,234.0a1.4,1.8 0 1,0 2.8,0a1.4,1.8 0 1,0 -2.8,0M333.7,211.8a1.4,1.8 0 1,0 2.8,0a1.4,1.8 0 1,0 -2.8,0M330.0,219.6a1.4,1.8 0 1,0 2.8,0a1.4,1.8 0 1,0 -2.8,0M334.5,218.6a1.4,1.8 0 1,0 2.8,0a1.4,1.8 0 1,0 -2.8,0M323.5,220.0a1.4,1.8 0 1,0 2.8,0a1.4,1.8 0 1,0 -2.8,0M336.2,212.8a1.4,1.8 0 1,0 2.8,0a1.4,1.8 0 1,0 -2.8,0M316.1,230.8a1.4,1.8 0 1,0 2.8,0a1.4,1.8 0 1,0 -2.8,0M328.8,223.9a1.4,1.8 0 1,0 2.8,0a1.4,1.8 0 1,0 -2.8,0M336.9,207.4a1.4,1.8 0 1,0 2.8,0a1.4,1.8 0 1,0 -2.8,0M314.2,235.2a1.4,1.8 0 1,0 2.8,0a1.4,1.8 0 1,0 -2.8,0M323.5,225.2a1.4,1.8 0 1,0 2.8,0a1.4,1.8 0 1,0 -2.8,0M336.9,226.9a1.4,1.8 0 1,0 2.8,0a1.4,1.8 0 1,0 -2.8,0M320.9,229.0a1.4,1.8 0 1,0 2.8,0a1.4,1.8 0 1,0 -2.8,0M339.4,217.4a1.4,1.8 0 1,0 2.8,0a1.4,1.8 0 1,0 -2.8,0M314.1,237.0a1.4,1.8 0 1,0 2.8,0a1.4,1.8 0 1,0 -2.8,0M324.0,226.8a1.4,1.8 0 1,0 2.8,0a1.4,1.8 0 1,0 -2.8,0M314.7,235.0a1.4,1.8 0 1,0 2.8,0a1.4,1.8 0 1,0 -2.8,0M320.8,228.8a1.4,1.8 0 1,0 2.8,0a1.4,1.8 0 1,0 -2.8,0M330.8,223.7a1.4,1.8 0 1,0 2.8,0a1.4,1.8 0 1,0 -2.8,0M332.1,218.6a1.4,1.8 0 1,0 2.8,0a1.4,1.8 0 1,0 -2.8,0M316.8,232.9a1.4,1.8 0 1,0 2.8,0a1.4,1.8 0 1,0 -2.8,0M317.8,229.1a1.4,1.8 0 1,0 2.8,0a1.4,1.8 0 1,0 -2.8,0M328.3,225.0a1.4,1.8 0 1,0 2.8,0a1.4,1.8 0 1,0 -2.8,0M315.4,231.0a1.4,1.8 0 1,0 2.8,0a1.4,1.8 0 1,0 -2.8,0M315.0,235.1a1.4,1.8 0 1,0 2.8,0a1.4,1.8 0 1,0 -2.8,0M322.9,219.5a1.4,1.8 0 1,0 2.8,0a1.4,1.8 0 1,0 -2.8,0M319.9,229.3a1.4,1.8 0 1,0 2.8,0a1.4,1.8 0 1,0 -2.8,0M316.1,226.9a1.4,1.8 0 1,0 2.8,0a1.4,1.8 0 1,0 -2.8,0M319.7,228.2a1.4,1.8 0 1,0 2.8,0a1.4,1.8 0 1,0 -2.8,0M319.9,226.0a1.4,1.8 0 1,0 2.8,0a1.4,1.8 0 1,0 -2.8,0M315.3,232.6a1.4,1.8 0 1,0 2.8,0a1.4,1.8 0 1,0 -2.8,0M324.9,225.4a1.4,1.8 0 1,0 2.8,0a1.4,1.8 0 1,0 -2.8,0M317.8,234.7a1.4,1.8 0 1,0 2.8,0a1.4,1.8 0 1,0 -2.8,0M330.7,223.5a1.4,1.8 0 1,0 2.8,0a1.4,1.8 0 1,0 -2.8,0M320.0,225.1a1.4,1.8 0 1,0 2.8,0a1.4,1.8 0 1,0 -2.8,0M314.2,236.7a1.4,1.8 0 1,0 2.8,0a1.4,1.8 0 1,0 -2.8,0M345.9,224.2a1.4,1.8 0 1,0 2.8,0a1.4,1.8 0 1,0 -2.8,0M319.0,208.6a1.4,1.8 0 1,0 2.8,0a1.4,1.8 0 1,0 -2.8,0M359.8,196.0a1.4,1.8 0 1,0 2.8,0a1.4,1.8 0 1,0 -2.8,0M334.8,219.1a1.4,1.8 0 1,0 2.8,0a1.4,1.8 0 1,0 -2.8,0M319.0,229.1a1.4,1.8 0 1,0 2.8,0a1.4,1.8 0 1,0 -2.8,0M314.8,231.7a1.4,1.8 0 1,0 2.8,0a1.4,1.8 0 1,0 -2.8,0M319.9,226.5a1.4,1.8 0 1,0 2.8,0a1.4,1.8 0 1,0 -2.8,0M318.3,225.6a1.4,1.8 0 1,0 2.8,0a1.4,1.8 0 1,0 -2.8,0M316.2,235.7a1.4,1.8 0 1,0 2.8,0a1.4,1.8 0 1,0 -2.8,0M325.7,227.2a1.4,1.8 0 1,0 2.8,0a1.4,1.8 0 1,0 -2.8,0M319.2,230.6a1.4,1.8 0 1,0 2.8,0a1.4,1.8 0 1,0 -2.8,0M322.0,229.4a1.4,1.8 0 1,0 2.8,0a1.4,1.8 0 1,0 -2.8,0M322.7,231.1a1.4,1.8 0 1,0 2.8,0a1.4,1.8 0 1,0 -2.8,0M312.8,234.8a1.4,1.8 0 1,0 2.8,0a1.4,1.8 0 1,0 -2.8,0M315.6,232.3a1.4,1.8 0 1,0 2.8,0a1.4,1.8 0 1,0 -2.8,0M337.2,216.7a1.4,1.8 0 1,0 2.8,0a1.4,1.8 0 1,0 -2.8,0M331.5,230.5a1.4,1.8 0 1,0 2.8,0a1.4,1.8 0 1,0 -2.8,0M345.7,222.7a1.4,1.8 0 1,0 2.8,0a1.4,1.8 0 1,0 -2.8,0M336.7,214.7a1.4,1.8 0 1,0 2.8,0a1.4,1.8 0 1,0 -2.8,0M335.7,234.5a1.4,1.8 0 1,0 2.8,0a1.4,1.8 0 1,0 -2.8,0M335.5,215.6a1.4,1.8 0 1,0 2.8,0a1.4,1.8 0 1,0 -2.8,0M343.1,192.8a1.4,1.8 0 1,0 2.8,0a1.4,1.8 0 1,0 -2.8,0M362.1,222.7a1.4,1.8 0 1,0 2.8,0a1.4,1.8 0 1,0 -2.8,0M345.7,226.4a1.4,1.8 0 1,0 2.8,0a1.4,1.8 0 1,0 -2.8,0M335.5,224.9a1.4,1.8 0 1,0 2.8,0a1.4,1.8 0 1,0 -2.8,0M350.5,217.5a1.4,1.8 0 1,0 2.8,0a1.4,1.8 0 1,0 -2.8,0M351.1,212.0a1.4,1.8 0 1,0 2.8,0a1.4,1.8 0 1,0 -2.8,0M371.0,208.5a1.4,1.8 0 1,0 2.8,0a1.4,1.8 0 1,0 -2.8,0M361.3,219.9a1.4,1.8 0 1,0 2.8,0a1.4,1.8 0 1,0 -2.8,0M342.8,222.0a1.4,1.8 0 1,0 2.8,0a1.4,1.8 0 1,0 -2.8,0M332.5,225.0a1.4,1.8 0 1,0 2.8,0a1.4,1.8 0 1,0 -2.8,0M361.8,210.2a1.4,1.8 0 1,0 2.8,0a1.4,1.8 0 1,0 -2.8,0M331.4,217.7a1.4,1.8 0 1,0 2.8,0a1.4,1.8 0 1,0 -2.8,0M335.2,224.1a1.4,1.8 0 1,0 2.8,0a1.4,1.8 0 1,0 -2.8,0M330.7,226.2a1.4,1.8 0 1,0 2.8,0a1.4,1.8 0 1,0 -2.8,0M354.0,202.3a1.4,1.8 0 1,0 2.8,0a1.4,1.8 0 1,0 -2.8,0M350.5,223.7a1.4,1.8 0 1,0 2.8,0a1.4,1.8 0 1,0 -2.8,0M352.4,230.5a1.4,1.8 0 1,0 2.8,0a1.4,1.8 0 1,0 -2.8,0M345.5,229.4a1.4,1.8 0 1,0 2.8,0a1.4,1.8 0 1,0 -2.8,0M346.4,221.9a1.4,1.8 0 1,0 2.8,0a1.4,1.8 0 1,0 -2.8,0M338.8,228.0a1.4,1.8 0 1,0 2.8,0a1.4,1.8 0 1,0 -2.8,0M350.4,228.6a1.4,1.8 0 1,0 2.8,0a1.4,1.8 0 1,0 -2.8,0M338.3,199.8a1.4,1.8 0 1,0 2.8,0a1.4,1.8 0 1,0 -2.8,0M333.3,221.6a1.4,1.8 0 1,0 2.8,0a1.4,1.8 0 1,0 -2.8,0M332.8,208.8a1.4,1.8 0 1,0 2.8,0a1.4,1.8 0 1,0 -2.8,0M364.2,186.5a1.4,1.8 0 1,0 2.8,0a1.4,1.8 0 1,0 -2.8,0M348.0,209.1a1.4,1.8 0 1,0 2.8,0a1.4,1.8 0 1,0 -2.8,0M347.6,215.3a1.4,1.8 0 1,0 2.8,0a1.4,1.8 0 1,0 -2.8,0M373.6,182.3a1.4,1.8 0 1,0 2.8,0a1.4,1.8 0 1,0 -2.8,0M356.3,219.8a1.4,1.8 0 1,0 2.8,0a1.4,1.8 0 1,0 -2.8,0M333.2,215.0a1.4,1.8 0 1,0 2.8,0a1.4,1.8 0 1,0 -2.8,0M337.3,227.9a1.4,1.8 0 1,0 2.8,0a1.4,1.8 0 1,0 -2.8,0M343.9,216.0a1.4,1.8 0 1,0 2.8,0a1.4,1.8 0 1,0 -2.8,0M376.0,207.3a1.4,1.8 0 1,0 2.8,0a1.4,1.8 0 1,0 -2.8,0M350.7,218.9a1.4,1.8 0 1,0 2.8,0a1.4,1.8 0 1,0 -2.8,0M344.0,234.0a1.4,1.8 0 1,0 2.8,0a1.4,1.8 0 1,0 -2.8,0M368.6,228.6a1.4,1.8 0 1,0 2.8,0a1.4,1.8 0 1,0 -2.8,0M340.5,218.7a1.4,1.8 0 1,0 2.8,0a1.4,1.8 0 1,0 -2.8,0M358.0,215.2a1.4,1.8 0 1,0 2.8,0a1.4,1.8 0 1,0 -2.8,0M330.2,221.5a1.4,1.8 0 1,0 2.8,0a1.4,1.8 0 1,0 -2.8,0M351.8,218.3a1.4,1.8 0 1,0 2.8,0a1.4,1.8 0 1,0 -2.8,0M340.6,219.3a1.4,1.8 0 1,0 2.8,0a1.4,1.8 0 1,0 -2.8,0M369.5,193.9a1.4,1.8 0 1,0 2.8,0a1.4,1.8 0 1,0 -2.8,0M393.0,215.7a1.4,1.8 0 1,0 2.8,0a1.4,1.8 0 1,0 -2.8,0M402.7,215.4a1.4,1.8 0 1,0 2.8,0a1.4,1.8 0 1,0 -2.8,0M336.9,217.6a1.4,1.8 0 1,0 2.8,0a1.4,1.8 0 1,0 -2.8,0M364.2,208.4a1.4,1.8 0 1,0 2.8,0a1.4,1.8 0 1,0 -2.8,0M333.1,218.6a1.4,1.8 0 1,0 2.8,0a1.4,1.8 0 1,0 -2.8,0M337.8,235.2a1.4,1.8 0 1,0 2.8,0a1.4,1.8 0 1,0 -2.8,0M336.8,207.9a1.4,1.8 0 1,0 2.8,0a1.4,1.8 0 1,0 -2.8,0M357.5,192.3a1.4,1.8 0 1,0 2.8,0a1.4,1.8 0 1,0 -2.8,0M342.5,233.7a1.4,1.8 0 1,0 2.8,0a1.4,1.8 0 1,0 -2.8,0M330.5,228.1a1.4,1.8 0 1,0 2.8,0a1.4,1.8 0 1,0 -2.8,0M337.3,230.6a1.4,1.8 0 1,0 2.8,0a1.4,1.8 0 1,0 -2.8,0M340.0,219.3a1.4,1.8 0 1,0 2.8,0a1.4,1.8 0 1,0 -2.8,0M388.8,185.3a1.4,1.8 0 1,0 2.8,0a1.4,1.8 0 1,0 -2.8,0M330.3,220.4a1.4,1.8 0 1,0 2.8,0a1.4,1.8 0 1,0 -2.8,0M352.0,214.7a1.4,1.8 0 1,0 2.8,0a1.4,1.8 0 1,0 -2.8,0M338.1,228.8a1.4,1.8 0 1,0 2.8,0a1.4,1.8 0 1,0 -2.8,0M358.6,215.8a1.4,1.8 0 1,0 2.8,0a1.4,1.8 0 1,0 -2.8,0M339.9,220.1a1.4,1.8 0 1,0 2.8,0a1.4,1.8 0 1,0 -2.8,0M349.9,202.4a1.4,1.8 0 1,0 2.8,0a1.4,1.8 0 1,0 -2.8,0M365.8,210.5a1.4,1.8 0 1,0 2.8,0a1.4,1.8 0 1,0 -2.8,0M361.4,190.7a1.4,1.8 0 1,0 2.8,0a1.4,1.8 0 1,0 -2.8,0M345.8,219.4a1.4,1.8 0 1,0 2.8,0a1.4,1.8 0 1,0 -2.8,0M350.3,200.7a1.4,1.8 0 1,0 2.8,0a1.4,1.8 0 1,0 -2.8,0M350.9,201.2a1.4,1.8 0 1,0 2.8,0a1.4,1.8 0 1,0 -2.8,0M339.7,224.1a1.4,1.8 0 1,0 2.8,0a1.4,1.8 0 1,0 -2.8,0M366.9,209.7a1.4,1.8 0 1,0 2.8,0a1.4,1.8 0 1,0 -2.8,0M340.9,231.4a1.4,1.8 0 1,0 2.8,0a1.4,1.8 0 1,0 -2.8,0M358.6,204.1a1.4,1.8 0 1,0 2.8,0a1.4,1.8 0 1,0 -2.8,0M331.6,230.3a1.4,1.8 0 1,0 2.8,0a1.4,1.8 0 1,0 -2.8,0M359.1,223.2a1.4,1.8 0 1,0 2.8,0a1.4,1.8 0 1,0 -2.8,0M347.8,215.4a1.4,1.8 0 1,0 2.8,0a1.4,1.8 0 1,0 -2.8,0M342.9,216.9a1.4,1.8 0 1,0 2.8,0a1.4,1.8 0 1,0 -2.8,0M341.6,216.3a1.4,1.8 0 1,0 2.8,0a1.4,1.8 0 1,0 -2.8,0M360.9,208.3a1.4,1.8 0 1,0 2.8,0a1.4,1.8 0 1,0 -2.8,0M351.3,225.3a1.4,1.8 0 1,0 2.8,0a1.4,1.8 0 1,0 -2.8,0M347.5,207.1a1.4,1.8 0 1,0 2.8,0a1.4,1.8 0 1,0 -2.8,0M340.5,203.8a1.4,1.8 0 1,0 2.8,0a1.4,1.8 0 1,0 -2.8,0M337.2,221.0a1.4,1.8 0 1,0 2.8,0a1.4,1.8 0 1,0 -2.8,0M366.2,203.0a1.4,1.8 0 1,0 2.8,0a1.4,1.8 0 1,0 -2.8,0M363.7,188.3a1.4,1.8 0 1,0 2.8,0a1.4,1.8 0 1,0 -2.8,0M337.7,202.4a1.4,1.8 0 1,0 2.8,0a1.4,1.8 0 1,0 -2.8,0M349.0,234.8a1.4,1.8 0 1,0 2.8,0a1.4,1.8 0 1,0 -2.8,0M353.4,207.7a1.4,1.8 0 1,0 2.8,0a1.4,1.8 0 1,0 -2.8,0M352.8,209.6a1.4,1.8 0 1,0 2.8,0a1.4,1.8 0 1,0 -2.8,0M346.6,201.9a1.4,1.8 0 1,0 2.8,0a1.4,1.8 0 1,0 -2.8,0M381.3,214.7a1.4,1.8 0 1,0 2.8,0a1.4,1.8 0 1,0 -2.8,0M332.3,234.7a1.4,1.8 0 1,0 2.8,0a1.4,1.8 0 1,0 -2.8,0M359.1,215.8a1.4,1.8 0 1,0 2.8,0a1.4,1.8 0 1,0 -2.8,0M368.8,193.8a1.4,1.8 0 1,0 2.8,0a1.4,1.8 0 1,0 -2.8,0M365.4,191.7a1.4,1.8 0 1,0 2.8,0a1.4,1.8 0 1,0 -2.8,0M367.6,194.6a1.4,1.8 0 1,0 2.8,0a1.4,1.8 0 1,0 -2.8,0M332.7,218.2a1.4,1.8 0 1,0 2.8,0a1.4,1.8 0 1,0 -2.8,0M339.2,214.9a1.4,1.8 0 1,0 2.8,0a1.4,1.8 0 1,0 -2.8,0M355.6,201.7a1.4,1.8 0 1,0 2.8,0a1.4,1.8 0 1,0 -2.8,0M345.8,232.9a1.4,1.8 0 1,0 2.8,0a1.4,1.8 0 1,0 -2.8,0M334.0,222.6a1.4,1.8 0 1,0 2.8,0a1.4,1.8 0 1,0 -2.8,0M331.8,225.3a1.4,1.8 0 1,0 2.8,0a1.4,1.8 0 1,0 -2.8,0M340.9,232.7a1.4,1.8 0 1,0 2.8,0a1.4,1.8 0 1,0 -2.8,0M333.6,216.5a1.4,1.8 0 1,0 2.8,0a1.4,1.8 0 1,0 -2.8,0M369.1,210.5a1.4,1.8 0 1,0 2.8,0a1.4,1.8 0 1,0 -2.8,0M337.3,220.0a1.4,1.8 0 1,0 2.8,0a1.4,1.8 0 1,0 -2.8,0M357.0,230.6a1.4,1.8 0 1,0 2.8,0a1.4,1.8 0 1,0 -2.8,0M337.1,218.8a1.4,1.8 0 1,0 2.8,0a1.4,1.8 0 1,0 -2.8,0M379.1,212.8a1.4,1.8 0 1,0 2.8,0a1.4,1.8 0 1,0 -2.8,0M336.3,220.6a1.4,1.8 0 1,0 2.8,0a1.4,1.8 0 1,0 -2.8,0M337.1,219.9a1.4,1.8 0 1,0 2.8,0a1.4,1.8 0 1,0 -2.8,0M399.6,210.3a1.4,1.8 0 1,0 2.8,0a1.4,1.8 0 1,0 -2.8,0M350.2,207.2a1.4,1.8 0 1,0 2.8,0a1.4,1.8 0 1,0 -2.8,0M335.2,223.2a1.4,1.8 0 1,0 2.8,0a1.4,1.8 0 1,0 -2.8,0M335.1,224.5a1.4,1.8 0 1,0 2.8,0a1.4,1.8 0 1,0 -2.8,0M340.6,195.4a1.4,1.8 0 1,0 2.8,0a1.4,1.8 0 1,0 -2.8,0M406.7,212.4a1.4,1.8 0 1,0 2.8,0a1.4,1.8 0 1,0 -2.8,0M332.1,235.1a1.4,1.8 0 1,0 2.8,0a1.4,1.8 0 1,0 -2.8,0M348.7,225.0a1.4,1.8 0 1,0 2.8,0a1.4,1.8 0 1,0 -2.8,0M338.2,230.9a1.4,1.8 0 1,0 2.8,0a1.4,1.8 0 1,0 -2.8,0M331.3,225.0a1.4,1.8 0 1,0 2.8,0a1.4,1.8 0 1,0 -2.8,0M371.7,189.3a1.4,1.8 0 1,0 2.8,0a1.4,1.8 0 1,0 -2.8,0M347.4,209.5a1.4,1.8 0 1,0 2.8,0a1.4,1.8 0 1,0 -2.8,0M346.0,210.4a1.4,1.8 0 1,0 2.8,0a1.4,1.8 0 1,0 -2.8,0M339.7,234.0a1.4,1.8 0 1,0 2.8,0a1.4,1.8 0 1,0 -2.8,0M337.2,222.2a1.4,1.8 0 1,0 2.8,0a1.4,1.8 0 1,0 -2.8,0M343.5,217.4a1.4,1.8 0 1,0 2.8,0a1.4,1.8 0 1,0 -2.8,0M361.2,196.6a1.4,1.8 0 1,0 2.8,0a1.4,1.8 0 1,0 -2.8,0M361.7,197.4a1.4,1.8 0 1,0 2.8,0a1.4,1.8 0 1,0 -2.8,0M349.9,210.1a1.4,1.8 0 1,0 2.8,0a1.4,1.8 0 1,0 -2.8,0M356.0,219.9a1.4,1.8 0 1,0 2.8,0a1.4,1.8 0 1,0 -2.8,0M357.5,205.6a1.4,1.8 0 1,0 2.8,0a1.4,1.8 0 1,0 -2.8,0M338.5,219.4a1.4,1.8 0 1,0 2.8,0a1.4,1.8 0 1,0 -2.8,0M350.5,224.2a1.4,1.8 0 1,0 2.8,0a1.4,1.8 0 1,0 -2.8,0M332.9,224.0a1.4,1.8 0 1,0 2.8,0a1.4,1.8 0 1,0 -2.8,0M356.3,180.9a1.4,1.8 0 1,0 2.8,0a1.4,1.8 0 1,0 -2.8,0M335.9,214.2a1.4,1.8 0 1,0 2.8,0a1.4,1.8 0 1,0 -2.8,0M345.6,225.3a1.4,1.8 0 1,0 2.8,0a1.4,1.8 0 1,0 -2.8,0M335.9,229.1a1.4,1.8 0 1,0 2.8,0a1.4,1.8 0 1,0 -2.8,0M336.1,228.9a1.4,1.8 0 1,0 2.8,0a1.4,1.8 0 1,0 -2.8,0M346.9,217.9a1.4,1.8 0 1,0 2.8,0a1.4,1.8 0 1,0 -2.8,0M359.2,202.4a1.4,1.8 0 1,0 2.8,0a1.4,1.8 0 1,0 -2.8,0M334.9,216.0a1.4,1.8 0 1,0 2.8,0a1.4,1.8 0 1,0 -2.8,0M339.7,219.8a1.4,1.8 0 1,0 2.8,0a1.4,1.8 0 1,0 -2.8,0M363.9,176.0a1.4,1.8 0 1,0 2.8,0a1.4,1.8 0 1,0 -2.8,0M332.9,216.5a1.4,1.8 0 1,0 2.8,0a1.4,1.8 0 1,0 -2.8,0M333.6,224.2a1.4,1.8 0 1,0 2.8,0a1.4,1.8 0 1,0 -2.8,0M335.6,234.6a1.4,1.8 0 1,0 2.8,0a1.4,1.8 0 1,0 -2.8,0M371.9,195.5a1.4,1.8 0 1,0 2.8,0a1.4,1.8 0 1,0 -2.8,0M333.8,209.1a1.4,1.8 0 1,0 2.8,0a1.4,1.8 0 1,0 -2.8,0M353.2,222.7a1.4,1.8 0 1,0 2.8,0a1.4,1.8 0 1,0 -2.8,0M342.9,224.7a1.4,1.8 0 1,0 2.8,0a1.4,1.8 0 1,0 -2.8,0M354.9,210.0a1.4,1.8 0 1,0 2.8,0a1.4,1.8 0 1,0 -2.8,0M334.4,220.7a1.4,1.8 0 1,0 2.8,0a1.4,1.8 0 1,0 -2.8,0M354.3,200.3a1.4,1.8 0 1,0 2.8,0a1.4,1.8 0 1,0 -2.8,0M361.4,209.1a1.4,1.8 0 1,0 2.8,0a1.4,1.8 0 1,0 -2.8,0M354.2,222.1a1.4,1.8 0 1,0 2.8,0a1.4,1.8 0 1,0 -2.8,0M340.6,211.3a1.4,1.8 0 1,0 2.8,0a1.4,1.8 0 1,0 -2.8,0M338.2,223.7a1.4,1.8 0 1,0 2.8,0a1.4,1.8 0 1,0 -2.8,0M350.2,213.4a1.4,1.8 0 1,0 2.8,0a1.4,1.8 0 1,0 -2.8,0M333.7,212.3a1.4,1.8 0 1,0 2.8,0a1.4,1.8 0 1,0 -2.8,0M339.9,225.6a1.4,1.8 0 1,0 2.8,0a1.4,1.8 0 1,0 -2.8,0M356.7,219.0a1.4,1.8 0 1,0 2.8,0a1.4,1.8 0 1,0 -2.8,0M348.6,206.9a1.4,1.8 0 1,0 2.8,0a1.4,1.8 0 1,0 -2.8,0M342.2,218.4a1.4,1.8 0 1,0 2.8,0a1.4,1.8 0 1,0 -2.8,0M359.1,230.1a1.4,1.8 0 1,0 2.8,0a1.4,1.8 0 1,0 -2.8,0M331.1,220.6a1.4,1.8 0 1,0 2.8,0a1.4,1.8 0 1,0 -2.8,0M350.3,200.5a1.4,1.8 0 1,0 2.8,0a1.4,1.8 0 1,0 -2.8,0M368.1,219.2a1.4,1.8 0 1,0 2.8,0a1.4,1.8 0 1,0 -2.8,0M335.9,223.7a1.4,1.8 0 1,0 2.8,0a1.4,1.8 0 1,0 -2.8,0M341.1,216.3a1.4,1.8 0 1,0 2.8,0a1.4,1.8 0 1,0 -2.8,0M333.8,221.3a1.4,1.8 0 1,0 2.8,0a1.4,1.8 0 1,0 -2.8,0M381.2,185.5a1.4,1.8 0 1,0 2.8,0a1.4,1.8 0 1,0 -2.8,0M345.0,228.5a1.4,1.8 0 1,0 2.8,0a1.4,1.8 0 1,0 -2.8,0M397.7,216.5a1.4,1.8 0 1,0 2.8,0a1.4,1.8 0 1,0 -2.8,0M347.1,205.4a1.4,1.8 0 1,0 2.8,0a1.4,1.8 0 1,0 -2.8,0M359.2,223.0a1.4,1.8 0 1,0 2.8,0a1.4,1.8 0 1,0 -2.8,0M353.7,209.2a1.4,1.8 0 1,0 2.8,0a1.4,1.8 0 1,0 -2.8,0M336.5,225.3a1.4,1.8 0 1,0 2.8,0a1.4,1.8 0 1,0 -2.8,0M366.1,202.6a1.4,1.8 0 1,0 2.8,0a1.4,1.8 0 1,0 -2.8,0M349.3,215.9a1.4,1.8 0 1,0 2.8,0a1.4,1.8 0 1,0 -2.8,0M342.6,211.8a1.4,1.8 0 1,0 2.8,0a1.4,1.8 0 1,0 -2.8,0M358.8,194.2a1.4,1.8 0 1,0 2.8,0a1.4,1.8 0 1,0 -2.8,0M354.5,214.6a1.4,1.8 0 1,0 2.8,0a1.4,1.8 0 1,0 -2.8,0M339.9,233.7a1.4,1.8 0 1,0 2.8,0a1.4,1.8 0 1,0 -2.8,0M334.5,230.2a1.4,1.8 0 1,0 2.8,0a1.4,1.8 0 1,0 -2.8,0M333.6,228.0a1.4,1.8 0 1,0 2.8,0a1.4,1.8 0 1,0 -2.8,0M333.4,211.4a1.4,1.8 0 1,0 2.8,0a1.4,1.8 0 1,0 -2.8,0M358.3,195.5a1.4,1.8 0 1,0 2.8,0a1.4,1.8 0 1,0 -2.8,0M354.0,213.2a1.4,1.8 0 1,0 2.8,0a1.4,1.8 0 1,0 -2.8,0M345.3,207.4a1.4,1.8 0 1,0 2.8,0a1.4,1.8 0 1,0 -2.8,0M333.3,226.7a1.4,1.8 0 1,0 2.8,0a1.4,1.8 0 1,0 -2.8,0M365.7,199.5a1.4,1.8 0 1,0 2.8,0a1.4,1.8 0 1,0 -2.8,0M355.1,204.6a1.4,1.8 0 1,0 2.8,0a1.4,1.8 0 1,0 -2.8,0M360.3,183.1a1.4,1.8 0 1,0 2.8,0a1.4,1.8 0 1,0 -2.8,0M364.8,201.5a1.4,1.8 0 1,0 2.8,0a1.4,1.8 0 1,0 -2.8,0M331.3,231.4a1.4,1.8 0 1,0 2.8,0a1.4,1.8 0 1,0 -2.8,0M336.6,229.9a1.4,1.8 0 1,0 2.8,0a1.4,1.8 0 1,0 -2.8,0M365.1,215.9a1.4,1.8 0 1,0 2.8,0a1.4,1.8 0 1,0 -2.8,0M355.4,207.9a1.4,1.8 0 1,0 2.8,0a1.4,1.8 0 1,0 -2.8,0M356.4,199.9a1.4,1.8 0 1,0 2.8,0a1.4,1.8 0 1,0 -2.8,0M341.2,202.8a1.4,1.8 0 1,0 2.8,0a1.4,1.8 0 1,0 -2.8,0M344.2,214.4a1.4,1.8 0 1,0 2.8,0a1.4,1.8 0 1,0 -2.8,0M337.0,221.9a1.4,1.8 0 1,0 2.8,0a1.4,1.8 0 1,0 -2.8,0M330.4,233.7a1.4,1.8 0 1,0 2.8,0a1.4,1.8 0 1,0 -2.8,0M357.4,220.1a1.4,1.8 0 1,0 2.8,0a1.4,1.8 0 1,0 -2.8,0M336.3,225.3a1.4,1.8 0 1,0 2.8,0a1.4,1.8 0 1,0 -2.8,0M335.9,214.2a1.4,1.8 0 1,0 2.8,0a1.4,1.8 0 1,0 -2.8,0M334.6,233.1a1.4,1.8 0 1,0 2.8,0a1.4,1.8 0 1,0 -2.8,0M346.2,206.9a1.4,1.8 0 1,0 2.8,0a1.4,1.8 0 1,0 -2.8,0M347.4,221.5a1.4,1.8 0 1,0 2.8,0a1.4,1.8 0 1,0 -2.8,0M336.5,230.7a1.4,1.8 0 1,0 2.8,0a1.4,1.8 0 1,0 -2.8,0M349.7,212.1a1.4,1.8 0 1,0 2.8,0a1.4,1.8 0 1,0 -2.8,0M336.7,232.0a1.4,1.8 0 1,0 2.8,0a1.4,1.8 0 1,0 -2.8,0M357.6,229.5a1.4,1.8 0 1,0 2.8,0a1.4,1.8 0 1,0 -2.8,0M360.8,203.7a1.4,1.8 0 1,0 2.8,0a1.4,1.8 0 1,0 -2.8,0M357.9,204.3a1.4,1.8 0 1,0 2.8,0a1.4,1.8 0 1,0 -2.8,0M404.9,191.4a1.4,1.8 0 1,0 2.8,0a1.4,1.8 0 1,0 -2.8,0M333.0,216.5a1.4,1.8 0 1,0 2.8,0a1.4,1.8 0 1,0 -2.8,0M344.4,222.3a1.4,1.8 0 1,0 2.8,0a1.4,1.8 0 1,0 -2.8,0M342.8,213.8a1.4,1.8 0 1,0 2.8,0a1.4,1.8 0 1,0 -2.8,0M374.6,177.3a1.4,1.8 0 1,0 2.8,0a1.4,1.8 0 1,0 -2.8,0M334.4,219.3a1.4,1.8 0 1,0 2.8,0a1.4,1.8 0 1,0 -2.8,0M339.9,221.2a1.4,1.8 0 1,0 2.8,0a1.4,1.8 0 1,0 -2.8,0M368.5,216.0a1.4,1.8 0 1,0 2.8,0a1.4,1.8 0 1,0 -2.8,0M332.3,234.1a1.4,1.8 0 1,0 2.8,0a1.4,1.8 0 1,0 -2.8,0M343.1,230.8a1.4,1.8 0 1,0 2.8,0a1.4,1.8 0 1,0 -2.8,0M362.5,182.8a1.4,1.8 0 1,0 2.8,0a1.4,1.8 0 1,0 -2.8,0M365.1,229.6a1.4,1.8 0 1,0 2.8,0a1.4,1.8 0 1,0 -2.8,0M343.3,228.1a1.4,1.8 0 1,0 2.8,0a1.4,1.8 0 1,0 -2.8,0M349.9,125.2a1.4,1.8 0 1,0 2.8,0a1.4,1.8 0 1,0 -2.8,0M352.5,130.3a1.4,1.8 0 1,0 2.8,0a1.4,1.8 0 1,0 -2.8,0M515.1,56.1a1.4,1.8 0 1,0 2.8,0a1.4,1.8 0 1,0 -2.8,0M388.5,101.6a1.4,1.8 0 1,0 2.8,0a1.4,1.8 0 1,0 -2.8,0M382.0,111.7a1.4,1.8 0 1,0 2.8,0a1.4,1.8 0 1,0 -2.8,0M408.0,118.8a1.4,1.8 0 1,0 2.8,0a1.4,1.8 0 1,0 -2.8,0M393.7,125.6a1.4,1.8 0 1,0 2.8,0a1.4,1.8 0 1,0 -2.8,0M463.5,125.6a1.4,1.8 0 1,0 2.8,0a1.4,1.8 0 1,0 -2.8,0M418.0,129.8a1.4,1.8 0 1,0 2.8,0a1.4,1.8 0 1,0 -2.8,0M421.9,135.7a1.4,1.8 0 1,0 2.8,0a1.4,1.8 0 1,0 -2.8,0M425.5,133.7a1.4,1.8 0 1,0 2.8,0a1.4,1.8 0 1,0 -2.8,0M388.8,139.6a1.4,1.8 0 1,0 2.8,0a1.4,1.8 0 1,0 -2.8,0M401.1,143.2a1.4,1.8 0 1,0 2.8,0a1.4,1.8 0 1,0 -2.8,0M475.5,146.4a1.4,1.8 0 1,0 2.8,0a1.4,1.8 0 1,0 -2.8,0M502.1,147.0a1.4,1.8 0 1,0 2.8,0a1.4,1.8 0 1,0 -2.8,0M441.7,150.3a1.4,1.8 0 1,0 2.8,0a1.4,1.8 0 1,0 -2.8,0M421.4,164.1a1.4,1.8 0 1,0 2.8,0a1.4,1.8 0 1,0 -2.8,0M423.1,169.3a1.4,1.8 0 1,0 2.8,0a1.4,1.8 0 1,0 -2.8,0M439.9,160.7a1.4,1.8 0 1,0 2.8,0a1.4,1.8 0 1,0 -2.8,0M434.4,169.3a1.4,1.8 0 1,0 2.8,0a1.4,1.8 0 1,0 -2.8,0M450.3,182.7a1.4,1.8 0 1,0 2.8,0a1.4,1.8 0 1,0 -2.8,0M423.1,198.5a1.4,1.8 0 1,0 2.8,0a1.4,1.8 0 1,0 -2.8,0M427.9,196.1a1.4,1.8 0 1,0 2.8,0a1.4,1.8 0 1,0 -2.8,0M444.4,202.7a1.4,1.8 0 1,0 2.8,0a1.4,1.8 0 1,0 -2.8,0M474.4,215.0a1.4,1.8 0 1,0 2.8,0a1.4,1.8 0 1,0 -2.8,0M425.5,237.1a1.4,1.8 0 1,0 2.8,0a1.4,1.8 0 1,0 -2.8,0M403.5,150.7a1.4,1.8 0 1,0 2.8,0a1.4,1.8 0 1,0 -2.8,0M377.2,156.5a1.4,1.8 0 1,0 2.8,0a1.4,1.8 0 1,0 -2.8,0M392.4,155.6a1.4,1.8 0 1,0 2.8,0a1.4,1.8 0 1,0 -2.8,0M401.0,155.6a1.4,1.8 0 1,0 2.8,0a1.4,1.8 0 1,0 -2.8,0M402.5,159.5a1.4,1.8 0 1,0 2.8,0a1.4,1.8 0 1,0 -2.8,0M405.1,162.8a1.4,1.8 0 1,0 2.8,0a1.4,1.8 0 1,0 -2.8,0M413.2,159.1a1.4,1.8 0 1,0 2.8,0a1.4,1.8 0 1,0 -2.8,0M385.0,163.4a1.4,1.8 0 1,0 2.8,0a1.4,1.8 0 1,0 -2.8,0M382.7,165.9a1.4,1.8 0 1,0 2.8,0a1.4,1.8 0 1,0 -2.8,0M401.6,164.9a1.4,1.8 0 1,0 2.8,0a1.4,1.8 0 1,0 -2.8,0M403.5,167.2a1.4,1.8 0 1,0 2.8,0a1.4,1.8 0 1,0 -2.8,0M411.9,165.3a1.4,1.8 0 1,0 2.8,0a1.4,1.8 0 1,0 -2.8,0M366.5,169.2a1.4,1.8 0 1,0 2.8,0a1.4,1.8 0 1,0 -2.8,0M380.1,171.1a1.4,1.8 0 1,0 2.8,0a1.4,1.8 0 1,0 -2.8,0M387.0,170.2a1.4,1.8 0 1,0 2.8,0a1.4,1.8 0 1,0 -2.8,0M411.3,171.5a1.4,1.8 0 1,0 2.8,0a1.4,1.8 0 1,0 -2.8,0M415.8,170.2a1.4,1.8 0 1,0 2.8,0a1.4,1.8 0 1,0 -2.8,0M416.1,174.1a1.4,1.8 0 1,0 2.8,0a1.4,1.8 0 1,0 -2.8,0M416.5,178.9a1.4,1.8 0 1,0 2.8,0a1.4,1.8 0 1,0 -2.8,0M388.5,175.0a1.4,1.8 0 1,0 2.8,0a1.4,1.8 0 1,0 -2.8,0M395.7,177.0a1.4,1.8 0 1,0 2.8,0a1.4,1.8 0 1,0 -2.8,0M399.6,176.0a1.4,1.8 0 1,0 2.8,0a1.4,1.8 0 1,0 -2.8,0M402.5,175.0a1.4,1.8 0 1,0 2.8,0a1.4,1.8 0 1,0 -2.8,0M405.4,178.9a1.4,1.8 0 1,0 2.8,0a1.4,1.8 0 1,0 -2.8,0M392.8,178.9a1.4,1.8 0 1,0 2.8,0a1.4,1.8 0 1,0 -2.8,0M383.1,178.0a1.4,1.8 0 1,0 2.8,0a1.4,1.8 0 1,0 -2.8,0M382.1,180.9a1.4,1.8 0 1,0 2.8,0a1.4,1.8 0 1,0 -2.8,0M389.9,180.9a1.4,1.8 0 1,0 2.8,0a1.4,1.8 0 1,0 -2.8,0M398.6,181.8a1.4,1.8 0 1,0 2.8,0a1.4,1.8 0 1,0 -2.8,0M404.5,182.8a1.4,1.8 0 1,0 2.8,0a1.4,1.8 0 1,0 -2.8,0M409.3,182.8a1.4,1.8 0 1,0 2.8,0a1.4,1.8 0 1,0 -2.8,0M372.4,180.9a1.4,1.8 0 1,0 2.8,0a1.4,1.8 0 1,0 -2.8,0M375.3,181.8a1.4,1.8 0 1,0 2.8,0a1.4,1.8 0 1,0 -2.8,0M367.5,184.8a1.4,1.8 0 1,0 2.8,0a1.4,1.8 0 1,0 -2.8,0M401.6,186.3a1.4,1.8 0 1,0 2.8,0a1.4,1.8 0 1,0 -2.8,0M405.4,187.7a1.4,1.8 0 1,0 2.8,0a1.4,1.8 0 1,0 -2.8,0M412.3,186.7a1.4,1.8 0 1,0 2.8,0a1.4,1.8 0 1,0 -2.8,0M393.8,187.7a1.4,1.8 0 1,0 2.8,0a1.4,1.8 0 1,0 -2.8,0M389.9,183.8a1.4,1.8 0 1,0 2.8,0a1.4,1.8 0 1,0 -2.8,0M404.5,192.2a1.4,1.8 0 1,0 2.8,0a1.4,1.8 0 1,0 -2.8,0M379.2,191.6a1.4,1.8 0 1,0 2.8,0a1.4,1.8 0 1,0 -2.8,0M385.0,191.6a1.4,1.8 0 1,0 2.8,0a1.4,1.8 0 1,0 -2.8,0M390.8,200.9a1.4,1.8 0 1,0 2.8,0a1.4,1.8 0 1,0 -2.8,0M397.2,204.2a1.4,1.8 0 1,0 2.8,0a1.4,1.8 0 1,0 -2.8,0M408.6,201.8a1.4,1.8 0 1,0 2.8,0a1.4,1.8 0 1,0 -2.8,0M405.7,206.0a1.4,1.8 0 1,0 2.8,0a1.4,1.8 0 1,0 -2.8,0M401.4,207.8a1.4,1.8 0 1,0 2.8,0a1.4,1.8 0 1,0 -2.8,0M412.6,207.8a1.4,1.8 0 1,0 2.8,0a1.4,1.8 0 1,0 -2.8,0M383.6,207.2a1.4,1.8 0 1,0 2.8,0a1.4,1.8 0 1,0 -2.8,0M386.3,207.8a1.4,1.8 0 1,0 2.8,0a1.4,1.8 0 1,0 -2.8,0M381.8,212.7a1.4,1.8 0 1,0 2.8,0a1.4,1.8 0 1,0 -2.8,0M394.5,215.4a1.4,1.8 0 1,0 2.8,0a1.4,1.8 0 1,0 -2.8,0M397.7,215.4a1.4,1.8 0 1,0 2.8,0a1.4,1.8 0 1,0 -2.8,0M407.2,217.6a1.4,1.8 0 1,0 2.8,0a1.4,1.8 0 1,0 -2.8,0M385.4,217.2a1.4,1.8 0 1,0 2.8,0a1.4,1.8 0 1,0 -2.8,0M380.8,220.5a1.4,1.8 0 1,0 2.8,0a1.4,1.8 0 1,0 -2.8,0M385.0,223.2a1.4,1.8 0 1,0 2.8,0a1.4,1.8 0 1,0 -2.8,0M389.0,226.3a1.4,1.8 0 1,0 2.8,0a1.4,1.8 0 1,0 -2.8,0M391.2,228.5a1.4,1.8 0 1,0 2.8,0a1.4,1.8 0 1,0 -2.8,0M402.1,225.9a1.4,1.8 0 1,0 2.8,0a1.4,1.8 0 1,0 -2.8,0M387.7,232.1a1.4,1.8 0 1,0 2.8,0a1.4,1.8 0 1,0 -2.8,0M378.1,233.0a1.4,1.8 0 1,0 2.8,0a1.4,1.8 0 1,0 -2.8,0M368.1,233.0a1.4,1.8 0 1,0 2.8,0a1.4,1.8 0 1,0 -2.8,0M370.0,237.6a1.4,1.8 0 1,0 2.8,0a1.4,1.8 0 1,0 -2.8,0M330.8,162.8a1.4,1.8 0 1,0 2.8,0a1.4,1.8 0 1,0 -2.8,0M343.9,164.9a1.4,1.8 0 1,0 2.8,0a1.4,1.8 0 1,0 -2.8,0M345.4,170.2a1.4,1.8 0 1,0 2.8,0a1.4,1.8 0 1,0 -2.8,0M346.8,173.5a1.4,1.8 0 1,0 2.8,0a1.4,1.8 0 1,0 -2.8,0M354.2,173.1a1.4,1.8 0 1,0 2.8,0a1.4,1.8 0 1,0 -2.8,0M360.0,174.6a1.4,1.8 0 1,0 2.8,0a1.4,1.8 0 1,0 -2.8,0M345.4,178.0a1.4,1.8 0 1,0 2.8,0a1.4,1.8 0 1,0 -2.8,0M349.9,178.9a1.4,1.8 0 1,0 2.8,0a1.4,1.8 0 1,0 -2.8,0M352.3,181.8a1.4,1.8 0 1,0 2.8,0a1.4,1.8 0 1,0 -2.8,0M363.0,179.9a1.4,1.8 0 1,0 2.8,0a1.4,1.8 0 1,0 -2.8,0M339.6,182.8a1.4,1.8 0 1,0 2.8,0a1.4,1.8 0 1,0 -2.8,0M344.5,180.9a1.4,1.8 0 1,0 2.8,0a1.4,1.8 0 1,0 -2.8,0M345.4,185.2a1.4,1.8 0 1,0 2.8,0a1.4,1.8 0 1,0 -2.8,0M360.0,185.2a1.4,1.8 0 1,0 2.8,0a1.4,1.8 0 1,0 -2.8,0M363.9,185.2a1.4,1.8 0 1,0 2.8,0a1.4,1.8 0 1,0 -2.8,0M348.4,187.7a1.4,1.8 0 1,0 2.8,0a1.4,1.8 0 1,0 -2.8,0M353.2,188.7a1.4,1.8 0 1,0 2.8,0a1.4,1.8 0 1,0 -2.8,0M325.4,189.6a1.4,1.8 0 1,0 2.8,0a1.4,1.8 0 1,0 -2.8,0M343.5,191.6a1.4,1.8 0 1,0 2.8,0a1.4,1.8 0 1,0 -2.8,0M330.8,196.4a1.4,1.8 0 1,0 2.8,0a1.4,1.8 0 1,0 -2.8,0M334.7,197.4a1.4,1.8 0 1,0 2.8,0a1.4,1.8 0 1,0 -2.8,0M314.5,202.7a1.4,1.8 0 1,0 2.8,0a1.4,1.8 0 1,0 -2.8,0M317.2,206.3a1.4,1.8 0 1,0 2.8,0a1.4,1.8 0 1,0 -2.8,0M324.5,203.6a1.4,1.8 0 1,0 2.8,0a1.4,1.8 0 1,0 -2.8,0M325.4,208.2a1.4,1.8 0 1,0 2.8,0a1.4,1.8 0 1,0 -2.8,0M316.3,213.6a1.4,1.8 0 1,0 2.8,0a1.4,1.8 0 1,0 -2.8,0M314.5,220.0a1.4,1.8 0 1,0 2.8,0a1.4,1.8 0 1,0 -2.8,0M312.7,228.1a1.4,1.8 0 1,0 2.8,0a1.4,1.8 0 1,0 -2.8,0" fill="none" stroke="#222" stroke-width="0.85"/>
<rect x="38.5" y="49" width="219" height="197" fill="none" stroke="#4a4a4a" stroke-width="1"/>
<rect x="305.5" y="49" width="219" height="197" fill="none" stroke="#4a4a4a" stroke-width="1"/>
</svg></body></html>
